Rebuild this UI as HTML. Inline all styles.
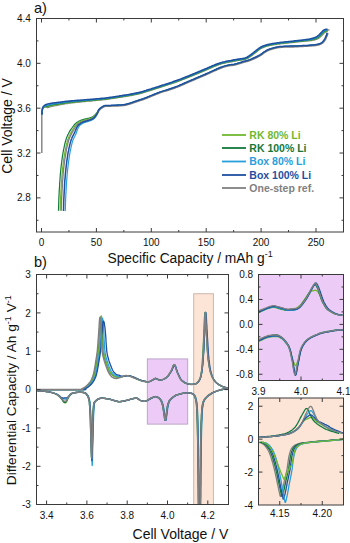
<!DOCTYPE html>
<html><head><meta charset="utf-8"><style>
html,body{margin:0;padding:0;background:#fff;}
svg{display:block;}
svg text{font-family:"Liberation Sans",sans-serif;}
</style></head><body>
<svg width="350" height="543" viewBox="0 0 350 543" font-family="Liberation Sans, sans-serif">
<rect width="350" height="543" fill="#fff"/>
<rect x="36.5" y="18.5" width="307.0" height="213.5" fill="none" stroke="#3a3a3a" stroke-width="1"/>
<line x1="41.50" y1="232.00" x2="41.50" y2="228.00" stroke="#3a3a3a" stroke-width="1"/>
<line x1="41.50" y1="18.50" x2="41.50" y2="22.50" stroke="#3a3a3a" stroke-width="1"/>
<line x1="96.40" y1="232.00" x2="96.40" y2="228.00" stroke="#3a3a3a" stroke-width="1"/>
<line x1="96.40" y1="18.50" x2="96.40" y2="22.50" stroke="#3a3a3a" stroke-width="1"/>
<line x1="151.30" y1="232.00" x2="151.30" y2="228.00" stroke="#3a3a3a" stroke-width="1"/>
<line x1="151.30" y1="18.50" x2="151.30" y2="22.50" stroke="#3a3a3a" stroke-width="1"/>
<line x1="206.20" y1="232.00" x2="206.20" y2="228.00" stroke="#3a3a3a" stroke-width="1"/>
<line x1="206.20" y1="18.50" x2="206.20" y2="22.50" stroke="#3a3a3a" stroke-width="1"/>
<line x1="261.10" y1="232.00" x2="261.10" y2="228.00" stroke="#3a3a3a" stroke-width="1"/>
<line x1="261.10" y1="18.50" x2="261.10" y2="22.50" stroke="#3a3a3a" stroke-width="1"/>
<line x1="316.00" y1="232.00" x2="316.00" y2="228.00" stroke="#3a3a3a" stroke-width="1"/>
<line x1="316.00" y1="18.50" x2="316.00" y2="22.50" stroke="#3a3a3a" stroke-width="1"/>
<line x1="68.95" y1="232.00" x2="68.95" y2="230.00" stroke="#3a3a3a" stroke-width="1"/>
<line x1="68.95" y1="18.50" x2="68.95" y2="20.50" stroke="#3a3a3a" stroke-width="1"/>
<line x1="123.85" y1="232.00" x2="123.85" y2="230.00" stroke="#3a3a3a" stroke-width="1"/>
<line x1="123.85" y1="18.50" x2="123.85" y2="20.50" stroke="#3a3a3a" stroke-width="1"/>
<line x1="178.75" y1="232.00" x2="178.75" y2="230.00" stroke="#3a3a3a" stroke-width="1"/>
<line x1="178.75" y1="18.50" x2="178.75" y2="20.50" stroke="#3a3a3a" stroke-width="1"/>
<line x1="233.65" y1="232.00" x2="233.65" y2="230.00" stroke="#3a3a3a" stroke-width="1"/>
<line x1="233.65" y1="18.50" x2="233.65" y2="20.50" stroke="#3a3a3a" stroke-width="1"/>
<line x1="288.55" y1="232.00" x2="288.55" y2="230.00" stroke="#3a3a3a" stroke-width="1"/>
<line x1="288.55" y1="18.50" x2="288.55" y2="20.50" stroke="#3a3a3a" stroke-width="1"/>
<line x1="36.50" y1="63.34" x2="40.50" y2="63.34" stroke="#3a3a3a" stroke-width="1"/>
<line x1="343.50" y1="63.34" x2="339.50" y2="63.34" stroke="#3a3a3a" stroke-width="1"/>
<line x1="36.50" y1="108.18" x2="40.50" y2="108.18" stroke="#3a3a3a" stroke-width="1"/>
<line x1="343.50" y1="108.18" x2="339.50" y2="108.18" stroke="#3a3a3a" stroke-width="1"/>
<line x1="36.50" y1="153.02" x2="40.50" y2="153.02" stroke="#3a3a3a" stroke-width="1"/>
<line x1="343.50" y1="153.02" x2="339.50" y2="153.02" stroke="#3a3a3a" stroke-width="1"/>
<line x1="36.50" y1="197.86" x2="40.50" y2="197.86" stroke="#3a3a3a" stroke-width="1"/>
<line x1="343.50" y1="197.86" x2="339.50" y2="197.86" stroke="#3a3a3a" stroke-width="1"/>
<line x1="36.50" y1="40.92" x2="38.50" y2="40.92" stroke="#3a3a3a" stroke-width="1"/>
<line x1="343.50" y1="40.92" x2="341.50" y2="40.92" stroke="#3a3a3a" stroke-width="1"/>
<line x1="36.50" y1="85.76" x2="38.50" y2="85.76" stroke="#3a3a3a" stroke-width="1"/>
<line x1="343.50" y1="85.76" x2="341.50" y2="85.76" stroke="#3a3a3a" stroke-width="1"/>
<line x1="36.50" y1="130.60" x2="38.50" y2="130.60" stroke="#3a3a3a" stroke-width="1"/>
<line x1="343.50" y1="130.60" x2="341.50" y2="130.60" stroke="#3a3a3a" stroke-width="1"/>
<line x1="36.50" y1="175.44" x2="38.50" y2="175.44" stroke="#3a3a3a" stroke-width="1"/>
<line x1="343.50" y1="175.44" x2="341.50" y2="175.44" stroke="#3a3a3a" stroke-width="1"/>
<line x1="36.50" y1="220.28" x2="38.50" y2="220.28" stroke="#3a3a3a" stroke-width="1"/>
<line x1="343.50" y1="220.28" x2="341.50" y2="220.28" stroke="#3a3a3a" stroke-width="1"/>
<text x="30.80" y="22.10" font-size="10" text-anchor="end" fill="#111" font-weight="normal" >4.4</text>
<text x="30.80" y="66.94" font-size="10" text-anchor="end" fill="#111" font-weight="normal" >4.0</text>
<text x="30.80" y="111.78" font-size="10" text-anchor="end" fill="#111" font-weight="normal" >3.6</text>
<text x="30.80" y="156.62" font-size="10" text-anchor="end" fill="#111" font-weight="normal" >3.2</text>
<text x="30.80" y="201.46" font-size="10" text-anchor="end" fill="#111" font-weight="normal" >2.8</text>
<text x="41.50" y="245.60" font-size="10" text-anchor="middle" fill="#111" font-weight="normal" >0</text>
<text x="96.40" y="245.60" font-size="10" text-anchor="middle" fill="#111" font-weight="normal" >50</text>
<text x="151.30" y="245.60" font-size="10" text-anchor="middle" fill="#111" font-weight="normal" >100</text>
<text x="206.20" y="245.60" font-size="10" text-anchor="middle" fill="#111" font-weight="normal" >150</text>
<text x="261.10" y="245.60" font-size="10" text-anchor="middle" fill="#111" font-weight="normal" >200</text>
<text x="316.00" y="245.60" font-size="10" text-anchor="middle" fill="#111" font-weight="normal" >250</text>
<text x="34.00" y="12.60" font-size="14.6" text-anchor="start" fill="#111" font-weight="normal" >a)</text>
<text x="190.10" y="262.70" font-size="13.8" text-anchor="middle" fill="#111" font-weight="normal" >Specific Capacity / mAh g<tspan font-size="9" dy="-5.5">-1</tspan></text>
<text transform="translate(12,126) rotate(-90)" font-size="14" text-anchor="middle" fill="#111">Cell Voltage / V</text>
<path d="M41.8,153 L41.8,113" fill="none" stroke="rgb(128,128,128)" stroke-width="1.4"/>
<path d="M326.5,30.2 L329.6,29.8" fill="none" stroke="rgb(128,128,128)" stroke-width="1.3"/>
<path d="M41.9,114.5 41.9,114.3 41.9,114.0 41.9,113.7 42.0,113.3 42.0,112.9 42.0,112.5 42.0,112.1 42.1,111.7 42.1,111.4 42.2,111.0 42.3,110.7 42.3,110.4 42.4,110.0 42.5,109.7 42.6,109.4 42.7,109.1 42.8,108.9 42.9,108.6 43.0,108.4 43.1,108.2 43.2,108.0 43.4,107.8 43.5,107.7 43.6,107.5 43.8,107.4 43.9,107.3 44.1,107.3 44.2,107.2 44.4,107.2 44.6,107.1 44.8,107.1 45.0,107.1 45.2,107.1 45.4,107.1 45.7,107.1 45.9,107.1 46.1,107.1 46.3,107.2 46.6,107.3 46.8,107.3 47.0,107.4 47.1,107.5 47.3,107.6 47.5,107.7 47.6,107.7 47.8,107.7 48.0,107.6 48.2,107.5 48.5,107.4 48.8,107.3 49.1,107.2 49.4,107.1 49.7,107.0 50.0,106.9 50.3,106.8 50.7,106.7 51.0,106.6 51.4,106.5 51.9,106.3 52.4,106.2 53.1,106.1 53.7,105.9 54.5,105.8 55.3,105.6 56.1,105.5 56.9,105.3 57.8,105.1 58.6,105.0 59.5,104.8 60.3,104.7 61.1,104.6 61.9,104.4 62.6,104.3 63.3,104.1 64.1,104.0 64.8,103.9 65.6,103.7 66.4,103.6 67.3,103.5 68.2,103.3 69.2,103.2 70.3,103.1 71.4,102.9 72.5,102.8 73.7,102.7 74.9,102.5 76.2,102.4 77.5,102.3 78.8,102.1 80.1,102.0 81.5,101.9 83.0,101.7 84.6,101.6 86.2,101.4 87.8,101.2 89.3,101.1 90.9,101.0 92.4,100.8 93.8,100.7 95.1,100.6 96.4,100.4 97.5,100.3 98.7,100.2 99.7,100.1 100.8,100.0 101.7,99.9 102.7,99.8 103.5,99.7 104.4,99.7 105.2,99.6 105.8,99.5 106.4,99.4 106.9,99.4 107.3,99.3 107.7,99.2 108.1,99.2 108.5,99.1 109.0,99.0 109.5,98.9 110.2,98.8 111.0,98.7 111.9,98.6 112.8,98.4 113.8,98.3 114.9,98.1 116.0,97.9 117.1,97.8 118.1,97.6 119.2,97.4 120.2,97.3 121.2,97.1 122.2,97.0 123.2,96.8 124.2,96.7 125.2,96.5 126.2,96.3 127.2,96.2 128.2,96.0 129.2,95.8 130.2,95.6 131.3,95.5 132.3,95.3 133.3,95.1 134.3,94.9 135.3,94.7 136.3,94.5 137.3,94.2 138.3,94.0 139.3,93.8 140.3,93.5 141.4,93.2 142.4,93.0 143.4,92.7 144.4,92.4 145.4,92.1 146.4,91.7 147.4,91.4 148.4,91.1 149.4,90.8 150.4,90.5 151.4,90.2 152.3,89.9 153.2,89.6 154.2,89.3 155.1,89.0 156.1,88.7 157.0,88.4 158.1,88.0 159.2,87.7 160.4,87.3 161.7,86.9 163.1,86.4 164.5,86.0 166.0,85.5 167.6,85.0 169.2,84.5 170.8,84.0 172.3,83.4 173.9,82.9 175.4,82.3 177.0,81.8 178.5,81.2 180.0,80.7 181.5,80.1 183.0,79.5 184.5,78.9 186.0,78.3 187.5,77.7 189.0,77.1 190.5,76.5 192.0,75.9 193.5,75.3 195.0,74.7 196.5,74.1 198.0,73.4 199.5,72.8 201.0,72.2 202.5,71.6 204.0,70.9 205.5,70.3 207.0,69.7 208.5,69.0 210.0,68.4 211.5,67.7 213.0,67.0 214.5,66.4 216.0,65.8 217.5,65.2 218.9,64.6 220.4,64.2 221.9,63.7 223.4,63.3 224.9,63.0 226.5,62.6 228.1,62.3 229.6,62.0 231.1,61.8 232.6,61.5 233.9,61.2 235.2,61.0 236.5,60.8 237.6,60.6 238.7,60.4 239.8,60.3 240.8,60.1 241.8,60.0 242.7,59.8 243.7,59.7 244.5,59.5 245.4,59.3 246.1,59.0 246.8,58.7 247.5,58.5 248.0,58.2 248.5,57.8 249.0,57.5 249.4,57.2 249.9,56.9 250.3,56.6 250.7,56.3 251.3,55.9 251.8,55.6 252.3,55.2 252.8,54.8 253.3,54.4 253.8,54.0 254.3,53.6 254.8,53.2 255.3,52.8 255.8,52.4 256.3,52.1 256.8,51.6 257.3,51.2 257.8,50.8 258.3,50.4 258.8,50.0 259.3,49.7 259.8,49.3 260.2,49.0 260.7,48.7 261.1,48.5 261.6,48.2 262.1,48.0 262.5,47.8 263.0,47.6 263.5,47.4 264.0,47.2 264.5,47.0 264.9,46.8 265.4,46.6 265.9,46.5 266.3,46.3 266.7,46.2 267.1,46.1 267.5,46.0 268.0,45.9 268.4,45.8 269.0,45.7 269.6,45.5 270.3,45.4 271.0,45.2 271.8,45.1 272.7,44.9 273.6,44.8 274.6,44.6 275.6,44.5 276.7,44.3 277.8,44.1 279.0,44.0 280.2,43.8 281.5,43.6 282.9,43.5 284.4,43.3 286.0,43.2 287.6,43.0 289.2,42.8 290.8,42.7 292.3,42.5 293.8,42.4 295.1,42.2 296.4,42.1 297.7,41.9 298.9,41.8 300.1,41.7 301.2,41.6 302.3,41.4 303.4,41.3 304.4,41.2 305.3,41.1 306.2,41.0 307.0,41.0 307.8,40.9 308.4,40.8 309.1,40.8 309.7,40.7 310.2,40.7 310.8,40.6 311.4,40.5 311.9,40.5 312.5,40.3 313.1,40.2 313.7,40.1 314.2,40.0 314.8,39.9 315.4,39.7 316.0,39.5 316.5,39.3 317.1,39.0 317.7,38.8 318.3,38.5 318.8,38.1 319.4,37.7 319.9,37.3 320.4,36.8 320.9,36.4 321.3,36.0 321.7,35.6 322.1,35.2 322.4,34.8 322.7,34.5 323.1,34.2 323.4,33.9 323.6,33.6 323.9,33.3 324.1,33.1 324.3,32.9 324.4,32.8 324.5,32.6 324.6,32.6 324.7,32.5 324.8,32.4 324.9,32.4 325.0,32.3 325.1,32.2 325.3,32.2 325.4,32.1 325.6,32.1 325.8,32.0 326.0,32.0 326.1,31.9 326.2,31.9 326.3,31.9 326.5,31.9 326.6,31.9 326.8,31.8 327.0,31.8 327.1,31.8 327.3,31.8 327.5,31.8 327.7,31.8" fill="none" stroke="rgb(128,128,128)" stroke-width="1.3" stroke-linejoin="round"/>
<path d="M41.9,114.5 41.9,114.3 41.9,114.0 41.9,113.7 42.0,113.3 42.0,112.9 42.0,112.5 42.0,112.1 42.1,111.7 42.1,111.3 42.2,111.0 42.2,110.7 42.3,110.4 42.4,110.0 42.4,109.7 42.5,109.4 42.6,109.1 42.7,108.8 42.8,108.6 42.9,108.3 43.0,108.1 43.1,107.9 43.2,107.7 43.3,107.6 43.5,107.4 43.6,107.3 43.7,107.2 43.9,107.1 44.0,107.0 44.2,107.0 44.4,106.9 44.5,106.8 44.7,106.8 44.9,106.7 45.1,106.7 45.4,106.7 45.6,106.7 45.8,106.7 46.0,106.7 46.2,106.7 46.4,106.7 46.6,106.7 46.8,106.8 47.0,106.8 47.2,106.9 47.4,106.9 47.6,106.8 47.8,106.7 48.0,106.7 48.3,106.6 48.6,106.5 48.9,106.4 49.2,106.3 49.5,106.2 49.8,106.1 50.2,106.0 50.5,105.9 50.9,105.8 51.3,105.7 51.8,105.6 52.3,105.5 52.9,105.3 53.6,105.2 54.4,105.1 55.2,104.9 56.0,104.8 56.8,104.6 57.7,104.5 58.6,104.3 59.4,104.2 60.2,104.1 61.0,103.9 61.8,103.8 62.5,103.7 63.2,103.6 64.0,103.4 64.7,103.3 65.5,103.2 66.3,103.1 67.2,102.9 68.2,102.8 69.2,102.7 70.2,102.6 71.3,102.4 72.5,102.3 73.7,102.2 74.9,102.1 76.2,101.9 77.5,101.8 78.8,101.7 80.1,101.5 81.5,101.4 83.0,101.3 84.5,101.1 86.1,101.0 87.7,100.8 89.3,100.7 90.9,100.6 92.4,100.4 93.8,100.3 95.1,100.2 96.3,100.1 97.5,99.9 98.6,99.8 99.7,99.7 100.7,99.6 101.7,99.6 102.6,99.5 103.5,99.4 104.3,99.3 105.1,99.2 105.8,99.1 106.4,99.1 106.9,99.0 107.3,98.9 107.7,98.9 108.1,98.8 108.5,98.7 108.9,98.7 109.5,98.6 110.2,98.5 111.0,98.4 111.8,98.2 112.8,98.1 113.8,97.9 114.8,97.8 115.9,97.6 117.0,97.4 118.1,97.3 119.1,97.1 120.2,96.9 121.2,96.8 122.2,96.6 123.2,96.5 124.2,96.3 125.2,96.2 126.2,96.0 127.2,95.8 128.2,95.7 129.2,95.5 130.2,95.3 131.2,95.1 132.2,94.9 133.2,94.7 134.2,94.5 135.2,94.3 136.2,94.1 137.2,93.9 138.2,93.7 139.2,93.4 140.3,93.2 141.3,92.9 142.3,92.6 143.3,92.3 144.3,92.0 145.3,91.7 146.3,91.4 147.3,91.1 148.3,90.8 149.3,90.5 150.3,90.2 151.3,89.9 152.2,89.6 153.1,89.3 154.1,89.0 155.0,88.7 155.9,88.4 156.9,88.0 158.0,87.7 159.1,87.3 160.3,87.0 161.6,86.5 163.0,86.1 164.4,85.6 165.9,85.2 167.5,84.7 169.1,84.2 170.7,83.6 172.2,83.1 173.8,82.6 175.3,82.0 176.8,81.5 178.3,80.9 179.9,80.4 181.4,79.8 182.9,79.2 184.4,78.6 185.9,78.0 187.4,77.4 188.9,76.8 190.4,76.2 191.9,75.6 193.4,75.0 194.9,74.4 196.4,73.8 197.9,73.1 199.4,72.5 200.9,71.9 202.4,71.3 203.9,70.6 205.4,70.0 206.9,69.4 208.4,68.7 209.9,68.1 211.4,67.4 212.9,66.7 214.4,66.1 215.9,65.5 217.4,64.9 218.8,64.3 220.3,63.8 221.8,63.4 223.3,63.0 224.9,62.6 226.4,62.3 228.0,62.0 229.5,61.7 231.0,61.4 232.5,61.2 233.9,60.9 235.2,60.7 236.4,60.4 237.6,60.3 238.7,60.1 239.7,59.9 240.8,59.8 241.7,59.7 242.7,59.5 243.6,59.4 244.5,59.2 245.3,58.9 246.0,58.7 246.7,58.4 247.3,58.2 247.9,57.9 248.3,57.6 248.8,57.3 249.2,57.0 249.7,56.6 250.1,56.3 250.6,56.0 251.1,55.7 251.6,55.3 252.1,54.9 252.6,54.5 253.1,54.1 253.6,53.7 254.1,53.3 254.6,53.0 255.1,52.6 255.6,52.2 256.1,51.8 256.6,51.4 257.1,51.0 257.6,50.6 258.1,50.2 258.6,49.8 259.1,49.4 259.6,49.1 260.0,48.7 260.5,48.4 261.0,48.2 261.5,47.9 261.9,47.7 262.4,47.5 262.9,47.3 263.4,47.1 263.9,46.9 264.3,46.7 264.8,46.5 265.3,46.3 265.8,46.2 266.2,46.0 266.6,45.9 267.0,45.8 267.4,45.7 267.9,45.6 268.3,45.4 268.9,45.3 269.5,45.2 270.2,45.1 271.0,44.9 271.8,44.8 272.6,44.6 273.6,44.5 274.5,44.3 275.6,44.1 276.6,44.0 277.7,43.8 278.9,43.6 280.1,43.5 281.4,43.3 282.9,43.2 284.4,43.0 285.9,42.8 287.5,42.7 289.1,42.5 290.7,42.3 292.3,42.2 293.7,42.0 295.1,41.9 296.4,41.7 297.6,41.6 298.9,41.5 300.0,41.3 301.2,41.2 302.3,41.1 303.3,41.0 304.3,40.9 305.3,40.8 306.2,40.7 307.0,40.6 307.7,40.5 308.4,40.5 309.0,40.4 309.6,40.3 310.2,40.3 310.7,40.2 311.3,40.1 311.8,40.0 312.4,39.9 313.0,39.8 313.5,39.6 314.1,39.5 314.6,39.3 315.2,39.2 315.8,39.0 316.3,38.8 316.9,38.5 317.4,38.3 317.9,38.0 318.5,37.6 319.0,37.2 319.5,36.8 320.0,36.4 320.5,36.0 320.9,35.5 321.3,35.1 321.7,34.8 322.0,34.4 322.3,34.1 322.6,33.8 322.9,33.5 323.2,33.2 323.4,32.9 323.6,32.7 323.8,32.5 323.9,32.3 324.1,32.2 324.2,32.1 324.3,32.0 324.4,31.9 324.6,31.8 324.7,31.8 324.9,31.7 325.1,31.6 325.2,31.5 325.4,31.5 325.6,31.4 325.8,31.4 326.0,31.3 326.1,31.3 326.2,31.3 326.4,31.2 326.6,31.2 326.8,31.2 326.9,31.2 327.1,31.2 327.3,31.2 327.5,31.2 327.6,31.2" fill="none" stroke="rgb(112,184,48)" stroke-width="1.2" stroke-linejoin="round"/>
<path d="M41.9,114.5 41.9,114.3 41.9,114.0 41.9,113.7 42.0,113.3 42.0,112.9 42.0,112.5 42.0,112.1 42.1,111.7 42.1,111.3 42.1,111.0 42.2,110.7 42.3,110.4 42.3,110.0 42.4,109.7 42.4,109.4 42.5,109.1 42.6,108.8 42.7,108.6 42.8,108.3 42.9,108.1 43.0,107.9 43.1,107.7 43.2,107.5 43.3,107.4 43.4,107.2 43.6,107.1 43.7,107.0 43.8,106.9 44.0,106.8 44.1,106.7 44.3,106.6 44.5,106.5 44.7,106.5 44.9,106.4 45.1,106.3 45.3,106.3 45.5,106.2 45.8,106.2 46.0,106.2 46.2,106.2 46.4,106.2 46.6,106.2 46.8,106.2 47.0,106.2 47.2,106.2 47.4,106.1 47.6,106.0 47.9,106.0 48.1,105.9 48.4,105.8 48.8,105.7 49.1,105.6 49.4,105.5 49.7,105.4 50.0,105.3 50.4,105.2 50.8,105.1 51.2,105.0 51.7,104.9 52.2,104.8 52.9,104.7 53.6,104.6 54.3,104.5 55.1,104.3 55.9,104.2 56.8,104.1 57.6,103.9 58.5,103.8 59.4,103.7 60.2,103.6 61.0,103.4 61.7,103.3 62.4,103.2 63.2,103.1 63.9,103.0 64.7,102.8 65.5,102.7 66.3,102.6 67.2,102.5 68.1,102.4 69.1,102.2 70.2,102.1 71.3,102.0 72.5,101.9 73.6,101.8 74.9,101.7 76.1,101.5 77.4,101.4 78.7,101.3 80.1,101.2 81.5,101.0 83.0,100.9 84.5,100.8 86.1,100.6 87.7,100.5 89.3,100.4 90.8,100.2 92.3,100.1 93.8,100.0 95.1,99.8 96.3,99.7 97.5,99.6 98.6,99.5 99.7,99.4 100.7,99.3 101.7,99.2 102.6,99.2 103.5,99.1 104.3,99.0 105.1,98.9 105.8,98.8 106.3,98.7 106.8,98.7 107.2,98.6 107.6,98.6 108.0,98.5 108.4,98.4 108.9,98.4 109.4,98.3 110.1,98.2 110.9,98.1 111.8,97.9 112.7,97.8 113.8,97.6 114.8,97.5 115.9,97.3 117.0,97.1 118.0,97.0 119.1,96.8 120.1,96.6 121.1,96.5 122.1,96.3 123.1,96.2 124.1,96.0 125.1,95.9 126.1,95.7 127.1,95.6 128.1,95.4 129.1,95.2 130.1,95.0 131.1,94.8 132.1,94.7 133.1,94.5 134.1,94.3 135.1,94.1 136.2,93.8 137.2,93.6 138.2,93.4 139.2,93.2 140.2,92.9 141.2,92.6 142.2,92.4 143.2,92.1 144.2,91.8 145.2,91.5 146.2,91.2 147.2,90.8 148.2,90.5 149.2,90.2 150.2,89.9 151.2,89.6 152.1,89.3 153.1,89.0 154.0,88.7 154.9,88.4 155.9,88.1 156.9,87.8 157.9,87.4 159.0,87.1 160.2,86.7 161.5,86.3 162.9,85.8 164.4,85.4 165.9,84.9 167.4,84.4 169.0,83.9 170.6,83.4 172.1,82.8 173.7,82.3 175.2,81.8 176.7,81.2 178.3,80.7 179.8,80.1 181.3,79.5 182.8,78.9 184.3,78.4 185.8,77.8 187.3,77.2 188.8,76.6 190.3,76.0 191.8,75.4 193.3,74.7 194.8,74.1 196.3,73.5 197.8,72.9 199.3,72.3 200.8,71.6 202.3,71.0 203.8,70.4 205.3,69.8 206.8,69.1 208.3,68.5 209.8,67.8 211.3,67.1 212.8,66.5 214.3,65.8 215.8,65.2 217.3,64.6 218.7,64.1 220.2,63.6 221.7,63.1 223.3,62.7 224.8,62.4 226.4,62.0 227.9,61.7 229.5,61.4 231.0,61.2 232.4,60.9 233.8,60.6 235.1,60.4 236.3,60.2 237.5,60.0 238.6,59.8 239.7,59.7 240.7,59.5 241.7,59.4 242.6,59.2 243.5,59.1 244.4,58.9 245.2,58.7 245.9,58.4 246.6,58.2 247.2,57.9 247.7,57.6 248.2,57.3 248.6,57.0 249.1,56.7 249.5,56.4 249.9,56.1 250.4,55.8 250.9,55.4 251.4,55.1 251.9,54.7 252.4,54.3 252.9,53.9 253.4,53.5 253.9,53.1 254.4,52.7 254.9,52.3 255.4,52.0 255.9,51.6 256.4,51.2 257.0,50.8 257.4,50.4 257.9,50.0 258.4,49.6 258.9,49.2 259.4,48.8 259.9,48.5 260.4,48.2 260.8,47.9 261.3,47.7 261.8,47.4 262.3,47.2 262.8,47.0 263.3,46.8 263.8,46.6 264.2,46.4 264.7,46.2 265.2,46.1 265.7,45.9 266.1,45.8 266.6,45.6 267.0,45.5 267.4,45.4 267.8,45.3 268.3,45.2 268.8,45.1 269.4,44.9 270.1,44.8 270.9,44.7 271.7,44.5 272.6,44.3 273.5,44.2 274.5,44.0 275.5,43.9 276.6,43.7 277.7,43.5 278.9,43.4 280.1,43.2 281.4,43.0 282.8,42.9 284.3,42.7 285.9,42.6 287.5,42.4 289.1,42.2 290.7,42.1 292.2,41.9 293.7,41.8 295.1,41.6 296.4,41.5 297.6,41.3 298.8,41.2 300.0,41.1 301.1,40.9 302.2,40.8 303.3,40.7 304.3,40.6 305.2,40.5 306.1,40.4 306.9,40.3 307.7,40.2 308.3,40.1 308.9,40.1 309.5,40.0 310.1,39.9 310.6,39.8 311.2,39.7 311.7,39.6 312.3,39.5 312.8,39.4 313.4,39.2 314.0,39.1 314.5,38.9 315.0,38.8 315.6,38.6 316.1,38.4 316.6,38.1 317.2,37.9 317.7,37.6 318.2,37.2 318.7,36.8 319.2,36.4 319.7,36.0 320.1,35.6 320.5,35.2 320.9,34.8 321.3,34.4 321.6,34.1 321.9,33.7 322.3,33.4 322.5,33.1 322.8,32.9 323.0,32.6 323.2,32.4 323.4,32.2 323.6,32.0 323.7,31.8 323.9,31.7 324.0,31.6 324.2,31.5 324.3,31.4 324.5,31.3 324.7,31.2 324.9,31.1 325.1,31.1 325.3,31.0 325.5,30.9 325.7,30.9 325.8,30.8 326.0,30.8 326.2,30.7 326.3,30.7 326.5,30.7 326.7,30.7 326.9,30.7 327.1,30.7 327.3,30.7 327.5,30.7 327.6,30.7" fill="none" stroke="rgb(20,120,60)" stroke-width="1.2" stroke-linejoin="round"/>
<path d="M41.9,114.5 41.9,114.3 41.9,114.0 41.9,113.7 42.0,113.3 42.0,112.9 42.0,112.5 42.0,112.1 42.0,111.7 42.1,111.3 42.1,111.0 42.2,110.7 42.2,110.4 42.3,110.0 42.3,109.7 42.4,109.4 42.5,109.1 42.5,108.8 42.6,108.5 42.7,108.3 42.8,108.1 42.9,107.8 43.0,107.6 43.1,107.5 43.2,107.3 43.3,107.1 43.4,107.0 43.5,106.9 43.6,106.7 43.8,106.6 43.9,106.5 44.1,106.4 44.3,106.3 44.5,106.2 44.7,106.1 44.9,106.0 45.1,105.9 45.3,105.8 45.5,105.8 45.7,105.7 45.9,105.6 46.1,105.6 46.3,105.6 46.5,105.5 46.7,105.5 47.0,105.5 47.2,105.4 47.4,105.3 47.7,105.3 48.0,105.2 48.3,105.1 48.6,105.0 48.9,104.9 49.2,104.8 49.5,104.8 49.9,104.7 50.2,104.6 50.6,104.5 51.1,104.4 51.6,104.3 52.1,104.2 52.8,104.1 53.5,104.0 54.2,103.9 55.0,103.7 55.9,103.6 56.7,103.5 57.6,103.4 58.4,103.3 59.3,103.1 60.1,103.0 60.9,102.9 61.6,102.8 62.4,102.7 63.1,102.6 63.9,102.5 64.6,102.4 65.4,102.2 66.2,102.1 67.1,102.0 68.1,101.9 69.1,101.8 70.2,101.7 71.3,101.6 72.4,101.5 73.6,101.4 74.8,101.3 76.1,101.1 77.4,101.0 78.7,100.9 80.0,100.8 81.4,100.7 82.9,100.5 84.5,100.4 86.1,100.3 87.7,100.1 89.3,100.0 90.8,99.9 92.3,99.8 93.7,99.6 95.0,99.5 96.3,99.4 97.4,99.3 98.6,99.2 99.6,99.1 100.7,99.0 101.6,98.9 102.6,98.8 103.4,98.8 104.3,98.7 105.1,98.6 105.7,98.5 106.3,98.4 106.8,98.4 107.2,98.3 107.6,98.3 108.0,98.2 108.4,98.1 108.8,98.1 109.4,98.0 110.1,97.9 110.9,97.8 111.7,97.6 112.7,97.5 113.7,97.3 114.8,97.2 115.8,97.0 116.9,96.8 118.0,96.7 119.0,96.5 120.1,96.4 121.1,96.2 122.1,96.1 123.1,95.9 124.1,95.7 125.1,95.6 126.1,95.4 127.1,95.3 128.1,95.1 129.1,94.9 130.1,94.7 131.1,94.6 132.1,94.4 133.1,94.2 134.1,94.0 135.1,93.8 136.1,93.6 137.1,93.4 138.1,93.1 139.1,92.9 140.1,92.6 141.1,92.4 142.1,92.1 143.1,91.8 144.1,91.5 145.1,91.2 146.1,90.9 147.1,90.6 148.1,90.3 149.1,89.9 150.1,89.6 151.1,89.3 152.1,89.0 153.0,88.7 153.9,88.4 154.8,88.1 155.8,87.8 156.8,87.5 157.8,87.2 158.9,86.8 160.1,86.4 161.4,86.0 162.8,85.6 164.3,85.1 165.8,84.6 167.3,84.1 168.9,83.6 170.5,83.1 172.1,82.6 173.6,82.1 175.1,81.5 176.7,81.0 178.2,80.4 179.7,79.9 181.2,79.3 182.7,78.7 184.2,78.1 185.7,77.5 187.2,76.9 188.7,76.3 190.2,75.7 191.7,75.1 193.2,74.5 194.7,73.9 196.2,73.3 197.7,72.6 199.2,72.0 200.7,71.4 202.2,70.8 203.7,70.1 205.2,69.5 206.7,68.9 208.2,68.2 209.7,67.5 211.2,66.9 212.7,66.2 214.2,65.6 215.7,64.9 217.2,64.4 218.6,63.8 220.1,63.3 221.6,62.9 223.2,62.5 224.8,62.1 226.3,61.8 227.9,61.5 229.4,61.2 230.9,60.9 232.4,60.6 233.8,60.4 235.1,60.1 236.3,59.9 237.5,59.7 238.6,59.6 239.7,59.4 240.7,59.3 241.7,59.1 242.6,59.0 243.5,58.8 244.3,58.6 245.1,58.4 245.9,58.2 246.5,57.9 247.1,57.7 247.6,57.4 248.0,57.1 248.5,56.8 248.9,56.5 249.3,56.2 249.8,55.9 250.2,55.6 250.8,55.2 251.3,54.9 251.8,54.5 252.3,54.1 252.8,53.7 253.3,53.3 253.8,52.9 254.3,52.5 254.8,52.1 255.3,51.7 255.8,51.4 256.3,51.0 256.8,50.6 257.3,50.1 257.8,49.7 258.3,49.4 258.8,49.0 259.3,48.6 259.7,48.3 260.2,48.0 260.7,47.7 261.2,47.4 261.7,47.2 262.2,47.0 262.7,46.7 263.2,46.5 263.7,46.4 264.2,46.2 264.6,46.0 265.1,45.8 265.6,45.7 266.1,45.5 266.5,45.4 266.9,45.3 267.3,45.1 267.7,45.0 268.2,44.9 268.8,44.8 269.4,44.7 270.1,44.5 270.9,44.4 271.7,44.2 272.6,44.1 273.5,43.9 274.4,43.8 275.5,43.6 276.5,43.4 277.7,43.3 278.8,43.1 280.1,42.9 281.4,42.8 282.8,42.6 284.3,42.4 285.9,42.3 287.5,42.1 289.1,42.0 290.7,41.8 292.2,41.6 293.7,41.5 295.0,41.3 296.3,41.2 297.6,41.1 298.8,40.9 300.0,40.8 301.1,40.7 302.2,40.5 303.2,40.4 304.2,40.3 305.2,40.2 306.1,40.1 306.9,40.0 307.6,39.9 308.3,39.8 308.9,39.7 309.5,39.6 310.0,39.6 310.6,39.5 311.1,39.4 311.6,39.2 312.2,39.1 312.7,39.0 313.3,38.8 313.8,38.7 314.4,38.5 314.9,38.3 315.4,38.1 315.9,37.9 316.4,37.7 316.9,37.4 317.4,37.2 317.9,36.8 318.4,36.5 318.9,36.1 319.3,35.7 319.7,35.2 320.2,34.8 320.6,34.4 320.9,34.0 321.3,33.7 321.6,33.4 321.9,33.1 322.2,32.8 322.4,32.5 322.6,32.3 322.8,32.0 323.0,31.8 323.2,31.6 323.4,31.5 323.5,31.3 323.7,31.2 323.9,31.0 324.1,30.9 324.3,30.8 324.5,30.7 324.7,30.6 324.9,30.6 325.1,30.5 325.3,30.4 325.5,30.4 325.7,30.3 325.9,30.3 326.1,30.2 326.3,30.2 326.5,30.2 326.7,30.2 326.9,30.2 327.1,30.2 327.3,30.2 327.4,30.1 327.6,30.1" fill="none" stroke="rgb(40,160,220)" stroke-width="1.2" stroke-linejoin="round"/>
<path d="M41.9,114.5 41.9,114.3 41.9,114.0 41.9,113.7 42.0,113.3 42.0,112.9 42.0,112.5 42.0,112.1 42.0,111.7 42.1,111.3 42.1,111.0 42.1,110.7 42.2,110.3 42.2,110.0 42.3,109.7 42.3,109.4 42.3,109.1 42.4,108.8 42.5,108.5 42.5,108.2 42.6,108.0 42.7,107.8 42.8,107.6 42.8,107.4 42.9,107.2 43.0,107.0 43.1,106.8 43.2,106.7 43.3,106.5 43.5,106.4 43.6,106.2 43.8,106.0 43.9,105.9 44.1,105.7 44.3,105.6 44.5,105.4 44.7,105.3 44.9,105.2 45.1,105.0 45.3,104.9 45.5,104.8 45.7,104.7 45.9,104.6 46.2,104.5 46.4,104.4 46.6,104.4 46.9,104.3 47.1,104.2 47.4,104.2 47.7,104.1 48.0,104.0 48.3,103.9 48.6,103.8 49.0,103.8 49.3,103.7 49.7,103.6 50.0,103.5 50.5,103.5 50.9,103.4 51.4,103.3 52.0,103.2 52.6,103.1 53.3,103.0 54.1,102.9 54.9,102.8 55.8,102.7 56.6,102.6 57.5,102.5 58.3,102.4 59.2,102.3 60.0,102.2 60.8,102.1 61.5,102.0 62.3,101.9 63.0,101.8 63.8,101.7 64.5,101.6 65.3,101.5 66.1,101.4 67.0,101.3 68.0,101.2 69.0,101.1 70.1,101.0 71.2,100.9 72.4,100.8 73.6,100.7 74.8,100.6 76.1,100.5 77.3,100.4 78.7,100.3 80.0,100.2 81.4,100.1 82.9,100.0 84.4,99.8 86.0,99.7 87.6,99.6 89.2,99.5 90.8,99.3 92.3,99.2 93.7,99.1 95.0,99.0 96.2,98.9 97.4,98.8 98.5,98.7 99.6,98.6 100.6,98.5 101.6,98.4 102.5,98.3 103.4,98.3 104.2,98.2 105.0,98.1 105.7,98.0 106.2,98.0 106.7,97.9 107.1,97.8 107.5,97.8 107.9,97.7 108.3,97.7 108.8,97.6 109.3,97.5 110.0,97.4 110.8,97.3 111.7,97.2 112.6,97.0 113.6,96.9 114.7,96.7 115.8,96.5 116.8,96.4 117.9,96.2 119.0,96.1 120.0,95.9 121.0,95.7 122.0,95.6 123.0,95.4 124.0,95.3 125.0,95.1 126.0,95.0 127.0,94.8 128.0,94.7 129.0,94.5 130.0,94.3 131.0,94.1 132.0,93.9 133.0,93.7 134.0,93.5 135.0,93.3 136.0,93.1 137.0,92.9 138.0,92.7 139.0,92.4 140.0,92.2 141.0,91.9 142.0,91.7 143.0,91.4 144.0,91.1 145.0,90.8 146.0,90.5 147.0,90.1 148.0,89.8 149.0,89.5 150.0,89.2 151.0,88.9 151.9,88.6 152.8,88.3 153.8,88.0 154.7,87.7 155.6,87.4 156.6,87.1 157.7,86.8 158.8,86.4 160.0,86.0 161.3,85.6 162.7,85.1 164.1,84.7 165.6,84.2 167.2,83.7 168.8,83.2 170.3,82.7 171.9,82.2 173.5,81.6 175.0,81.1 176.5,80.6 178.0,80.0 179.5,79.4 181.0,78.9 182.5,78.3 184.0,77.7 185.5,77.1 187.0,76.5 188.5,75.9 190.0,75.3 191.5,74.7 193.0,74.1 194.5,73.5 196.0,72.8 197.5,72.2 199.0,71.6 200.5,71.0 202.0,70.3 203.5,69.7 205.0,69.1 206.5,68.5 208.0,67.8 209.5,67.1 211.0,66.5 212.5,65.8 214.0,65.2 215.5,64.5 217.0,63.9 218.5,63.4 220.0,62.9 221.5,62.5 223.1,62.0 224.7,61.7 226.2,61.3 227.8,61.0 229.4,60.7 230.9,60.5 232.3,60.2 233.7,59.9 235.0,59.7 236.2,59.5 237.4,59.3 238.5,59.1 239.6,59.0 240.6,58.8 241.6,58.7 242.5,58.5 243.4,58.4 244.2,58.2 245.0,58.0 245.7,57.8 246.3,57.5 246.9,57.3 247.4,57.0 247.8,56.7 248.2,56.4 248.7,56.1 249.1,55.8 249.5,55.5 250.0,55.2 250.5,54.9 251.0,54.5 251.5,54.1 252.0,53.8 252.5,53.4 253.0,53.0 253.5,52.6 254.0,52.2 254.5,51.8 255.0,51.4 255.5,51.0 256.0,50.6 256.5,50.2 257.0,49.8 257.5,49.4 258.0,49.0 258.5,48.6 259.0,48.3 259.5,47.9 260.0,47.6 260.5,47.3 261.0,47.0 261.5,46.8 262.0,46.6 262.5,46.3 263.0,46.1 263.5,45.9 264.0,45.8 264.5,45.6 265.0,45.4 265.5,45.2 265.9,45.1 266.3,45.0 266.8,44.8 267.2,44.7 267.6,44.6 268.1,44.5 268.7,44.4 269.3,44.2 270.0,44.1 270.8,44.0 271.6,43.8 272.5,43.6 273.4,43.5 274.4,43.3 275.4,43.2 276.5,43.0 277.6,42.8 278.8,42.7 280.0,42.5 281.3,42.3 282.7,42.2 284.3,42.0 285.8,41.8 287.4,41.7 289.0,41.5 290.6,41.4 292.2,41.2 293.6,41.0 295.0,40.9 296.3,40.8 297.5,40.6 298.8,40.5 299.9,40.3 301.1,40.2 302.2,40.1 303.2,40.0 304.2,39.8 305.1,39.7 306.0,39.6 306.8,39.5 307.5,39.4 308.2,39.3 308.8,39.2 309.4,39.1 309.9,39.0 310.4,38.9 310.9,38.8 311.5,38.6 312.0,38.5 312.5,38.3 313.1,38.2 313.6,38.0 314.1,37.8 314.6,37.7 315.1,37.5 315.6,37.3 316.1,37.0 316.5,36.8 317.0,36.5 317.4,36.2 317.9,35.8 318.3,35.5 318.8,35.1 319.2,34.7 319.6,34.3 320.0,33.9 320.3,33.5 320.7,33.1 321.0,32.8 321.3,32.5 321.6,32.2 321.8,32.0 322.0,31.7 322.2,31.5 322.4,31.3 322.6,31.1 322.8,30.9 323.0,30.7 323.2,30.5 323.4,30.3 323.7,30.2 323.9,30.1 324.1,30.0 324.4,29.9 324.6,29.8 324.8,29.7 325.1,29.6 325.3,29.6 325.5,29.5 325.7,29.4 326.0,29.4 326.2,29.4 326.4,29.4 326.6,29.3 326.9,29.3 327.1,29.3 327.2,29.3 327.4,29.3 327.5,29.3" fill="none" stroke="rgb(30,80,160)" stroke-width="1.6" stroke-linejoin="round"/>
<path d="M327.2,32.9 327.2,33.0 327.2,33.2 327.1,33.4 327.1,33.6 327.1,33.8 327.0,34.0 327.0,34.2 326.9,34.4 326.9,34.6 326.8,34.8 326.8,35.0 326.7,35.1 326.7,35.3 326.6,35.4 326.5,35.6 326.5,35.7 326.4,35.9 326.3,36.1 326.2,36.3 326.1,36.6 325.9,36.8 325.8,37.1 325.7,37.4 325.6,37.8 325.4,38.1 325.3,38.4 325.1,38.7 325.0,39.1 324.8,39.4 324.6,39.7 324.4,40.0 324.2,40.3 323.9,40.6 323.7,41.0 323.4,41.3 323.1,41.6 322.8,41.9 322.6,42.2 322.3,42.5 321.9,42.7 321.6,42.9 321.3,43.2 321.0,43.4 320.7,43.5 320.3,43.7 320.0,43.8 319.6,44.0 319.1,44.1 318.6,44.3 318.1,44.4 317.5,44.5 316.8,44.7 316.2,44.8 315.5,44.9 314.7,45.0 313.9,45.1 313.0,45.1 312.1,45.2 311.1,45.3 310.0,45.4 308.7,45.5 307.4,45.6 306.0,45.7 304.5,45.7 302.9,45.8 301.3,45.9 299.7,46.0 298.1,46.1 296.5,46.1 295.0,46.2 293.5,46.3 291.9,46.3 290.3,46.3 288.7,46.4 287.2,46.4 285.6,46.4 284.1,46.5 282.6,46.6 281.2,46.7 279.9,46.8 278.7,47.0 277.5,47.2 276.4,47.4 275.3,47.6 274.2,47.9 273.2,48.2 272.3,48.4 271.4,48.7 270.6,49.0 269.8,49.2 269.1,49.5 268.5,49.7 267.9,50.0 267.4,50.2 266.9,50.5 266.5,50.7 266.0,51.0 265.6,51.2 265.2,51.5 264.7,51.8 264.2,52.1 263.7,52.4 263.3,52.8 262.9,53.1 262.4,53.4 262.0,53.8 261.5,54.1 261.0,54.5 260.4,54.9 259.7,55.3 258.9,55.7 258.0,56.2 257.0,56.7 256.0,57.2 254.9,57.7 253.8,58.2 252.7,58.7 251.6,59.2 250.7,59.6 249.8,59.9 249.0,60.2 248.2,60.5 247.5,60.7 246.9,60.9 246.2,61.1 245.6,61.2 244.9,61.4 244.3,61.5 243.6,61.7 242.8,61.9 242.1,62.2 241.3,62.4 240.5,62.7 239.6,62.9 238.8,63.2 238.0,63.4 237.2,63.7 236.4,63.9 235.6,64.1 234.9,64.3 234.1,64.5 233.5,64.6 232.8,64.7 232.1,64.8 231.4,64.8 230.8,64.9 230.1,65.0 229.4,65.1 228.6,65.3 227.9,65.4 227.1,65.6 226.4,65.8 225.7,65.9 225.0,66.1 224.3,66.3 223.6,66.6 222.8,66.8 221.9,67.1 220.9,67.5 219.8,67.9 218.6,68.4 217.2,69.0 215.8,69.7 214.3,70.3 212.7,71.1 211.1,71.8 209.5,72.5 207.9,73.3 206.3,74.0 204.8,74.7 203.3,75.3 201.8,75.9 200.3,76.6 198.8,77.2 197.3,77.9 195.8,78.5 194.3,79.1 192.8,79.8 191.3,80.4 189.8,81.0 188.3,81.7 186.8,82.4 185.3,83.0 183.8,83.7 182.3,84.3 180.8,85.0 179.3,85.6 177.8,86.3 176.3,86.9 174.8,87.4 173.3,88.0 171.8,88.5 170.3,89.0 168.8,89.4 167.3,89.9 165.8,90.4 164.3,90.8 162.8,91.3 161.3,91.8 159.8,92.3 158.2,92.9 156.6,93.5 155.0,94.2 153.3,94.9 151.6,95.5 150.1,96.2 148.5,96.8 147.1,97.4 145.9,97.9 144.8,98.3 143.9,98.7 143.2,99.0 142.6,99.2 142.1,99.3 141.7,99.4 141.3,99.6 141.0,99.7 140.7,99.8 140.3,99.9 139.8,100.0 139.3,100.2 138.8,100.4 138.3,100.5 137.8,100.7 137.3,100.9 136.8,101.1 136.3,101.2 135.8,101.4 135.3,101.6 134.8,101.7 134.3,101.9 133.8,102.1 133.3,102.3 132.8,102.4 132.3,102.6 131.8,102.8 131.3,103.0 130.8,103.1 130.3,103.3 129.8,103.4 129.3,103.6 128.8,103.7 128.3,103.9 127.8,104.0 127.3,104.1 126.9,104.3 126.4,104.4 125.9,104.5 125.4,104.6 124.9,104.7 124.4,104.8 124.0,104.9 123.6,104.9 123.2,105.0 122.8,105.0 122.3,105.0 121.8,105.1 121.3,105.1 120.7,105.2 120.0,105.2 119.1,105.2 118.2,105.3 117.2,105.3 116.1,105.4 114.9,105.4 113.8,105.5 112.7,105.5 111.7,105.5 110.8,105.6 110.0,105.6 109.3,105.6 108.7,105.6 108.2,105.6 107.7,105.6 107.3,105.6 106.9,105.6 106.5,105.6 106.2,105.6 105.8,105.6 105.4,105.7 105.0,105.8 104.6,105.9 104.3,106.0 104.0,106.1 103.7,106.3 103.4,106.4 103.1,106.6 102.8,106.7 102.5,106.9 102.2,107.1 101.9,107.3 101.6,107.5 101.2,107.7 100.9,107.9 100.6,108.2 100.2,108.5 99.9,108.7 99.6,109.0 99.3,109.3 99.0,109.6 98.8,109.9 98.5,110.3 98.2,110.6 98.0,111.0 97.8,111.3 97.6,111.7 97.4,112.0 97.2,112.3 97.0,112.6 96.7,112.9 96.5,113.2 96.3,113.5 96.0,113.7 95.8,114.0 95.6,114.3 95.3,114.5 95.1,114.8 94.9,115.0 94.6,115.2 94.4,115.5 94.1,115.7 93.9,115.9 93.6,116.1 93.3,116.3 93.1,116.5 92.8,116.7 92.6,116.8 92.3,117.0 92.0,117.1 91.7,117.3 91.4,117.4 91.0,117.5 90.6,117.7 90.2,117.8 89.8,117.9 89.3,118.0 88.8,118.2 88.3,118.3 87.8,118.4 87.3,118.6 86.8,118.7 86.2,118.8 85.7,118.9 85.1,119.1 84.5,119.2 83.9,119.3 83.2,119.5 82.6,119.7 82.0,119.9 81.4,120.1 80.8,120.3 80.2,120.5 79.7,120.8 79.1,121.1 78.6,121.3 78.1,121.6 77.6,122.0 77.1,122.3 76.6,122.6 76.1,123.0 75.7,123.3 75.3,123.7 74.9,124.1 74.5,124.5 74.2,124.9 73.9,125.3 73.6,125.7 73.3,126.1 72.9,126.5 72.6,127.0 72.2,127.5 71.9,128.0 71.5,128.6 71.1,129.1 70.7,129.7 70.3,130.3 69.9,130.9 69.5,131.6 69.2,132.2 68.9,132.8 68.6,133.4 68.3,134.0 68.0,134.5 67.8,135.1 67.5,135.7 67.2,136.3 66.9,136.9 66.7,137.6 66.4,138.4 66.1,139.2 65.9,140.1 65.6,141.0 65.3,142.0 65.1,143.0 64.8,144.0 64.6,145.1 64.3,146.2 64.1,147.3 63.9,148.4 63.6,149.5 63.4,150.6 63.2,151.8 63.0,153.0 62.8,154.2 62.6,155.4 62.4,156.6 62.2,157.9 62.1,159.1 61.9,160.4 61.7,161.7 61.6,162.9 61.4,164.2 61.2,165.5 61.1,166.7 61.0,168.0 60.8,169.3 60.7,170.7 60.6,172.0 60.4,173.4 60.3,174.8 60.2,176.2 60.1,177.8 60.0,179.3 59.9,180.9 59.7,182.5 59.6,184.1 59.6,185.6 59.5,187.1 59.4,188.5 59.3,189.8 59.2,191.0 59.2,192.2 59.1,193.2 59.1,194.2 59.0,195.1 59.0,196.1 58.9,197.0 58.9,197.9 58.8,198.9 58.8,199.9 58.8,201.0 58.7,202.2 58.7,203.4 58.7,204.7 58.6,206.0 58.6,207.2 58.6,208.3 58.5,209.3 58.5,210.1 58.5,210.7" fill="none" stroke="rgb(20,120,60)" stroke-width="1.2" stroke-linejoin="round"/>
<path d="M327.3,32.9 327.3,33.0 327.3,33.2 327.2,33.4 327.2,33.6 327.2,33.8 327.1,34.0 327.1,34.3 327.0,34.5 327.0,34.7 326.9,34.9 326.9,35.0 326.8,35.2 326.8,35.3 326.7,35.5 326.6,35.6 326.5,35.8 326.5,35.9 326.4,36.1 326.3,36.4 326.1,36.6 326.0,36.9 325.9,37.2 325.8,37.5 325.6,37.8 325.5,38.1 325.4,38.4 325.2,38.8 325.1,39.1 324.9,39.4 324.7,39.7 324.5,40.0 324.2,40.4 324.0,40.7 323.7,41.0 323.5,41.4 323.2,41.7 322.9,42.0 322.6,42.3 322.3,42.6 322.0,42.8 321.7,43.0 321.4,43.2 321.0,43.4 320.7,43.6 320.4,43.8 320.0,43.9 319.6,44.1 319.2,44.2 318.7,44.4 318.1,44.5 317.5,44.6 316.8,44.8 316.2,44.9 315.5,45.0 314.7,45.1 313.9,45.2 313.0,45.2 312.1,45.3 311.1,45.4 310.0,45.5 308.7,45.6 307.4,45.7 306.0,45.8 304.5,45.8 302.9,45.9 301.3,46.0 299.7,46.1 298.1,46.2 296.5,46.2 295.0,46.3 293.5,46.4 291.9,46.4 290.3,46.4 288.8,46.5 287.2,46.5 285.6,46.5 284.1,46.6 282.6,46.7 281.3,46.8 279.9,46.9 278.7,47.1 277.5,47.3 276.4,47.5 275.3,47.7 274.2,48.0 273.3,48.3 272.3,48.5 271.5,48.8 270.6,49.1 269.8,49.3 269.1,49.6 268.5,49.8 267.9,50.1 267.4,50.3 266.9,50.5 266.5,50.8 266.1,51.0 265.7,51.3 265.2,51.6 264.7,51.9 264.2,52.2 263.8,52.5 263.4,52.8 262.9,53.2 262.5,53.5 262.1,53.9 261.6,54.2 261.0,54.6 260.4,55.0 259.8,55.4 259.0,55.8 258.0,56.3 257.1,56.8 256.0,57.3 254.9,57.8 253.8,58.3 252.7,58.8 251.7,59.3 250.7,59.7 249.8,60.0 249.0,60.3 248.3,60.6 247.6,60.8 246.9,61.0 246.3,61.2 245.6,61.3 245.0,61.5 244.3,61.6 243.6,61.8 242.9,62.0 242.1,62.3 241.3,62.5 240.5,62.8 239.7,63.0 238.8,63.3 238.0,63.5 237.2,63.8 236.4,64.0 235.6,64.2 234.9,64.4 234.2,64.6 233.5,64.7 232.8,64.8 232.1,64.9 231.4,64.9 230.8,65.0 230.1,65.1 229.4,65.2 228.6,65.3 227.9,65.5 227.2,65.7 226.5,65.9 225.8,66.0 225.1,66.2 224.4,66.4 223.6,66.7 222.8,66.9 221.9,67.2 220.9,67.6 219.8,68.0 218.6,68.5 217.2,69.1 215.8,69.8 214.3,70.4 212.7,71.2 211.1,71.9 209.5,72.6 207.9,73.4 206.3,74.1 204.8,74.7 203.3,75.4 201.8,76.0 200.3,76.7 198.8,77.3 197.3,78.0 195.8,78.6 194.3,79.2 192.8,79.9 191.3,80.5 189.8,81.1 188.3,81.8 186.8,82.4 185.3,83.1 183.8,83.8 182.3,84.4 180.8,85.1 179.3,85.7 177.8,86.4 176.3,87.0 174.8,87.5 173.3,88.1 171.8,88.6 170.3,89.1 168.9,89.5 167.4,90.0 165.9,90.5 164.4,90.9 162.8,91.4 161.3,91.9 159.8,92.4 158.3,93.0 156.7,93.6 155.0,94.3 153.3,95.0 151.7,95.6 150.1,96.3 148.6,96.9 147.2,97.5 145.9,98.0 144.8,98.4 143.9,98.8 143.2,99.0 142.6,99.3 142.1,99.4 141.7,99.5 141.4,99.6 141.0,99.7 140.7,99.9 140.3,100.0 139.8,100.1 139.3,100.3 138.8,100.5 138.3,100.6 137.8,100.8 137.3,101.0 136.8,101.1 136.3,101.3 135.8,101.5 135.3,101.7 134.8,101.8 134.3,102.0 133.8,102.2 133.3,102.4 132.8,102.5 132.3,102.7 131.8,102.9 131.3,103.0 130.8,103.2 130.4,103.4 129.9,103.5 129.4,103.7 128.9,103.8 128.4,104.0 127.9,104.1 127.4,104.2 126.9,104.4 126.4,104.5 125.9,104.6 125.4,104.7 124.9,104.8 124.4,104.9 124.0,105.0 123.6,105.0 123.2,105.1 122.8,105.1 122.3,105.1 121.8,105.2 121.3,105.2 120.7,105.3 120.0,105.3 119.2,105.3 118.2,105.4 117.2,105.4 116.1,105.5 114.9,105.5 113.8,105.6 112.7,105.6 111.7,105.6 110.8,105.7 110.0,105.7 109.3,105.7 108.7,105.7 108.2,105.7 107.7,105.7 107.3,105.7 106.9,105.7 106.6,105.7 106.2,105.7 105.8,105.7 105.4,105.8 105.0,105.9 104.7,106.0 104.3,106.1 104.0,106.2 103.7,106.4 103.4,106.5 103.1,106.7 102.8,106.8 102.5,107.0 102.2,107.2 101.9,107.4 101.6,107.6 101.3,107.8 101.0,108.0 100.6,108.3 100.3,108.5 100.0,108.8 99.7,109.1 99.4,109.4 99.1,109.7 98.9,110.0 98.6,110.3 98.4,110.7 98.2,111.1 98.0,111.4 97.8,111.8 97.6,112.1 97.4,112.5 97.2,112.8 97.0,113.1 96.8,113.4 96.6,113.7 96.4,114.0 96.2,114.3 95.9,114.6 95.7,114.8 95.5,115.1 95.3,115.4 95.0,115.6 94.8,115.9 94.5,116.1 94.3,116.3 94.0,116.6 93.8,116.8 93.5,117.0 93.2,117.2 93.0,117.4 92.7,117.6 92.3,117.7 92.0,117.9 91.7,118.1 91.3,118.2 90.9,118.4 90.4,118.5 90.0,118.6 89.5,118.8 89.0,118.9 88.5,119.1 88.0,119.2 87.5,119.3 87.0,119.5 86.4,119.6 85.9,119.8 85.3,119.9 84.7,120.0 84.1,120.2 83.5,120.4 82.9,120.5 82.3,120.7 81.7,120.9 81.2,121.2 80.7,121.4 80.1,121.7 79.6,122.0 79.1,122.2 78.7,122.5 78.2,122.8 77.7,123.2 77.3,123.5 76.9,123.8 76.5,124.2 76.2,124.5 75.8,124.9 75.5,125.3 75.2,125.6 74.9,126.0 74.7,126.4 74.4,126.9 74.1,127.3 73.8,127.8 73.5,128.3 73.1,128.8 72.8,129.3 72.4,129.9 72.1,130.5 71.7,131.1 71.4,131.8 71.0,132.4 70.7,133.0 70.4,133.6 70.1,134.2 69.8,134.7 69.6,135.3 69.3,135.8 69.0,136.4 68.8,136.9 68.5,137.6 68.3,138.2 68.0,138.9 67.7,139.7 67.5,140.6 67.2,141.5 67.0,142.4 66.7,143.4 66.5,144.4 66.2,145.5 66.0,146.5 65.8,147.6 65.5,148.7 65.3,149.8 65.1,150.9 64.9,152.1 64.7,153.3 64.5,154.5 64.3,155.7 64.1,156.9 63.9,158.1 63.7,159.4 63.6,160.6 63.4,161.9 63.2,163.1 63.1,164.4 62.9,165.7 62.8,166.9 62.6,168.2 62.5,169.5 62.4,170.8 62.3,172.2 62.1,173.5 62.0,174.9 61.9,176.4 61.8,177.9 61.7,179.4 61.5,181.0 61.4,182.6 61.3,184.2 61.3,185.8 61.2,187.2 61.1,188.6 61.0,189.9 60.9,191.1 60.9,192.3 60.8,193.3 60.8,194.3 60.7,195.2 60.7,196.1 60.6,197.1 60.6,198.0 60.5,199.0 60.5,200.0 60.5,201.1 60.4,202.3 60.4,203.5 60.4,204.8 60.3,206.0 60.3,207.2 60.3,208.3 60.2,209.3 60.2,210.1 60.2,210.8" fill="none" stroke="rgb(112,184,48)" stroke-width="1.2" stroke-linejoin="round"/>
<path d="M327.1,32.9 327.1,33.0 327.1,33.2 327.0,33.3 327.0,33.5 327.0,33.8 326.9,34.0 326.9,34.2 326.8,34.4 326.8,34.6 326.7,34.8 326.7,34.9 326.6,35.1 326.6,35.2 326.5,35.4 326.4,35.5 326.4,35.7 326.3,35.9 326.2,36.0 326.1,36.3 326.0,36.5 325.8,36.8 325.7,37.1 325.6,37.4 325.5,37.7 325.3,38.0 325.2,38.4 325.0,38.7 324.9,39.0 324.7,39.3 324.5,39.6 324.3,39.9 324.1,40.3 323.8,40.6 323.6,40.9 323.3,41.2 323.1,41.6 322.8,41.9 322.5,42.1 322.2,42.4 321.9,42.6 321.6,42.9 321.3,43.1 320.9,43.3 320.6,43.4 320.3,43.6 319.9,43.8 319.5,43.9 319.1,44.0 318.6,44.2 318.0,44.3 317.4,44.4 316.8,44.6 316.1,44.7 315.4,44.8 314.7,44.9 313.9,45.0 313.0,45.0 312.1,45.1 311.1,45.2 309.9,45.3 308.7,45.4 307.4,45.5 306.0,45.6 304.5,45.6 302.9,45.7 301.3,45.8 299.7,45.9 298.1,46.0 296.5,46.0 295.0,46.1 293.5,46.2 291.9,46.2 290.3,46.2 288.7,46.3 287.2,46.3 285.6,46.3 284.1,46.4 282.6,46.5 281.2,46.6 279.9,46.7 278.7,46.9 277.5,47.1 276.3,47.3 275.2,47.5 274.2,47.8 273.2,48.1 272.3,48.3 271.4,48.6 270.6,48.9 269.8,49.1 269.1,49.4 268.4,49.6 267.8,49.9 267.3,50.1 266.9,50.4 266.4,50.6 266.0,50.9 265.6,51.1 265.1,51.4 264.6,51.7 264.1,52.0 263.7,52.4 263.2,52.7 262.8,53.0 262.4,53.4 261.9,53.7 261.5,54.1 260.9,54.4 260.3,54.8 259.7,55.2 258.9,55.6 258.0,56.1 257.0,56.6 255.9,57.1 254.8,57.6 253.7,58.1 252.7,58.6 251.6,59.1 250.6,59.5 249.7,59.8 248.9,60.1 248.2,60.4 247.5,60.6 246.9,60.8 246.2,61.0 245.6,61.1 244.9,61.3 244.2,61.4 243.5,61.6 242.8,61.8 242.0,62.1 241.2,62.3 240.4,62.6 239.6,62.8 238.8,63.1 238.0,63.3 237.2,63.6 236.4,63.8 235.6,64.0 234.8,64.2 234.1,64.4 233.4,64.5 232.8,64.6 232.1,64.7 231.4,64.7 230.7,64.8 230.0,64.9 229.3,65.0 228.6,65.2 227.8,65.3 227.1,65.5 226.4,65.7 225.7,65.8 225.0,66.0 224.3,66.2 223.5,66.5 222.7,66.7 221.8,67.1 220.8,67.4 219.7,67.9 218.5,68.4 217.2,68.9 215.7,69.6 214.2,70.3 212.6,71.0 211.0,71.7 209.4,72.4 207.8,73.2 206.2,73.9 204.7,74.6 203.2,75.2 201.7,75.9 200.2,76.5 198.7,77.1 197.2,77.8 195.7,78.4 194.2,79.0 192.7,79.7 191.2,80.3 189.7,81.0 188.2,81.6 186.7,82.3 185.2,82.9 183.7,83.6 182.2,84.3 180.7,84.9 179.2,85.5 177.7,86.2 176.2,86.8 174.8,87.3 173.3,87.9 171.8,88.4 170.3,88.9 168.8,89.3 167.3,89.8 165.8,90.3 164.3,90.7 162.8,91.2 161.3,91.7 159.8,92.2 158.2,92.8 156.6,93.4 154.9,94.1 153.3,94.8 151.6,95.5 150.0,96.1 148.5,96.7 147.1,97.3 145.8,97.8 144.7,98.2 143.8,98.6 143.1,98.9 142.5,99.1 142.1,99.2 141.7,99.4 141.3,99.5 141.0,99.6 140.6,99.7 140.2,99.8 139.8,99.9 139.3,100.1 138.8,100.3 138.3,100.4 137.8,100.6 137.3,100.8 136.8,101.0 136.3,101.1 135.8,101.3 135.3,101.5 134.8,101.6 134.3,101.8 133.8,102.0 133.3,102.2 132.8,102.3 132.3,102.5 131.8,102.7 131.3,102.9 130.8,103.0 130.3,103.2 129.8,103.3 129.3,103.5 128.8,103.6 128.3,103.8 127.8,103.9 127.3,104.0 126.8,104.2 126.3,104.3 125.8,104.4 125.4,104.5 124.9,104.6 124.4,104.7 124.0,104.8 123.6,104.8 123.2,104.9 122.7,104.9 122.3,104.9 121.8,105.0 121.3,105.0 120.7,105.1 120.0,105.1 119.1,105.1 118.2,105.2 117.2,105.2 116.1,105.3 114.9,105.3 113.8,105.4 112.7,105.4 111.7,105.4 110.8,105.5 110.0,105.5 109.3,105.5 108.7,105.5 108.2,105.5 107.7,105.5 107.3,105.5 106.9,105.5 106.5,105.5 106.2,105.5 105.8,105.5 105.4,105.6 105.0,105.7 104.6,105.8 104.3,105.9 103.9,106.0 103.6,106.2 103.3,106.3 103.0,106.5 102.7,106.6 102.4,106.8 102.1,107.0 101.8,107.2 101.5,107.4 101.2,107.6 100.8,107.9 100.5,108.1 100.2,108.4 99.9,108.6 99.6,108.9 99.3,109.2 99.0,109.5 98.8,109.9 98.6,110.3 98.4,110.7 98.3,111.1 98.2,111.5 98.1,111.9 97.9,112.3 97.8,112.7 97.7,113.1 97.5,113.4 97.4,113.8 97.2,114.1 97.1,114.5 96.9,114.8 96.7,115.2 96.5,115.5 96.3,115.8 96.1,116.2 95.9,116.5 95.7,116.8 95.5,117.1 95.2,117.4 95.0,117.7 94.8,118.0 94.5,118.2 94.2,118.5 93.9,118.8 93.6,119.1 93.2,119.3 92.8,119.6 92.4,119.8 92.0,120.0 91.5,120.2 91.0,120.4 90.6,120.6 90.1,120.8 89.6,120.9 89.1,121.1 88.6,121.3 88.1,121.5 87.6,121.7 87.0,121.8 86.4,122.0 85.8,122.2 85.3,122.4 84.7,122.5 84.1,122.7 83.6,122.9 83.2,123.1 82.7,123.3 82.3,123.6 81.9,123.9 81.4,124.1 81.0,124.4 80.6,124.7 80.3,125.0 79.9,125.3 79.6,125.6 79.3,126.0 79.1,126.3 78.8,126.6 78.7,126.9 78.5,127.2 78.4,127.5 78.2,127.8 78.1,128.2 77.9,128.6 77.7,129.0 77.5,129.5 77.3,130.0 77.1,130.5 76.9,131.1 76.7,131.7 76.5,132.3 76.3,132.9 76.1,133.6 75.8,134.2 75.5,134.8 75.2,135.3 74.9,135.9 74.7,136.5 74.4,137.0 74.1,137.5 73.9,138.0 73.7,138.5 73.4,139.0 73.2,139.5 73.0,140.0 72.8,140.6 72.6,141.3 72.4,142.0 72.1,142.8 71.9,143.7 71.7,144.6 71.4,145.6 71.2,146.6 71.0,147.6 70.8,148.7 70.5,149.7 70.3,150.8 70.1,151.9 69.9,153.0 69.7,154.1 69.5,155.3 69.3,156.5 69.2,157.7 69.0,158.9 68.8,160.1 68.6,161.3 68.5,162.5 68.3,163.8 68.2,165.0 68.0,166.3 67.9,167.5 67.7,168.8 67.6,170.0 67.5,171.3 67.3,172.6 67.2,174.0 67.1,175.4 67.0,176.8 66.9,178.3 66.7,179.8 66.6,181.4 66.5,183.0 66.4,184.5 66.3,186.1 66.3,187.5 66.2,188.9 66.1,190.2 66.0,191.4 66.0,192.5 65.9,193.6 65.8,194.5 65.8,195.5 65.8,196.4 65.7,197.3 65.7,198.2 65.6,199.2 65.6,200.2 65.6,201.2 65.5,202.4 65.5,203.6 65.4,204.9 65.4,206.1 65.4,207.3 65.4,208.4 65.3,209.4 65.3,210.3 65.3,210.9" fill="none" stroke="rgb(40,160,220)" stroke-width="1.2" stroke-linejoin="round"/>
<path d="M327.9,33.0 327.9,33.1 327.9,33.3 327.8,33.5 327.8,33.7 327.7,33.9 327.7,34.1 327.7,34.4 327.6,34.6 327.6,34.8 327.5,35.0 327.4,35.2 327.4,35.4 327.3,35.5 327.2,35.7 327.2,35.9 327.1,36.0 327.0,36.2 326.9,36.4 326.8,36.6 326.7,36.8 326.6,37.1 326.5,37.4 326.3,37.7 326.2,38.0 326.1,38.4 325.9,38.7 325.8,39.0 325.6,39.4 325.4,39.7 325.2,40.1 325.0,40.4 324.7,40.7 324.5,41.1 324.2,41.4 323.9,41.8 323.7,42.1 323.3,42.4 323.0,42.7 322.7,43.0 322.4,43.3 322.0,43.5 321.7,43.7 321.3,44.0 321.0,44.1 320.6,44.3 320.2,44.5 319.8,44.7 319.3,44.8 318.8,45.0 318.2,45.1 317.6,45.2 316.9,45.4 316.3,45.5 315.6,45.6 314.8,45.7 314.0,45.8 313.1,45.8 312.1,45.9 311.1,46.0 310.0,46.1 308.8,46.2 307.4,46.3 306.0,46.4 304.5,46.4 302.9,46.5 301.3,46.6 299.7,46.7 298.1,46.8 296.5,46.8 295.0,46.9 293.5,47.0 291.9,47.0 290.3,47.0 288.8,47.1 287.2,47.1 285.6,47.1 284.1,47.2 282.7,47.3 281.3,47.4 280.0,47.5 278.8,47.7 277.6,47.9 276.5,48.1 275.4,48.3 274.4,48.6 273.4,48.8 272.5,49.1 271.6,49.4 270.8,49.6 270.0,49.9 269.3,50.1 268.7,50.4 268.2,50.6 267.7,50.8 267.2,51.1 266.8,51.3 266.4,51.6 266.0,51.8 265.5,52.1 265.1,52.4 264.6,52.7 264.1,53.0 263.7,53.3 263.3,53.6 262.9,54.0 262.4,54.3 261.9,54.7 261.4,55.1 260.8,55.5 260.0,55.9 259.2,56.3 258.3,56.8 257.3,57.3 256.3,57.8 255.2,58.3 254.1,58.8 253.0,59.3 251.9,59.8 250.9,60.2 250.0,60.6 249.2,60.9 248.5,61.2 247.7,61.4 247.1,61.6 246.4,61.7 245.8,61.9 245.1,62.1 244.4,62.2 243.8,62.4 243.0,62.6 242.3,62.8 241.5,63.1 240.7,63.3 239.9,63.6 239.0,63.9 238.2,64.1 237.4,64.4 236.6,64.6 235.8,64.8 235.0,65.0 234.3,65.2 233.6,65.3 232.9,65.4 232.2,65.5 231.5,65.5 230.8,65.6 230.2,65.7 229.5,65.8 228.8,65.9 228.0,66.1 227.3,66.3 226.6,66.4 225.9,66.6 225.2,66.8 224.5,67.0 223.8,67.2 223.0,67.5 222.1,67.8 221.1,68.2 220.0,68.6 218.8,69.1 217.5,69.7 216.1,70.3 214.5,71.0 213.0,71.7 211.4,72.4 209.8,73.2 208.2,73.9 206.6,74.6 205.0,75.3 203.5,75.9 202.0,76.6 200.5,77.2 199.0,77.9 197.5,78.5 196.0,79.1 194.5,79.8 193.0,80.4 191.5,81.1 190.0,81.7 188.5,82.3 187.0,83.0 185.5,83.7 184.0,84.3 182.5,85.0 181.0,85.6 179.5,86.3 178.0,86.9 176.5,87.5 175.0,88.1 173.5,88.6 172.0,89.2 170.5,89.6 169.0,90.1 167.5,90.6 166.0,91.0 164.5,91.5 163.0,92.0 161.5,92.5 160.0,93.0 158.5,93.6 156.9,94.2 155.2,94.8 153.6,95.5 151.9,96.2 150.3,96.8 148.8,97.5 147.4,98.1 146.1,98.6 145.0,99.0 144.1,99.3 143.4,99.6 142.8,99.8 142.3,100.0 141.9,100.1 141.5,100.2 141.2,100.3 140.9,100.4 140.5,100.5 140.0,100.7 139.5,100.9 139.0,101.0 138.5,101.2 138.0,101.4 137.5,101.5 137.0,101.7 136.5,101.9 136.0,102.1 135.5,102.2 135.0,102.4 134.5,102.6 134.0,102.7 133.5,102.9 133.0,103.1 132.5,103.3 132.0,103.4 131.5,103.6 131.0,103.8 130.5,103.9 130.0,104.1 129.5,104.2 129.0,104.4 128.5,104.5 128.0,104.7 127.5,104.8 127.0,105.0 126.5,105.1 126.0,105.2 125.5,105.3 125.0,105.4 124.5,105.5 124.1,105.6 123.7,105.6 123.3,105.7 122.8,105.7 122.4,105.7 121.9,105.8 121.3,105.8 120.7,105.9 120.0,105.9 119.2,105.9 118.2,106.0 117.2,106.0 116.1,106.1 115.0,106.1 113.8,106.2 112.8,106.2 111.7,106.2 110.8,106.3 110.0,106.3 109.3,106.3 108.7,106.3 108.2,106.3 107.7,106.3 107.3,106.3 106.9,106.3 106.6,106.3 106.2,106.3 105.9,106.3 105.5,106.4 105.2,106.5 104.8,106.6 104.5,106.7 104.2,106.8 103.9,106.9 103.7,107.0 103.4,107.2 103.1,107.3 102.8,107.5 102.6,107.7 102.2,107.9 101.9,108.1 101.6,108.3 101.3,108.5 101.0,108.7 100.7,109.0 100.4,109.2 100.1,109.5 99.8,109.8 99.6,110.1 99.3,110.4 99.1,110.7 98.9,111.0 98.7,111.4 98.6,111.7 98.4,112.1 98.2,112.4 98.0,112.8 97.8,113.1 97.6,113.5 97.4,113.8 97.2,114.1 96.9,114.4 96.7,114.7 96.5,115.0 96.3,115.3 96.0,115.6 95.8,115.9 95.5,116.1 95.3,116.4 95.0,116.6 94.8,116.9 94.5,117.1 94.3,117.4 94.0,117.6 93.7,117.8 93.4,118.0 93.1,118.2 92.7,118.4 92.4,118.6 92.0,118.8 91.6,119.0 91.1,119.1 90.7,119.3 90.2,119.4 89.7,119.6 89.3,119.7 88.8,119.8 88.3,120.0 87.7,120.1 87.2,120.3 86.6,120.4 86.1,120.6 85.5,120.7 84.9,120.9 84.3,121.0 83.7,121.2 83.1,121.3 82.6,121.5 82.1,121.7 81.6,122.0 81.1,122.2 80.6,122.5 80.1,122.7 79.6,123.0 79.2,123.3 78.7,123.6 78.3,123.9 77.9,124.2 77.5,124.5 77.2,124.9 76.8,125.2 76.5,125.5 76.3,125.9 76.0,126.2 75.8,126.6 75.5,127.0 75.2,127.4 75.0,127.8 74.7,128.3 74.3,128.8 74.0,129.3 73.7,129.9 73.3,130.5 73.0,131.1 72.7,131.7 72.3,132.3 72.0,132.9 71.7,133.5 71.4,134.1 71.1,134.7 70.8,135.2 70.5,135.7 70.3,136.3 70.0,136.8 69.8,137.4 69.5,138.0 69.3,138.6 69.0,139.3 68.8,140.1 68.5,140.9 68.3,141.8 68.0,142.7 67.8,143.7 67.6,144.7 67.3,145.7 67.1,146.8 66.8,147.8 66.6,148.9 66.4,150.0 66.2,151.2 66.0,152.3 65.8,153.5 65.6,154.6 65.4,155.8 65.2,157.1 65.0,158.3 64.8,159.5 64.7,160.8 64.5,162.0 64.3,163.3 64.2,164.5 64.0,165.8 63.9,167.1 63.7,168.3 63.6,169.6 63.5,170.9 63.3,172.3 63.2,173.6 63.1,175.0 63.0,176.5 62.9,178.0 62.8,179.5 62.6,181.1 62.5,182.7 62.4,184.3 62.4,185.8 62.3,187.3 62.2,188.7 62.1,190.0 62.0,191.2 62.0,192.3 61.9,193.4 61.9,194.3 61.8,195.3 61.8,196.2 61.7,197.1 61.7,198.0 61.6,199.0 61.6,200.0 61.6,201.1 61.5,202.3 61.5,203.5 61.5,204.8 61.4,206.0 61.4,207.2 61.4,208.3 61.3,209.3 61.3,210.2 61.3,210.8" fill="none" stroke="rgb(128,128,128)" stroke-width="1.3" stroke-linejoin="round"/>
<path d="M327.0,32.9 327.0,33.0 327.0,33.1 326.9,33.3 326.9,33.5 326.9,33.7 326.8,34.0 326.8,34.2 326.7,34.4 326.7,34.6 326.6,34.8 326.6,34.9 326.5,35.1 326.5,35.2 326.4,35.3 326.3,35.5 326.3,35.6 326.2,35.8 326.1,36.0 326.0,36.2 325.9,36.5 325.7,36.7 325.6,37.0 325.5,37.4 325.4,37.7 325.2,38.0 325.1,38.3 324.9,38.6 324.8,39.0 324.6,39.3 324.4,39.6 324.2,39.9 324.0,40.2 323.8,40.5 323.5,40.9 323.2,41.2 323.0,41.5 322.7,41.8 322.4,42.1 322.1,42.3 321.8,42.6 321.5,42.8 321.2,43.0 320.9,43.2 320.6,43.4 320.3,43.5 319.9,43.7 319.5,43.8 319.1,43.9 318.6,44.1 318.0,44.2 317.4,44.3 316.8,44.5 316.1,44.6 315.4,44.7 314.7,44.8 313.9,44.9 313.0,44.9 312.1,45.0 311.0,45.1 309.9,45.2 308.7,45.3 307.4,45.4 306.0,45.5 304.4,45.5 302.9,45.6 301.3,45.7 299.7,45.8 298.1,45.9 296.5,45.9 295.0,46.0 293.5,46.1 291.9,46.1 290.3,46.1 288.7,46.2 287.2,46.2 285.6,46.2 284.1,46.3 282.6,46.4 281.2,46.5 279.9,46.6 278.7,46.8 277.5,47.0 276.3,47.2 275.2,47.4 274.2,47.7 273.2,48.0 272.2,48.2 271.4,48.5 270.5,48.8 269.7,49.0 269.0,49.3 268.4,49.5 267.8,49.8 267.3,50.0 266.8,50.3 266.4,50.5 265.9,50.8 265.5,51.1 265.1,51.3 264.6,51.6 264.1,51.9 263.6,52.3 263.2,52.6 262.7,52.9 262.3,53.3 261.9,53.6 261.4,54.0 260.9,54.3 260.3,54.7 259.6,55.1 258.8,55.5 257.9,56.0 256.9,56.5 255.9,57.0 254.8,57.5 253.7,58.0 252.6,58.5 251.6,59.0 250.6,59.4 249.7,59.8 248.9,60.1 248.2,60.3 247.5,60.5 246.8,60.7 246.2,60.9 245.5,61.0 244.9,61.2 244.2,61.3 243.5,61.5 242.8,61.7 242.0,62.0 241.2,62.2 240.4,62.5 239.6,62.7 238.8,63.0 237.9,63.2 237.1,63.5 236.3,63.7 235.6,63.9 234.8,64.1 234.1,64.3 233.4,64.4 232.8,64.5 232.1,64.6 231.4,64.6 230.7,64.7 230.0,64.8 229.3,64.9 228.6,65.1 227.8,65.2 227.1,65.4 226.4,65.6 225.7,65.7 225.0,65.9 224.3,66.1 223.5,66.4 222.7,66.6 221.8,67.0 220.8,67.3 219.7,67.8 218.5,68.3 217.1,68.8 215.7,69.5 214.2,70.2 212.6,70.9 211.0,71.6 209.4,72.4 207.8,73.1 206.2,73.8 204.7,74.5 203.2,75.1 201.7,75.8 200.2,76.4 198.7,77.0 197.2,77.7 195.7,78.3 194.2,79.0 192.7,79.6 191.2,80.2 189.7,80.9 188.2,81.5 186.7,82.2 185.2,82.8 183.7,83.5 182.2,84.2 180.7,84.8 179.2,85.5 177.7,86.1 176.2,86.7 174.7,87.3 173.2,87.8 171.7,88.3 170.3,88.8 168.8,89.3 167.3,89.7 165.8,90.2 164.3,90.6 162.8,91.1 161.2,91.6 159.7,92.1 158.2,92.7 156.5,93.4 154.9,94.0 153.2,94.7 151.6,95.4 150.0,96.0 148.5,96.6 147.1,97.2 145.8,97.7 144.7,98.2 143.8,98.5 143.1,98.8 142.5,99.0 142.0,99.1 141.6,99.3 141.3,99.4 141.0,99.5 140.6,99.6 140.2,99.7 139.7,99.8 139.2,100.0 138.7,100.2 138.2,100.4 137.7,100.5 137.2,100.7 136.7,100.9 136.2,101.0 135.7,101.2 135.2,101.4 134.7,101.5 134.2,101.7 133.7,101.9 133.2,102.1 132.7,102.2 132.2,102.4 131.7,102.6 131.2,102.8 130.8,102.9 130.3,103.1 129.8,103.2 129.3,103.4 128.8,103.5 128.3,103.7 127.8,103.8 127.3,104.0 126.8,104.1 126.3,104.2 125.8,104.3 125.3,104.4 124.9,104.5 124.4,104.6 124.0,104.7 123.6,104.7 123.2,104.8 122.7,104.8 122.3,104.8 121.8,104.9 121.3,104.9 120.7,105.0 120.0,105.0 119.1,105.0 118.2,105.1 117.2,105.1 116.1,105.2 114.9,105.2 113.8,105.3 112.7,105.3 111.7,105.3 110.8,105.4 110.0,105.4 109.3,105.4 108.7,105.4 108.2,105.4 107.8,105.4 107.3,105.4 106.9,105.4 106.5,105.4 106.2,105.4 105.8,105.4 105.4,105.5 105.0,105.6 104.6,105.7 104.2,105.8 103.9,105.9 103.6,106.1 103.3,106.2 103.0,106.4 102.7,106.6 102.4,106.7 102.1,106.9 101.8,107.1 101.4,107.3 101.1,107.6 100.8,107.8 100.4,108.0 100.1,108.3 99.8,108.6 99.5,108.9 99.2,109.2 98.9,109.5 98.7,109.9 98.4,110.2 98.3,110.6 98.1,111.0 98.0,111.4 97.8,111.8 97.7,112.2 97.6,112.5 97.4,112.9 97.2,113.2 97.1,113.6 96.9,113.9 96.7,114.2 96.5,114.6 96.3,114.9 96.1,115.2 95.9,115.5 95.7,115.8 95.5,116.1 95.3,116.4 95.0,116.7 94.8,116.9 94.6,117.2 94.3,117.5 94.1,117.7 93.8,118.0 93.5,118.2 93.2,118.4 92.9,118.7 92.5,118.9 92.1,119.1 91.7,119.3 91.2,119.5 90.8,119.7 90.3,119.8 89.9,120.0 89.4,120.1 88.9,120.3 88.4,120.5 87.9,120.6 87.3,120.8 86.8,121.0 86.2,121.1 85.6,121.3 85.0,121.5 84.5,121.6 83.9,121.8 83.3,122.0 82.8,122.2 82.3,122.4 81.9,122.7 81.4,122.9 80.9,123.2 80.5,123.5 80.1,123.8 79.7,124.1 79.3,124.4 78.9,124.7 78.6,125.0 78.3,125.4 78.0,125.7 77.7,126.0 77.5,126.3 77.3,126.7 77.1,127.0 76.9,127.4 76.7,127.8 76.5,128.2 76.3,128.7 76.1,129.2 75.8,129.7 75.6,130.3 75.3,130.9 75.0,131.5 74.8,132.1 74.5,132.7 74.3,133.3 73.9,133.9 73.6,134.5 73.3,135.1 73.1,135.7 72.8,136.2 72.5,136.7 72.3,137.2 72.0,137.7 71.8,138.3 71.6,138.8 71.3,139.4 71.1,140.0 70.9,140.7 70.7,141.5 70.4,142.3 70.2,143.2 69.9,144.2 69.7,145.2 69.5,146.2 69.2,147.2 69.0,148.3 68.8,149.4 68.6,150.5 68.3,151.6 68.1,152.7 67.9,153.8 67.7,155.0 67.6,156.2 67.4,157.4 67.2,158.6 67.0,159.8 66.8,161.1 66.7,162.3 66.5,163.6 66.4,164.8 66.2,166.0 66.1,167.3 65.9,168.6 65.8,169.9 65.7,171.2 65.5,172.5 65.4,173.8 65.3,175.2 65.2,176.6 65.1,178.1 64.9,179.7 64.8,181.3 64.7,182.8 64.6,184.4 64.5,185.9 64.5,187.4 64.4,188.8 64.3,190.1 64.2,191.3 64.2,192.4 64.1,193.5 64.1,194.4 64.0,195.4 64.0,196.3 63.9,197.2 63.9,198.1 63.8,199.1 63.8,200.1 63.8,201.2 63.7,202.4 63.7,203.6 63.7,204.8 63.6,206.1 63.6,207.3 63.6,208.4 63.5,209.4 63.5,210.2 63.5,210.9" fill="none" stroke="rgb(30,80,160)" stroke-width="1.5" stroke-linejoin="round"/>
<line x1="222.00" y1="135.00" x2="246.00" y2="135.00" stroke="rgb(112,184,48)" stroke-width="1.8"/>
<text x="249.30" y="138.80" font-size="10.5" text-anchor="start" fill="rgb(112,184,48)" font-weight="bold" >RK 80% Li</text>
<line x1="222.00" y1="148.00" x2="246.00" y2="148.00" stroke="rgb(20,120,60)" stroke-width="1.8"/>
<text x="249.30" y="151.80" font-size="10.5" text-anchor="start" fill="rgb(20,120,60)" font-weight="bold" >RK 100% Li</text>
<line x1="222.00" y1="161.50" x2="246.00" y2="161.50" stroke="rgb(40,160,220)" stroke-width="1.8"/>
<text x="249.30" y="165.30" font-size="10.5" text-anchor="start" fill="rgb(40,160,220)" font-weight="bold" >Box 80% Li</text>
<line x1="222.00" y1="175.00" x2="246.00" y2="175.00" stroke="rgb(30,80,160)" stroke-width="1.8"/>
<text x="249.30" y="178.80" font-size="10.5" text-anchor="start" fill="rgb(30,80,160)" font-weight="bold" >Box 100% Li</text>
<line x1="222.00" y1="188.00" x2="246.00" y2="188.00" stroke="rgb(128,128,128)" stroke-width="1.8"/>
<text x="249.30" y="191.80" font-size="10.5" text-anchor="start" fill="rgb(128,128,128)" font-weight="bold" >One-step ref.</text>
<rect x="147.35" y="358.92" width="40.30" height="65.19" fill="rgb(236,204,246)" stroke="rgb(188,165,198)" stroke-width="1"/>
<rect x="193.69" y="293.73" width="19.75" height="210.77" fill="rgb(252,229,215)" stroke="rgb(205,182,170)" stroke-width="1"/>
<clipPath id="cb"><rect x="36.5" y="274.5" width="192.0" height="230.0"/></clipPath>
<g clip-path="url(#cb)" fill="none" stroke-linejoin="round">
<path d="M36.3,389.6 41.5,389.6 49.1,389.6 57.9,389.6 66.7,389.6 74.4,389.6 79.8,389.6 82.6,389.5 83.8,389.5 83.8,389.4 83.3,389.3 82.8,389.2 82.8,389.0 83.3,388.8 83.8,388.5 84.3,388.2 84.8,387.9 85.3,387.6 85.8,387.3 86.3,387.0 86.7,386.6 87.1,386.3 87.5,385.9 87.9,385.6 88.3,385.2 88.7,384.8 89.0,384.5 89.3,384.2 89.7,383.8 90.0,383.4 90.3,383.0 90.6,382.6 91.0,382.1 91.3,381.7 91.6,381.2 92.0,380.6 92.3,380.0 92.6,379.3 93.0,378.6 93.3,377.8 93.7,377.0 94.0,376.0 94.3,375.0 94.6,373.9 94.9,372.6 95.2,371.3 95.5,369.9 95.7,368.4 96.0,367.0 96.3,365.6 96.5,364.0 96.7,362.5 97.0,360.9 97.2,359.5 97.4,358.1 97.6,356.9 97.8,355.9 97.9,354.9 98.1,353.9 98.2,352.7 98.4,351.2 98.6,349.4 98.7,347.4 98.9,345.2 99.1,343.0 99.2,340.7 99.4,338.4 99.6,336.1 99.7,333.7 99.9,331.2 100.0,328.8 100.2,326.6 100.3,324.6 100.4,322.9 100.5,321.4 100.6,320.0 100.7,318.8 100.8,317.9 100.9,317.2 101.0,316.8 101.1,316.7 101.2,316.8 101.3,317.1 101.4,317.7 101.5,318.7 101.6,320.0 101.7,321.7 101.8,323.6 102.0,325.8 102.1,328.1 102.2,330.5 102.3,333.1 102.4,336.0 102.6,339.0 102.7,342.1 102.8,344.9 103.0,347.2 103.2,349.2 103.3,350.9 103.5,352.3 103.7,353.6 103.9,354.8 104.2,356.1 104.5,357.3 104.8,358.5 105.1,359.6 105.4,360.7 105.8,361.8 106.2,363.0 106.6,364.3 107.1,365.6 107.6,366.9 108.1,368.2 108.6,369.4 109.1,370.5 109.6,371.5 110.1,372.3 110.6,373.1 111.2,373.8 111.7,374.4 112.3,375.0 112.9,375.5 113.6,375.9 114.3,376.3 115.0,376.6 115.7,376.8 116.3,377.0 116.9,377.2 117.5,377.2 118.1,377.3 118.7,377.3 119.2,377.3 119.8,377.2 120.4,377.1 121.0,377.0 121.6,376.8 122.1,376.6 122.7,376.5 123.4,376.3 124.0,376.1 124.6,376.0 125.3,375.8 126.0,375.7 126.7,375.6 127.4,375.6 128.1,375.7 128.8,375.8 129.5,376.0 130.2,376.2 131.0,376.5 131.9,376.8 132.9,377.2 134.0,377.7 135.2,378.2 136.4,378.7 137.5,379.2 138.6,379.6 139.5,379.9 140.4,380.3 141.2,380.5 142.0,380.8 142.8,381.0 143.6,381.2 144.4,381.4 145.3,381.5 146.1,381.7 147.0,381.7 147.8,381.8 148.6,381.7 149.3,381.5 150.0,381.3 150.7,381.0 151.3,380.6 151.9,380.3 152.5,380.0 153.0,379.7 153.5,379.4 154.0,379.1 154.5,378.8 154.9,378.6 155.4,378.5 155.8,378.5 156.3,378.7 156.7,378.9 157.1,379.1 157.6,379.3 158.0,379.5 158.4,379.6 158.8,379.8 159.2,379.9 159.7,380.0 160.1,380.0 160.6,380.0 161.1,379.9 161.7,379.8 162.2,379.7 162.8,379.5 163.4,379.3 164.0,379.0 164.6,378.7 165.1,378.3 165.7,378.0 166.3,377.5 166.9,377.1 167.4,376.6 167.9,376.1 168.3,375.5 168.8,374.8 169.2,374.2 169.6,373.6 170.0,373.0 170.3,372.5 170.6,372.0 170.9,371.5 171.2,371.0 171.4,370.5 171.7,370.0 171.9,369.4 172.1,368.8 172.4,368.2 172.6,367.6 172.8,367.0 173.0,366.5 173.2,366.0 173.4,365.6 173.6,365.2 173.9,364.9 174.1,364.7 174.3,364.6 174.5,364.7 174.7,364.8 174.9,365.1 175.1,365.5 175.3,366.0 175.5,366.5 175.7,367.1 175.9,367.9 176.2,368.8 176.4,369.7 176.7,370.6 177.0,371.4 177.3,372.2 177.6,373.0 178.0,373.8 178.3,374.6 178.7,375.3 179.0,376.0 179.2,376.6 179.5,377.1 179.7,377.6 179.9,378.1 180.2,378.5 180.5,379.0 180.8,379.5 181.2,379.9 181.6,380.3 182.1,380.7 182.5,381.1 183.0,381.5 183.5,381.9 184.0,382.2 184.6,382.6 185.1,382.9 185.7,383.1 186.3,383.4 186.9,383.6 187.5,383.8 188.1,384.0 188.8,384.1 189.4,384.2 190.0,384.3 190.5,384.4 191.1,384.4 191.6,384.4 192.1,384.4 192.6,384.4 193.1,384.3 193.6,384.2 194.1,384.2 194.6,384.1 195.1,383.9 195.5,383.8 196.0,383.6 196.4,383.4 196.8,383.1 197.2,382.8 197.6,382.5 197.9,382.1 198.3,381.7 198.6,381.2 198.9,380.8 199.3,380.2 199.6,379.6 199.9,378.9 200.2,378.0 200.4,377.0 200.7,375.9 201.0,374.7 201.2,373.3 201.4,371.8 201.7,370.0 201.9,368.0 202.1,365.7 202.3,363.2 202.4,360.6 202.6,357.9 202.8,355.0 203.0,351.9 203.2,348.6 203.3,345.1 203.5,341.6 203.6,338.2 203.8,335.0 203.9,331.9 204.1,328.7 204.2,325.6 204.3,322.7 204.4,320.1 204.5,318.0 204.6,316.3 204.7,314.9 204.8,313.8 204.8,313.1 204.9,312.6 205.0,312.5 205.1,312.6 205.1,313.1 205.2,313.8 205.3,314.9 205.4,316.3 205.5,318.0 205.7,320.1 205.8,322.7 206.0,325.6 206.1,328.7 206.3,331.9 206.5,335.0 206.7,338.2 206.9,341.7 207.1,345.3 207.3,348.8 207.5,352.1 207.8,355.0 208.0,357.6 208.3,359.9 208.6,362.0 208.9,364.0 209.2,365.8 209.5,367.5 209.8,369.1 210.1,370.5 210.4,371.7 210.8,372.9 211.1,374.0 211.5,375.0 211.9,376.0 212.3,376.9 212.7,377.8 213.1,378.5 213.5,379.3 214.0,380.0 214.5,380.7 214.9,381.3 215.4,381.9 216.0,382.4 216.5,383.0 217.2,383.5 217.9,384.0 218.6,384.5 219.4,385.0 220.2,385.4 221.1,385.9 222.0,386.3 223.0,386.7 224.3,387.1 225.5,387.5 226.7,387.9 227.8,388.2 228.5,388.4" stroke="rgb(20,120,60)" stroke-width="1.3"/>
<path d="M36.5,389.6 41.7,389.6 49.3,389.6 58.1,389.6 66.9,389.6 74.6,389.6 80.0,389.6 82.8,389.5 84.0,389.5 84.0,389.4 83.5,389.3 83.0,389.2 83.0,389.0 83.5,388.8 84.0,388.5 84.5,388.2 85.0,387.9 85.5,387.6 86.0,387.3 86.5,387.0 86.9,386.6 87.3,386.3 87.7,385.9 88.1,385.6 88.5,385.2 88.9,384.8 89.2,384.5 89.5,384.2 89.9,383.8 90.2,383.4 90.5,383.0 90.8,382.6 91.2,382.1 91.5,381.7 91.8,381.2 92.2,380.6 92.5,380.0 92.8,379.3 93.2,378.6 93.5,377.8 93.9,377.0 94.2,376.0 94.5,375.0 94.8,373.9 95.1,372.6 95.4,371.2 95.7,369.9 95.9,368.4 96.2,367.0 96.5,365.5 96.7,364.0 96.9,362.4 97.2,360.9 97.4,359.4 97.6,358.0 97.8,356.8 98.0,355.7 98.1,354.8 98.3,353.7 98.4,352.5 98.6,351.0 98.8,349.2 98.9,347.1 99.1,344.9 99.3,342.6 99.4,340.3 99.6,338.0 99.8,335.6 99.9,333.2 100.1,330.7 100.2,328.2 100.4,326.0 100.5,324.0 100.6,322.3 100.7,320.7 100.8,319.3 100.9,318.1 101.0,317.2 101.1,316.5 101.2,316.1 101.3,315.9 101.4,316.0 101.5,316.4 101.6,317.0 101.7,318.0 101.8,319.3 101.9,321.0 102.0,323.0 102.2,325.2 102.3,327.6 102.4,330.0 102.5,332.6 102.6,335.6 102.8,338.7 102.9,341.7 103.0,344.6 103.2,347.0 103.4,349.0 103.5,350.7 103.7,352.1 103.9,353.4 104.1,354.7 104.4,356.0 104.7,357.3 105.0,358.5 105.3,359.6 105.6,360.7 106.0,361.8 106.4,363.0 106.8,364.3 107.3,365.6 107.8,366.9 108.3,368.2 108.8,369.4 109.3,370.5 109.8,371.5 110.3,372.3 110.8,373.1 111.4,373.8 111.9,374.4 112.5,375.0 113.1,375.5 113.8,375.9 114.5,376.3 115.2,376.6 115.9,376.8 116.5,377.0 117.1,377.2 117.7,377.2 118.3,377.3 118.9,377.3 119.4,377.3 120.0,377.2 120.6,377.1 121.1,377.0 121.7,376.8 122.3,376.6 122.9,376.5 123.5,376.3 124.1,376.1 124.8,376.0 125.4,375.8 126.1,375.7 126.8,375.6 127.5,375.6 128.2,375.7 128.9,375.8 129.6,376.0 130.3,376.2 131.1,376.5 132.0,376.8 133.0,377.2 134.1,377.7 135.3,378.2 136.4,378.7 137.6,379.2 138.6,379.6 139.5,379.9 140.4,380.3 141.2,380.5 142.0,380.8 142.8,381.0 143.6,381.2 144.4,381.4 145.3,381.5 146.2,381.7 147.0,381.7 147.8,381.8 148.6,381.7 149.3,381.5 150.0,381.3 150.7,381.0 151.3,380.6 151.9,380.3 152.5,380.0 153.0,379.7 153.6,379.4 154.0,379.1 154.5,378.8 154.9,378.6 155.4,378.5 155.9,378.5 156.3,378.7 156.7,378.9 157.1,379.1 157.6,379.3 158.0,379.5 158.4,379.6 158.8,379.8 159.3,379.9 159.7,380.0 160.1,380.0 160.6,380.0 161.1,379.9 161.7,379.8 162.2,379.7 162.8,379.5 163.4,379.3 164.0,379.0 164.6,378.7 165.2,378.3 165.7,378.0 166.3,377.5 166.9,377.1 167.4,376.6 167.9,376.1 168.4,375.5 168.8,374.8 169.2,374.2 169.6,373.6 170.0,373.0 170.3,372.5 170.6,372.0 170.9,371.5 171.2,371.0 171.5,370.5 171.7,370.0 171.9,369.4 172.2,368.8 172.4,368.2 172.6,367.6 172.8,367.0 173.0,366.5 173.2,366.0 173.4,365.6 173.7,365.2 173.9,364.9 174.1,364.7 174.3,364.6 174.5,364.7 174.7,364.8 174.9,365.1 175.1,365.5 175.3,366.0 175.5,366.5 175.7,367.1 176.0,367.9 176.2,368.8 176.5,369.7 176.7,370.6 177.0,371.4 177.3,372.2 177.6,373.0 178.0,373.8 178.4,374.6 178.7,375.3 179.0,376.0 179.3,376.6 179.5,377.1 179.7,377.6 179.9,378.1 180.2,378.5 180.5,379.0 180.8,379.5 181.2,379.9 181.6,380.3 182.1,380.7 182.5,381.1 183.0,381.5 183.5,381.9 184.0,382.2 184.6,382.6 185.1,382.9 185.7,383.1 186.3,383.4 186.9,383.6 187.5,383.8 188.2,384.0 188.8,384.1 189.4,384.2 190.0,384.3 190.6,384.4 191.1,384.4 191.6,384.4 192.1,384.4 192.6,384.4 193.1,384.3 193.6,384.2 194.1,384.2 194.6,384.1 195.1,383.9 195.6,383.8 196.0,383.6 196.4,383.4 196.8,383.1 197.2,382.8 197.6,382.5 197.9,382.1 198.3,381.7 198.7,381.2 199.0,380.8 199.3,380.2 199.7,379.6 200.0,378.9 200.3,378.0 200.6,377.0 200.9,375.9 201.2,374.7 201.5,373.3 201.7,371.8 202.0,370.0 202.2,368.0 202.5,365.7 202.7,363.2 202.9,360.6 203.1,357.9 203.3,355.0 203.5,351.9 203.7,348.6 203.8,345.1 204.0,341.6 204.2,338.2 204.3,335.0 204.4,331.9 204.6,328.7 204.7,325.6 204.8,322.7 204.9,320.1 205.0,318.0 205.1,316.3 205.2,314.9 205.2,313.8 205.3,313.1 205.3,312.6 205.4,312.5 205.5,312.6 205.5,313.1 205.6,313.8 205.7,314.9 205.8,316.3 205.9,318.0 206.0,320.1 206.1,322.7 206.3,325.6 206.4,328.7 206.5,331.9 206.7,335.0 206.9,338.2 207.1,341.7 207.2,345.3 207.5,348.8 207.7,352.1 207.9,355.0 208.1,357.6 208.4,359.9 208.7,362.0 208.9,364.0 209.2,365.8 209.5,367.5 209.8,369.1 210.1,370.5 210.4,371.7 210.8,372.9 211.1,374.0 211.5,375.0 211.9,376.0 212.3,376.9 212.7,377.8 213.1,378.5 213.5,379.3 214.0,380.0 214.5,380.7 215.0,381.3 215.5,381.9 216.0,382.4 216.6,383.0 217.2,383.5 217.9,384.0 218.6,384.5 219.4,385.0 220.2,385.4 221.1,385.9 222.0,386.3 223.1,386.7 224.3,387.1 225.6,387.5 226.8,387.9 227.8,388.2 228.5,388.4" stroke="rgb(112,184,48)" stroke-width="1.3"/>
<path d="M37.5,389.6 42.7,389.6 50.3,389.6 59.1,389.6 67.9,389.6 75.6,389.6 81.0,389.6 83.8,389.5 85.0,389.5 85.0,389.4 84.5,389.3 84.0,389.2 84.0,389.0 84.5,388.8 85.0,388.5 85.5,388.2 86.0,387.9 86.5,387.6 87.0,387.3 87.5,387.0 87.9,386.6 88.3,386.3 88.7,385.9 89.1,385.6 89.5,385.2 89.9,384.8 90.2,384.5 90.5,384.2 90.9,383.8 91.2,383.4 91.5,383.0 91.8,382.6 92.2,382.1 92.5,381.7 92.8,381.2 93.2,380.6 93.5,380.0 93.8,379.3 94.2,378.6 94.5,377.8 94.9,377.0 95.2,376.0 95.5,375.0 95.8,373.9 96.1,372.6 96.4,371.3 96.7,369.9 96.9,368.5 97.2,367.1 97.5,365.6 97.7,364.1 97.9,362.6 98.2,361.1 98.4,359.6 98.6,358.3 98.8,357.1 99.0,356.1 99.1,355.2 99.3,354.2 99.4,353.0 99.6,351.6 99.8,349.9 99.9,347.9 100.1,345.8 100.3,343.6 100.4,341.4 100.6,339.2 100.8,337.0 100.9,334.7 101.1,332.3 101.2,329.9 101.4,327.8 101.5,325.9 101.6,324.3 101.7,322.7 101.9,321.4 102.0,320.2 102.1,319.3 102.2,318.7 102.3,318.3 102.4,318.1 102.5,318.2 102.6,318.5 102.7,319.1 102.9,320.0 103.0,321.3 103.2,322.9 103.3,324.8 103.4,326.9 103.6,329.1 103.7,331.4 103.9,334.0 104.0,336.8 104.1,339.8 104.3,342.7 104.4,345.4 104.6,347.7 104.8,349.6 104.9,351.2 105.1,352.6 105.3,353.9 105.5,355.1 105.8,356.3 106.1,357.5 106.4,358.6 106.7,359.7 107.0,360.8 107.4,361.9 107.8,363.0 108.2,364.2 108.7,365.5 109.2,366.9 109.7,368.1 110.2,369.3 110.7,370.4 111.2,371.3 111.7,372.1 112.2,372.8 112.8,373.4 113.3,374.0 113.9,374.4 114.5,374.9 115.2,375.2 115.8,375.4 116.5,375.7 117.2,375.9 117.8,376.1 118.4,376.3 118.9,376.4 119.4,376.6 119.9,376.6 120.5,376.7 121.0,376.7 121.5,376.7 122.0,376.7 122.6,376.6 123.1,376.4 123.7,376.3 124.2,376.2 124.8,376.1 125.4,375.9 126.1,375.8 126.7,375.7 127.4,375.6 128.0,375.6 128.7,375.7 129.4,375.8 130.0,376.0 130.8,376.2 131.5,376.5 132.4,376.8 133.3,377.2 134.4,377.7 135.5,378.2 136.6,378.7 137.7,379.2 138.7,379.6 139.6,379.9 140.5,380.3 141.3,380.5 142.1,380.8 142.9,381.0 143.7,381.2 144.5,381.4 145.4,381.5 146.3,381.7 147.1,381.7 147.9,381.8 148.7,381.7 149.4,381.5 150.1,381.3 150.8,381.0 151.4,380.6 152.0,380.3 152.6,380.0 153.1,379.7 153.7,379.4 154.1,379.1 154.6,378.8 155.0,378.6 155.5,378.5 156.0,378.5 156.4,378.7 156.8,378.9 157.2,379.1 157.7,379.3 158.1,379.5 158.5,379.6 158.9,379.8 159.4,379.9 159.8,380.0 160.2,380.0 160.7,380.0 161.2,379.9 161.8,379.8 162.4,379.7 162.9,379.5 163.5,379.3 164.1,379.0 164.7,378.7 165.3,378.3 165.9,378.0 166.4,377.5 167.0,377.1 167.5,376.6 168.0,376.1 168.5,375.5 168.9,374.8 169.3,374.2 169.7,373.6 170.1,373.0 170.4,372.5 170.7,372.0 171.0,371.5 171.3,371.0 171.6,370.5 171.8,370.0 172.0,369.4 172.3,368.8 172.5,368.2 172.7,367.6 172.9,367.0 173.1,366.5 173.3,366.0 173.5,365.6 173.8,365.2 174.0,364.9 174.2,364.7 174.4,364.6 174.6,364.7 174.8,364.8 175.0,365.1 175.2,365.5 175.4,366.0 175.6,366.5 175.8,367.1 176.1,367.9 176.3,368.8 176.6,369.7 176.8,370.6 177.1,371.4 177.4,372.2 177.7,373.0 178.1,373.8 178.5,374.6 178.8,375.3 179.1,376.0 179.4,376.6 179.6,377.1 179.8,377.6 180.0,378.1 180.3,378.5 180.6,379.0 180.9,379.5 181.3,379.9 181.7,380.3 182.2,380.7 182.6,381.1 183.1,381.5 183.6,381.9 184.1,382.2 184.7,382.6 185.2,382.9 185.8,383.1 186.4,383.4 187.0,383.6 187.6,383.8 188.3,384.0 188.9,384.1 189.5,384.2 190.1,384.3 190.7,384.4 191.2,384.4 191.7,384.4 192.2,384.4 192.7,384.4 193.2,384.3 193.7,384.2 194.2,384.2 194.7,384.1 195.2,383.9 195.7,383.8 196.1,383.6 196.5,383.4 196.9,383.1 197.3,382.8 197.7,382.5 198.0,382.1 198.4,381.7 198.8,381.2 199.1,380.8 199.4,380.2 199.8,379.6 200.1,378.9 200.4,378.0 200.7,377.0 201.0,375.9 201.3,374.7 201.6,373.3 201.8,371.8 202.1,370.0 202.3,368.0 202.6,365.7 202.8,363.2 203.0,360.6 203.2,357.9 203.4,355.0 203.6,351.9 203.8,348.6 203.9,345.1 204.1,341.6 204.3,338.2 204.4,335.0 204.5,331.9 204.7,328.7 204.8,325.6 204.9,322.7 205.0,320.1 205.1,318.0 205.2,316.3 205.3,314.9 205.3,313.8 205.4,313.1 205.4,312.6 205.5,312.5 205.6,312.6 205.6,313.1 205.7,313.8 205.8,314.9 205.9,316.3 206.0,318.0 206.1,320.1 206.2,322.7 206.4,325.6 206.5,328.7 206.6,331.9 206.8,335.0 207.0,338.2 207.2,341.7 207.3,345.3 207.6,348.8 207.8,352.1 208.0,355.0 208.2,357.6 208.5,359.9 208.8,362.0 209.0,364.0 209.3,365.8 209.6,367.5 209.9,369.1 210.2,370.5 210.5,371.7 210.9,372.9 211.2,374.0 211.6,375.0 212.0,376.0 212.4,376.9 212.8,377.8 213.2,378.5 213.6,379.3 214.1,380.0 214.6,380.7 215.1,381.3 215.6,381.9 216.1,382.4 216.7,383.0 217.3,383.5 218.0,384.0 218.7,384.5 219.5,385.0 220.3,385.4 221.2,385.9 222.1,386.3 223.2,386.7 224.4,387.1 225.7,387.5 226.9,387.9 227.9,388.2 228.6,388.4" stroke="rgb(40,160,220)" stroke-width="1.3"/>
<path d="M38.3,389.6 43.5,389.6 51.1,389.6 59.9,389.6 68.7,389.6 76.4,389.6 81.8,389.6 84.6,389.5 85.8,389.5 85.8,389.4 85.3,389.3 84.8,389.2 84.8,389.0 85.3,388.8 85.8,388.5 86.3,388.2 86.8,387.9 87.3,387.6 87.8,387.3 88.3,387.0 88.7,386.6 89.1,386.3 89.5,385.9 89.9,385.6 90.3,385.2 90.7,384.8 91.0,384.5 91.3,384.2 91.7,383.8 92.0,383.4 92.3,383.0 92.6,382.6 93.0,382.1 93.3,381.7 93.6,381.2 94.0,380.6 94.3,380.0 94.6,379.3 95.0,378.6 95.3,377.8 95.7,377.0 96.0,376.0 96.3,375.0 96.6,373.9 96.9,372.6 97.2,371.3 97.5,369.9 97.7,368.5 98.0,367.1 98.3,365.7 98.5,364.2 98.7,362.7 99.0,361.3 99.2,359.9 99.4,358.6 99.6,357.5 99.8,356.6 99.9,355.7 100.1,354.8 100.2,353.7 100.4,352.4 100.6,350.8 100.7,349.0 100.9,347.0 101.1,345.0 101.2,342.9 101.4,340.9 101.6,338.8 101.7,336.6 101.9,334.4 102.1,332.2 102.2,330.2 102.4,328.5 102.5,326.9 102.6,325.5 102.7,324.2 102.9,323.1 103.0,322.2 103.1,321.6 103.3,321.2 103.4,321.1 103.6,321.1 103.8,321.4 104.0,321.9 104.2,322.7 104.4,323.9 104.6,325.4 104.9,327.2 105.1,329.1 105.3,331.2 105.5,333.4 105.7,335.7 105.9,338.4 106.0,341.2 106.2,344.0 106.4,346.6 106.6,348.7 106.7,350.5 106.9,352.0 107.1,353.3 107.3,354.4 107.5,355.5 107.8,356.6 108.1,357.8 108.4,358.8 108.7,359.8 109.0,360.9 109.4,361.9 109.8,363.0 110.2,364.2 110.7,365.5 111.2,366.8 111.7,368.1 112.2,369.2 112.7,370.2 113.2,371.1 113.7,371.9 114.2,372.5 114.7,373.1 115.3,373.6 115.8,374.0 116.4,374.3 117.1,374.6 117.7,374.8 118.4,375.0 119.0,375.2 119.5,375.4 120.0,375.6 120.5,375.8 120.9,376.0 121.3,376.1 121.7,376.2 122.2,376.4 122.6,376.4 123.0,376.4 123.5,376.4 124.0,376.3 124.5,376.2 125.0,376.1 125.6,376.0 126.1,375.9 126.7,375.8 127.3,375.7 128.0,375.6 128.6,375.6 129.3,375.7 129.9,375.8 130.6,376.0 131.3,376.2 132.0,376.5 132.8,376.8 133.8,377.2 134.8,377.7 135.9,378.2 137.0,378.7 138.1,379.2 139.0,379.6 139.9,379.9 140.8,380.3 141.6,380.5 142.4,380.8 143.2,381.0 144.0,381.2 144.8,381.4 145.7,381.5 146.5,381.7 147.4,381.7 148.2,381.8 148.9,381.7 149.6,381.5 150.3,381.3 151.0,381.0 151.6,380.6 152.2,380.3 152.8,380.0 153.3,379.7 153.8,379.4 154.3,379.1 154.7,378.8 155.2,378.6 155.6,378.5 156.1,378.5 156.5,378.7 156.9,378.9 157.4,379.1 157.8,379.3 158.2,379.5 158.6,379.6 159.0,379.8 159.4,379.9 159.9,380.0 160.3,380.0 160.8,380.0 161.3,379.9 161.9,379.8 162.4,379.7 163.0,379.5 163.6,379.3 164.2,379.0 164.7,378.7 165.3,378.3 165.9,378.0 166.5,377.5 167.0,377.1 167.6,376.6 168.0,376.1 168.5,375.5 169.0,374.9 169.4,374.2 169.8,373.7 170.2,373.1 170.5,372.6 170.8,372.2 171.1,371.7 171.4,371.3 171.6,370.9 171.9,370.4 172.1,369.9 172.3,369.4 172.5,368.8 172.7,368.3 172.9,367.8 173.2,367.3 173.4,366.9 173.6,366.5 173.8,366.2 174.0,365.9 174.2,365.7 174.5,365.6 174.7,365.6 174.8,365.8 175.0,366.0 175.2,366.4 175.4,366.8 175.7,367.2 175.9,367.8 176.1,368.5 176.4,369.3 176.6,370.1 176.9,370.9 177.2,371.7 177.5,372.4 177.8,373.2 178.2,373.9 178.5,374.7 178.8,375.4 179.2,376.0 179.4,376.6 179.7,377.2 179.9,377.6 180.1,378.1 180.3,378.6 180.7,379.0 181.0,379.5 181.4,379.9 181.8,380.3 182.2,380.7 182.7,381.1 183.2,381.5 183.6,381.9 184.2,382.2 184.7,382.6 185.3,382.9 185.9,383.1 186.5,383.4 187.1,383.6 187.7,383.8 188.3,384.0 188.9,384.1 189.6,384.2 190.2,384.3 190.7,384.4 191.2,384.4 191.8,384.4 192.3,384.4 192.8,384.4 193.3,384.3 193.8,384.2 194.3,384.2 194.8,384.1 195.2,383.9 195.7,383.8 196.2,383.6 196.6,383.4 197.0,383.1 197.4,382.8 197.7,382.5 198.1,382.1 198.5,381.7 198.8,381.2 199.2,380.8 199.5,380.2 199.8,379.6 200.1,378.9 200.5,378.0 200.8,377.0 201.1,375.9 201.3,374.7 201.6,373.3 201.9,371.8 202.2,370.0 202.4,368.0 202.6,365.7 202.9,363.2 203.1,360.6 203.3,357.9 203.5,355.0 203.7,351.9 203.9,348.6 204.1,345.1 204.2,341.6 204.4,338.2 204.6,335.0 204.7,331.9 204.9,328.7 205.0,325.6 205.1,322.7 205.2,320.1 205.3,318.0 205.4,316.3 205.5,314.9 205.6,313.8 205.6,313.1 205.7,312.6 205.8,312.5 205.9,312.6 206.0,313.1 206.0,313.8 206.1,314.9 206.2,316.3 206.4,318.0 206.5,320.1 206.6,322.7 206.8,325.6 206.9,328.7 207.1,331.9 207.3,335.0 207.5,338.2 207.7,341.7 207.9,345.3 208.1,348.8 208.3,352.1 208.5,355.0 208.8,357.6 209.0,359.9 209.3,362.0 209.5,364.0 209.8,365.8 210.0,367.5 210.3,369.1 210.6,370.5 210.9,371.7 211.1,372.9 211.5,374.0 211.8,375.0 212.1,376.0 212.5,376.9 212.9,377.8 213.3,378.5 213.7,379.3 214.2,380.0 214.6,380.7 215.1,381.3 215.6,381.9 216.1,382.4 216.7,383.0 217.4,383.5 218.0,384.0 218.8,384.5 219.5,385.0 220.4,385.4 221.2,385.9 222.2,386.3 223.2,386.7 224.4,387.1 225.7,387.5 226.9,387.9 227.9,388.2 228.7,388.4" stroke="rgb(30,80,160)" stroke-width="1.3"/>
<path d="M35.2,389.6 40.4,389.6 48.0,389.6 56.8,389.6 65.6,389.6 73.3,389.6 78.7,389.6 81.5,389.5 82.7,389.5 82.7,389.4 82.2,389.3 81.7,389.2 81.7,389.0 82.2,388.8 82.7,388.5 83.2,388.2 83.7,387.9 84.2,387.6 84.7,387.3 85.2,387.0 85.6,386.6 86.0,386.3 86.4,385.9 86.8,385.6 87.2,385.2 87.6,384.8 87.9,384.5 88.2,384.2 88.6,383.8 88.9,383.4 89.2,383.0 89.5,382.6 89.9,382.1 90.2,381.7 90.5,381.2 90.9,380.6 91.2,380.0 91.5,379.3 91.9,378.6 92.2,377.8 92.6,377.0 92.9,376.0 93.2,375.0 93.5,373.9 93.8,372.6 94.1,371.3 94.4,369.9 94.6,368.5 94.9,367.0 95.2,365.6 95.4,364.1 95.6,362.5 95.9,361.0 96.1,359.5 96.3,358.2 96.5,357.0 96.7,356.0 96.8,355.0 97.0,354.0 97.1,352.8 97.3,351.4 97.5,349.7 97.6,347.7 97.8,345.5 98.0,343.3 98.1,341.0 98.3,338.8 98.5,336.6 98.6,334.2 98.8,331.7 98.9,329.4 99.1,327.2 99.2,325.3 99.3,323.6 99.4,322.1 99.5,320.7 99.6,319.5 99.7,318.6 99.8,318.0 99.9,317.6 100.0,317.4 100.1,317.5 100.2,317.8 100.3,318.4 100.4,319.4 100.5,320.7 100.6,322.3 100.7,324.2 100.9,326.4 101.0,328.6 101.1,331.0 101.2,333.5 101.3,336.4 101.5,339.4 101.6,342.4 101.7,345.2 101.9,347.5 102.1,349.5 102.2,351.1 102.4,352.5 102.6,353.8 102.8,355.0 103.1,356.2 103.4,357.5 103.7,358.7 104.0,359.8 104.3,360.9 104.7,362.0 105.1,363.2 105.5,364.5 106.0,365.8 106.5,367.2 107.0,368.6 107.5,369.9 108.0,371.1 108.5,372.1 109.0,373.1 109.5,374.0 110.1,374.8 110.6,375.5 111.2,376.2 111.8,376.8 112.5,377.3 113.2,377.7 113.9,378.0 114.6,378.2 115.2,378.3 115.9,378.4 116.5,378.4 117.1,378.3 117.7,378.2 118.3,378.1 118.9,377.9 119.5,377.7 120.1,377.5 120.7,377.2 121.3,376.9 121.9,376.7 122.5,376.5 123.2,376.3 123.9,376.1 124.6,375.9 125.3,375.7 126.0,375.6 126.7,375.6 127.4,375.7 128.2,375.8 128.9,376.0 129.7,376.2 130.5,376.5 131.4,376.8 132.5,377.2 133.6,377.7 134.8,378.2 136.1,378.7 137.2,379.2 138.3,379.6 139.2,379.9 140.1,380.3 140.9,380.5 141.7,380.8 142.5,381.0 143.3,381.2 144.2,381.4 145.1,381.5 145.9,381.7 146.8,381.7 147.6,381.8 148.4,381.7 149.1,381.5 149.8,381.3 150.5,381.0 151.1,380.6 151.7,380.3 152.3,380.0 152.9,379.7 153.4,379.4 153.9,379.1 154.3,378.8 154.8,378.6 155.2,378.5 155.7,378.5 156.1,378.7 156.6,378.9 157.0,379.1 157.4,379.3 157.9,379.5 158.3,379.6 158.7,379.8 159.1,379.9 159.5,380.0 160.0,380.0 160.5,380.0 161.0,379.9 161.5,379.8 162.1,379.7 162.7,379.5 163.3,379.3 163.9,379.0 164.5,378.7 165.0,378.3 165.6,378.0 166.2,377.5 166.8,377.1 167.3,376.6 167.8,376.1 168.2,375.5 168.7,374.8 169.1,374.2 169.5,373.6 169.9,373.0 170.2,372.5 170.5,372.0 170.8,371.5 171.1,371.0 171.3,370.5 171.6,370.0 171.8,369.4 172.1,368.8 172.3,368.2 172.5,367.6 172.7,367.0 172.9,366.5 173.1,366.0 173.3,365.6 173.5,365.2 173.8,364.9 174.0,364.7 174.2,364.6 174.4,364.7 174.6,364.8 174.8,365.1 175.0,365.5 175.2,366.0 175.4,366.5 175.6,367.1 175.8,367.9 176.1,368.8 176.3,369.7 176.6,370.6 176.9,371.4 177.2,372.2 177.5,373.0 177.9,373.8 178.2,374.6 178.6,375.3 178.9,376.0 179.2,376.6 179.4,377.1 179.6,377.6 179.8,378.1 180.1,378.5 180.4,379.0 180.7,379.5 181.1,379.9 181.5,380.3 182.0,380.7 182.4,381.1 182.9,381.5 183.4,381.9 183.9,382.2 184.5,382.6 185.0,382.9 185.6,383.1 186.2,383.4 186.8,383.6 187.4,383.8 188.1,384.0 188.7,384.1 189.3,384.2 189.9,384.3 190.4,384.4 191.0,384.4 191.5,384.4 192.0,384.4 192.5,384.4 193.0,384.3 193.5,384.2 194.0,384.2 194.5,384.1 195.0,383.9 195.4,383.8 195.9,383.6 196.3,383.4 196.7,383.1 197.1,382.8 197.5,382.5 197.8,382.1 198.2,381.7 198.5,381.2 198.9,380.8 199.2,380.2 199.6,379.6 199.9,378.9 200.2,378.0 200.5,377.0 200.8,375.9 201.1,374.7 201.4,373.3 201.6,371.8 201.9,370.0 202.1,368.0 202.4,365.7 202.6,363.2 202.8,360.6 203.0,357.9 203.2,355.0 203.4,351.9 203.6,348.6 203.7,345.1 203.9,341.6 204.0,338.2 204.2,335.0 204.3,331.9 204.5,328.7 204.6,325.6 204.7,322.7 204.8,320.1 204.9,318.0 205.0,316.3 205.0,314.9 205.1,313.8 205.2,313.1 205.2,312.6 205.3,312.5 205.4,312.6 205.4,313.1 205.5,313.8 205.6,314.9 205.7,316.3 205.8,318.0 205.9,320.1 206.0,322.7 206.1,325.6 206.3,328.7 206.4,331.9 206.6,335.0 206.8,338.2 206.9,341.7 207.1,345.3 207.3,348.8 207.6,352.1 207.8,355.0 208.0,357.6 208.3,359.9 208.5,362.0 208.8,364.0 209.1,365.8 209.4,367.5 209.7,369.1 210.0,370.5 210.3,371.7 210.7,372.9 211.0,374.0 211.4,375.0 211.8,376.0 212.2,376.9 212.6,377.8 213.0,378.5 213.4,379.3 213.9,380.0 214.4,380.7 214.8,381.3 215.3,381.9 215.9,382.4 216.5,383.0 217.1,383.5 217.8,384.0 218.5,384.5 219.3,385.0 220.1,385.4 221.0,385.9 221.9,386.3 223.0,386.7 224.2,387.1 225.4,387.5 226.6,387.9 227.7,388.2 228.4,388.4" stroke="rgb(128,128,128)" stroke-width="1.5"/>
<path d="M36.8,390.6 37.7,390.7 39.1,390.8 40.6,390.9 42.3,391.0 43.9,391.1 45.3,391.3 46.6,391.5 47.9,391.7 49.1,391.9 50.2,392.1 51.3,392.4 52.3,392.6 53.2,392.8 53.9,393.0 54.5,393.3 55.2,393.5 55.7,393.7 56.3,394.0 56.9,394.3 57.4,394.6 57.9,394.9 58.4,395.3 58.8,395.6 59.3,396.0 59.8,396.4 60.2,396.9 60.6,397.3 61.0,397.8 61.4,398.3 61.8,398.8 62.2,399.3 62.5,399.8 62.9,400.3 63.2,400.8 63.5,401.2 63.8,401.6 64.1,402.0 64.3,402.3 64.6,402.5 64.8,402.7 65.1,402.8 65.3,402.8 65.5,402.8 65.8,402.7 66.0,402.5 66.2,402.3 66.5,402.0 66.7,401.7 66.9,401.2 67.2,400.7 67.4,400.1 67.7,399.5 67.9,399.0 68.2,398.4 68.5,397.9 68.7,397.3 69.0,396.8 69.3,396.3 69.6,395.8 69.9,395.4 70.2,395.0 70.5,394.6 70.8,394.2 71.2,393.9 71.7,393.6 72.3,393.3 73.1,393.1 74.1,392.9 75.2,392.7 76.3,392.5 77.3,392.4 78.3,392.3 79.2,392.2 80.0,392.2 80.8,392.3 81.5,392.3 82.2,392.3 82.8,392.4 83.3,392.5 83.8,392.5 84.2,392.6 84.6,392.7 84.9,392.8 85.3,393.0 85.7,393.2 86.0,393.5 86.4,393.8 86.7,394.2 87.0,394.6 87.3,395.0 87.6,395.4 87.9,395.9 88.1,396.3 88.4,396.8 88.6,397.4 88.8,398.0 89.0,398.6 89.2,399.2 89.3,399.9 89.5,400.7 89.7,401.7 89.8,402.9 89.9,404.4 90.1,406.1 90.2,407.9 90.4,409.9 90.5,412.2 90.6,414.7 90.7,417.5 90.8,420.7 90.9,424.2 91.0,427.7 91.1,431.1 91.2,434.2 91.3,437.3 91.4,440.4 91.5,443.4 91.6,446.2 91.6,448.7 91.7,450.8 91.8,452.5 91.8,454.0 91.9,455.1 91.9,455.9 92.0,456.5 92.0,456.6 92.0,456.5 92.1,455.9 92.1,455.1 92.2,454.0 92.2,452.5 92.3,450.8 92.4,448.7 92.4,446.2 92.5,443.4 92.6,440.4 92.7,437.3 92.8,434.2 92.9,431.0 93.0,427.6 93.1,424.1 93.2,420.7 93.3,417.5 93.4,414.7 93.5,412.3 93.6,410.1 93.7,408.2 93.9,406.6 94.0,405.1 94.2,403.9 94.4,403.0 94.6,402.4 94.8,402.1 95.0,401.8 95.3,401.6 95.6,401.3 95.9,400.9 96.3,400.5 96.7,400.2 97.1,399.9 97.5,399.6 97.9,399.3 98.3,399.1 98.7,398.9 99.1,398.7 99.5,398.6 99.9,398.5 100.3,398.4 100.7,398.3 101.1,398.3 101.5,398.2 101.9,398.2 102.3,398.2 102.8,398.2 103.3,398.2 103.9,398.3 104.4,398.3 105.0,398.4 105.7,398.5 106.3,398.6 107.0,398.7 107.7,398.8 108.4,398.9 109.1,399.1 109.9,399.2 110.6,399.4 111.4,399.6 112.2,399.8 113.0,400.1 113.8,400.3 114.6,400.6 115.3,400.8 116.0,401.0 116.7,401.2 117.3,401.4 117.9,401.5 118.5,401.6 119.2,401.7 119.9,401.7 120.6,401.6 121.3,401.5 122.0,401.4 122.7,401.3 123.3,401.2 123.9,401.1 124.3,401.0 124.8,400.9 125.3,400.8 125.8,400.6 126.3,400.5 126.9,400.3 127.6,400.2 128.2,400.0 128.9,399.8 129.6,399.6 130.3,399.4 131.0,399.2 131.7,399.0 132.4,398.8 133.0,398.7 133.7,398.5 134.3,398.4 134.9,398.3 135.4,398.2 135.9,398.2 136.3,398.1 136.8,398.2 137.3,398.3 137.8,398.5 138.3,398.9 138.8,399.2 139.3,399.6 139.8,400.0 140.3,400.3 140.8,400.5 141.4,400.7 142.0,400.9 142.5,401.0 143.1,401.1 143.6,401.2 144.1,401.3 144.5,401.3 144.8,401.3 145.2,401.3 145.7,401.2 146.3,401.0 147.0,400.7 147.9,400.2 148.8,399.7 149.7,399.1 150.7,398.6 151.5,398.2 152.3,397.8 153.0,397.5 153.7,397.1 154.4,396.9 155.1,396.7 155.7,396.6 156.3,396.7 157.0,396.9 157.6,397.1 158.1,397.5 158.7,397.8 159.2,398.2 159.7,398.6 160.1,399.0 160.5,399.4 160.8,399.9 161.2,400.4 161.5,401.0 161.8,401.7 162.1,402.4 162.4,403.2 162.6,404.1 162.9,405.0 163.1,406.0 163.3,407.1 163.5,408.2 163.7,409.4 163.9,410.6 164.1,411.8 164.3,413.0 164.5,414.2 164.6,415.4 164.8,416.7 164.9,417.8 165.1,418.8 165.2,419.5 165.3,420.0 165.5,420.2 165.6,420.3 165.7,420.2 165.9,420.0 166.0,419.5 166.1,418.8 166.3,417.8 166.4,416.7 166.6,415.4 166.7,414.2 166.9,413.0 167.1,411.8 167.2,410.6 167.4,409.4 167.5,408.2 167.7,407.0 167.9,406.0 168.1,405.1 168.3,404.2 168.5,403.5 168.8,402.8 169.0,402.1 169.3,401.5 169.6,400.9 169.9,400.4 170.2,400.0 170.6,399.6 170.9,399.2 171.3,398.8 171.7,398.4 172.1,398.1 172.5,397.7 172.9,397.4 173.4,397.1 173.8,396.8 174.2,396.5 174.6,396.2 175.0,395.9 175.4,395.7 175.8,395.4 176.3,395.2 176.9,395.0 177.5,394.8 178.2,394.6 178.9,394.4 179.6,394.2 180.3,394.0 181.0,393.8 181.8,393.6 182.6,393.4 183.4,393.3 184.1,393.1 184.9,393.0 185.7,392.9 186.5,392.9 187.2,392.9 188.0,392.9 188.7,393.0 189.3,393.0 189.8,393.0 190.3,393.1 190.6,393.1 191.0,393.2 191.3,393.3 191.7,393.4 192.1,393.5 192.4,393.6 192.8,393.8 193.1,394.0 193.5,394.2 193.8,394.5 194.1,394.9 194.4,395.3 194.7,395.7 195.0,396.2 195.3,396.8 195.5,397.5 195.7,398.2 196.0,398.9 196.2,399.7 196.3,400.6 196.5,401.7 196.7,403.0 196.9,404.5 197.0,406.0 197.1,407.8 197.3,409.8 197.4,412.2 197.5,415.0 197.6,418.4 197.7,422.2 197.8,426.4 197.9,430.8 198.0,435.4 198.1,440.0 198.2,444.6 198.3,449.4 198.3,454.3 198.4,459.4 198.4,464.6 198.5,470.0 198.6,476.1 198.6,482.9 198.7,489.9 198.7,496.4 198.8,502.0 198.8,506.0" stroke="rgb(112,184,48)" stroke-width="1.3"/>
<path d="M200.5,506.0 200.5,502.0 200.6,496.4 200.6,489.9 200.7,482.9 200.7,476.1 200.8,470.0 200.9,464.6 200.9,459.4 201.0,454.3 201.0,449.4 201.1,444.6 201.2,440.0 201.3,435.4 201.4,430.8 201.5,426.3 201.6,422.1 201.8,418.3 201.9,415.0 202.1,412.3 202.2,410.1 202.4,408.2 202.6,406.7 202.8,405.3 203.0,404.0 203.3,402.8 203.5,401.9 203.9,401.2 204.2,400.6 204.5,400.0 204.8,399.5 205.1,399.0 205.4,398.6 205.6,398.3 205.9,398.0 206.2,397.6 206.6,397.3 207.0,396.9 207.4,396.6 207.8,396.2 208.2,395.8 208.7,395.4 209.3,395.0 209.9,394.6 210.7,394.1 211.4,393.6 212.2,393.1 213.0,392.7 213.8,392.3 214.6,391.9 215.3,391.6 216.1,391.3 216.8,391.0 217.6,390.7 218.3,390.5 219.0,390.3 219.6,390.1 220.2,389.9 220.8,389.8 221.5,389.7 222.3,389.5 223.3,389.3 224.5,389.1 225.8,388.9 227.0,388.8 228.1,388.6 228.8,388.5" stroke="rgb(112,184,48)" stroke-width="1.3"/>
<path d="M36.3,390.6 37.2,390.7 38.6,390.8 40.1,390.9 41.8,391.0 43.4,391.1 44.8,391.3 46.1,391.5 47.4,391.7 48.6,391.9 49.7,392.1 50.8,392.4 51.8,392.6 52.7,392.8 53.4,393.0 54.0,393.3 54.7,393.5 55.2,393.7 55.8,394.0 56.4,394.3 56.9,394.6 57.4,394.9 57.9,395.3 58.3,395.6 58.8,396.0 59.3,396.4 59.7,396.9 60.1,397.3 60.5,397.8 60.9,398.3 61.3,398.7 61.7,399.2 62.0,399.7 62.4,400.2 62.7,400.6 63.0,401.1 63.3,401.5 63.6,401.8 63.8,402.1 64.1,402.3 64.3,402.4 64.6,402.5 64.8,402.6 65.0,402.6 65.3,402.5 65.5,402.3 65.7,402.1 66.0,401.8 66.2,401.5 66.4,401.1 66.7,400.6 66.9,400.0 67.2,399.4 67.4,398.9 67.7,398.3 68.0,397.8 68.2,397.3 68.5,396.8 68.8,396.3 69.1,395.8 69.4,395.4 69.7,395.0 70.0,394.6 70.3,394.2 70.7,393.9 71.2,393.6 71.8,393.3 72.6,393.1 73.6,392.9 74.7,392.7 75.8,392.5 76.8,392.4 77.8,392.3 78.7,392.2 79.5,392.2 80.3,392.3 81.0,392.3 81.7,392.3 82.3,392.4 82.8,392.5 83.3,392.5 83.7,392.6 84.1,392.7 84.4,392.8 84.8,393.0 85.2,393.2 85.5,393.5 85.9,393.9 86.2,394.2 86.5,394.6 86.8,395.0 87.1,395.4 87.4,395.9 87.6,396.3 87.9,396.8 88.1,397.4 88.3,398.0 88.5,398.6 88.7,399.3 88.8,399.9 89.0,400.7 89.2,401.7 89.3,403.0 89.4,404.5 89.6,406.2 89.7,408.1 89.9,410.1 90.0,412.5 90.1,415.0 90.2,417.9 90.3,421.2 90.4,424.7 90.5,428.3 90.6,431.7 90.7,435.0 90.8,438.1 90.9,441.3 91.0,444.4 91.1,447.3 91.1,449.8 91.2,452.0 91.3,453.8 91.3,455.3 91.4,456.4 91.4,457.3 91.5,457.8 91.5,458.0 91.5,457.8 91.6,457.3 91.6,456.4 91.7,455.3 91.7,453.8 91.8,452.0 91.9,449.8 91.9,447.3 92.0,444.4 92.1,441.3 92.2,438.1 92.3,435.0 92.4,431.7 92.5,428.2 92.6,424.6 92.7,421.1 92.8,417.8 92.9,415.0 93.0,412.5 93.1,410.4 93.2,408.4 93.4,406.7 93.5,405.2 93.7,404.0 93.9,403.1 94.1,402.5 94.3,402.1 94.5,401.8 94.8,401.6 95.1,401.3 95.4,400.9 95.8,400.5 96.2,400.2 96.6,399.9 97.0,399.6 97.4,399.3 97.8,399.1 98.2,398.9 98.6,398.7 99.0,398.6 99.4,398.5 99.8,398.4 100.2,398.3 100.6,398.3 101.0,398.2 101.4,398.2 101.8,398.2 102.3,398.2 102.8,398.2 103.4,398.3 103.9,398.3 104.5,398.4 105.2,398.5 105.8,398.6 106.5,398.7 107.2,398.8 107.9,398.9 108.6,399.1 109.4,399.2 110.1,399.4 110.9,399.6 111.7,399.8 112.5,400.1 113.3,400.3 114.1,400.6 114.8,400.8 115.5,401.0 116.2,401.2 116.8,401.4 117.4,401.5 118.0,401.6 118.7,401.7 119.4,401.7 120.1,401.6 120.8,401.5 121.5,401.4 122.2,401.3 122.8,401.2 123.4,401.1 123.8,401.0 124.3,400.9 124.8,400.8 125.3,400.6 125.8,400.5 126.4,400.3 127.1,400.2 127.7,400.0 128.4,399.8 129.1,399.6 129.8,399.4 130.5,399.2 131.2,399.0 131.9,398.8 132.5,398.7 133.2,398.5 133.8,398.4 134.4,398.3 134.9,398.2 135.4,398.2 135.8,398.1 136.3,398.2 136.8,398.3 137.3,398.5 137.8,398.9 138.3,399.2 138.8,399.6 139.3,400.0 139.8,400.3 140.3,400.5 140.9,400.7 141.5,400.9 142.0,401.0 142.6,401.1 143.1,401.2 143.6,401.3 144.0,401.3 144.3,401.3 144.7,401.3 145.2,401.2 145.8,401.0 146.5,400.7 147.4,400.2 148.3,399.7 149.2,399.1 150.2,398.6 151.0,398.2 151.8,397.8 152.5,397.5 153.2,397.1 153.9,396.9 154.6,396.7 155.2,396.6 155.8,396.7 156.5,396.9 157.1,397.1 157.6,397.5 158.2,397.8 158.7,398.2 159.2,398.6 159.6,399.0 160.0,399.4 160.3,399.9 160.7,400.4 161.0,401.0 161.3,401.7 161.6,402.4 161.9,403.2 162.1,404.1 162.4,405.0 162.6,406.0 162.8,407.1 163.0,408.2 163.2,409.4 163.4,410.6 163.6,411.8 163.8,413.0 164.0,414.2 164.1,415.4 164.3,416.7 164.4,417.8 164.6,418.8 164.7,419.5 164.8,420.0 165.0,420.2 165.1,420.3 165.2,420.2 165.4,420.0 165.5,419.5 165.6,418.8 165.8,417.8 165.9,416.7 166.1,415.4 166.2,414.2 166.4,413.0 166.6,411.8 166.7,410.6 166.9,409.4 167.0,408.2 167.2,407.0 167.4,406.0 167.6,405.1 167.8,404.2 168.0,403.5 168.3,402.8 168.5,402.1 168.8,401.5 169.1,400.9 169.4,400.4 169.7,400.0 170.1,399.6 170.4,399.2 170.8,398.8 171.2,398.4 171.6,398.1 172.0,397.7 172.4,397.4 172.9,397.1 173.3,396.8 173.7,396.5 174.1,396.2 174.5,395.9 174.9,395.7 175.3,395.4 175.8,395.2 176.4,395.0 177.0,394.8 177.7,394.6 178.4,394.4 179.1,394.2 179.8,394.0 180.5,393.8 181.3,393.6 182.1,393.4 182.9,393.3 183.6,393.1 184.4,393.0 185.2,392.9 186.0,392.9 186.7,392.9 187.5,392.9 188.2,393.0 188.8,393.0 189.3,393.0 189.8,393.1 190.1,393.1 190.5,393.2 190.8,393.3 191.2,393.4 191.6,393.5 191.9,393.6 192.3,393.8 192.6,394.0 193.0,394.2 193.3,394.5 193.6,394.9 193.9,395.3 194.2,395.7 194.5,396.2 194.8,396.8 195.0,397.5 195.2,398.2 195.5,398.9 195.7,399.7 195.8,400.6 196.0,401.7 196.2,403.0 196.4,404.5 196.5,406.0 196.6,407.8 196.8,409.8 196.9,412.2 197.0,415.0 197.1,418.4 197.2,422.2 197.3,426.4 197.4,430.8 197.5,435.4 197.6,440.0 197.7,444.6 197.8,449.4 197.8,454.3 197.9,459.4 197.9,464.6 198.0,470.0 198.1,476.1 198.1,482.9 198.2,489.9 198.2,496.4 198.3,502.0 198.3,506.0" stroke="rgb(20,120,60)" stroke-width="1.3"/>
<path d="M200.0,506.0 200.0,502.0 200.1,496.4 200.1,489.9 200.2,482.9 200.2,476.1 200.3,470.0 200.4,464.6 200.4,459.4 200.5,454.3 200.5,449.4 200.6,444.6 200.7,440.0 200.8,435.4 200.9,430.8 201.0,426.3 201.1,422.1 201.3,418.3 201.4,415.0 201.6,412.3 201.7,410.1 201.9,408.2 202.1,406.7 202.3,405.3 202.5,404.0 202.8,402.8 203.0,401.9 203.4,401.2 203.7,400.6 204.0,400.0 204.3,399.5 204.6,399.0 204.9,398.6 205.1,398.3 205.4,398.0 205.7,397.6 206.1,397.3 206.5,396.9 206.9,396.6 207.3,396.2 207.7,395.8 208.2,395.4 208.8,395.0 209.4,394.6 210.2,394.1 210.9,393.6 211.7,393.1 212.5,392.7 213.3,392.3 214.1,391.9 214.8,391.6 215.6,391.3 216.3,391.0 217.1,390.7 217.8,390.5 218.5,390.3 219.1,390.1 219.7,389.9 220.3,389.8 221.0,389.7 221.8,389.5 222.8,389.3 224.0,389.1 225.3,388.9 226.5,388.8 227.6,388.6 228.3,388.5" stroke="rgb(20,120,60)" stroke-width="1.3"/>
<path d="M37.0,390.6 37.9,390.7 39.3,390.8 40.8,390.9 42.5,391.0 44.1,391.1 45.5,391.3 46.8,391.5 48.1,391.7 49.3,391.9 50.4,392.1 51.5,392.4 52.5,392.6 53.4,392.8 54.1,393.0 54.8,393.3 55.4,393.5 55.9,393.7 56.5,394.0 57.1,394.3 57.6,394.6 58.1,394.9 58.6,395.3 59.0,395.6 59.5,396.0 60.0,396.3 60.4,396.7 60.8,397.1 61.2,397.5 61.6,397.8 62.0,398.0 62.4,398.3 62.7,398.5 63.1,398.6 63.4,398.7 63.7,398.8 64.0,398.9 64.3,398.9 64.5,399.0 64.8,399.0 65.0,399.0 65.3,399.0 65.5,399.0 65.7,399.0 66.0,399.0 66.2,399.0 66.4,399.0 66.7,398.9 66.9,398.8 67.1,398.7 67.4,398.5 67.6,398.2 67.9,397.9 68.1,397.6 68.4,397.3 68.7,397.0 68.9,396.7 69.2,396.3 69.5,395.9 69.8,395.6 70.1,395.2 70.4,394.8 70.7,394.5 71.0,394.2 71.4,393.8 71.9,393.6 72.5,393.3 73.3,393.1 74.3,392.9 75.4,392.7 76.5,392.5 77.5,392.4 78.5,392.3 79.4,392.2 80.2,392.2 81.0,392.2 81.7,392.3 82.4,392.3 83.0,392.4 83.5,392.5 84.0,392.5 84.4,392.6 84.8,392.7 85.1,392.8 85.5,393.0 85.9,393.2 86.2,393.5 86.6,393.9 86.9,394.2 87.2,394.6 87.5,395.0 87.8,395.4 88.1,395.9 88.3,396.3 88.6,396.8 88.8,397.4 89.0,398.0 89.2,398.7 89.4,399.3 89.5,400.0 89.7,400.8 89.9,401.9 90.0,403.2 90.1,404.8 90.3,406.5 90.4,408.6 90.6,410.8 90.7,413.4 90.8,416.2 90.9,419.4 91.0,423.1 91.1,427.0 91.2,431.0 91.3,435.0 91.4,438.8 91.5,442.4 91.6,446.1 91.7,449.7 91.8,453.1 91.8,456.1 91.9,458.6 92.0,460.7 92.0,462.4 92.1,463.7 92.1,464.7 92.2,465.3 92.2,465.5 92.2,465.3 92.3,464.7 92.3,463.7 92.4,462.4 92.4,460.7 92.5,458.6 92.6,456.1 92.6,453.1 92.7,449.7 92.8,446.1 92.9,442.4 93.0,438.8 93.1,435.0 93.2,431.0 93.3,426.9 93.4,423.0 93.5,419.3 93.6,416.2 93.7,413.5 93.8,411.1 93.9,408.9 94.1,407.1 94.2,405.5 94.4,404.2 94.6,403.2 94.8,402.5 95.0,402.1 95.2,401.9 95.5,401.6 95.8,401.3 96.1,400.9 96.5,400.5 96.9,400.2 97.3,399.9 97.7,399.6 98.1,399.3 98.5,399.1 98.9,398.9 99.3,398.7 99.7,398.6 100.1,398.5 100.5,398.4 100.9,398.3 101.3,398.3 101.7,398.2 102.1,398.2 102.5,398.2 103.0,398.2 103.5,398.2 104.1,398.3 104.6,398.3 105.2,398.4 105.9,398.5 106.5,398.6 107.2,398.7 107.9,398.8 108.6,398.9 109.3,399.1 110.1,399.2 110.8,399.4 111.6,399.6 112.4,399.8 113.2,400.1 114.0,400.3 114.8,400.6 115.5,400.8 116.2,401.0 116.9,401.2 117.5,401.4 118.1,401.5 118.7,401.6 119.4,401.7 120.1,401.7 120.8,401.6 121.5,401.5 122.2,401.4 122.9,401.3 123.5,401.2 124.1,401.1 124.5,401.0 125.0,400.9 125.5,400.8 126.0,400.6 126.5,400.5 127.1,400.3 127.8,400.2 128.4,400.0 129.1,399.8 129.8,399.6 130.5,399.4 131.2,399.2 131.9,399.0 132.6,398.8 133.2,398.7 133.9,398.5 134.5,398.4 135.1,398.3 135.6,398.2 136.1,398.2 136.5,398.1 137.0,398.2 137.5,398.3 138.0,398.5 138.5,398.9 139.0,399.2 139.5,399.6 140.0,400.0 140.5,400.3 141.0,400.5 141.6,400.7 142.2,400.9 142.7,401.0 143.3,401.1 143.8,401.2 144.3,401.3 144.7,401.3 145.0,401.3 145.4,401.3 145.9,401.2 146.5,401.0 147.2,400.7 148.1,400.2 149.0,399.7 149.9,399.1 150.9,398.6 151.7,398.2 152.5,397.8 153.2,397.5 153.9,397.1 154.6,396.9 155.3,396.7 155.9,396.6 156.5,396.7 157.2,396.9 157.8,397.1 158.3,397.5 158.9,397.8 159.4,398.2 159.9,398.6 160.3,399.0 160.7,399.4 161.0,399.9 161.4,400.4 161.7,401.0 162.0,401.7 162.3,402.4 162.6,403.2 162.8,404.1 163.1,405.0 163.3,406.0 163.5,407.1 163.7,408.2 163.9,409.4 164.1,410.6 164.3,411.8 164.5,413.0 164.7,414.2 164.8,415.4 165.0,416.7 165.1,417.8 165.3,418.8 165.4,419.5 165.5,420.0 165.7,420.2 165.8,420.3 165.9,420.2 166.1,420.0 166.2,419.5 166.3,418.8 166.5,417.8 166.6,416.7 166.8,415.4 166.9,414.2 167.1,413.0 167.3,411.8 167.4,410.6 167.6,409.4 167.7,408.2 167.9,407.0 168.1,406.0 168.3,405.1 168.5,404.2 168.7,403.5 169.0,402.8 169.2,402.1 169.5,401.5 169.8,400.9 170.1,400.4 170.4,400.0 170.8,399.6 171.1,399.2 171.5,398.8 171.9,398.4 172.3,398.1 172.7,397.7 173.1,397.4 173.6,397.1 174.0,396.8 174.4,396.5 174.8,396.2 175.2,395.9 175.6,395.7 176.0,395.4 176.5,395.2 177.1,395.0 177.7,394.8 178.4,394.6 179.1,394.4 179.8,394.2 180.5,394.0 181.2,393.8 182.0,393.6 182.8,393.4 183.6,393.3 184.3,393.1 185.1,393.0 185.9,392.9 186.7,392.9 187.4,392.9 188.2,392.9 188.9,393.0 189.5,393.0 190.0,393.0 190.5,393.1 190.8,393.1 191.2,393.2 191.5,393.3 191.9,393.4 192.3,393.5 192.6,393.6 193.0,393.8 193.3,394.0 193.7,394.2 194.0,394.5 194.3,394.9 194.6,395.3 194.9,395.7 195.2,396.2 195.5,396.8 195.7,397.5 195.9,398.2 196.2,398.9 196.4,399.7 196.5,400.6 196.7,401.7 196.9,403.0 197.1,404.5 197.2,406.0 197.3,407.8 197.5,409.8 197.6,412.2 197.7,415.0 197.8,418.4 197.9,422.2 198.0,426.4 198.1,430.8 198.2,435.4 198.3,440.0 198.4,444.6 198.5,449.4 198.5,454.3 198.6,459.4 198.6,464.6 198.7,470.0 198.8,476.1 198.8,482.9 198.9,489.9 198.9,496.4 199.0,502.0 199.0,506.0" stroke="rgb(40,160,220)" stroke-width="1.3"/>
<path d="M200.7,506.0 200.7,502.0 200.8,496.4 200.8,489.9 200.9,482.9 200.9,476.1 201.0,470.0 201.1,464.6 201.1,459.4 201.2,454.3 201.2,449.4 201.3,444.6 201.4,440.0 201.5,435.4 201.6,430.8 201.7,426.3 201.8,422.1 202.0,418.3 202.1,415.0 202.3,412.3 202.4,410.1 202.6,408.2 202.8,406.7 203.0,405.3 203.2,404.0 203.5,402.8 203.7,401.9 204.1,401.2 204.4,400.6 204.7,400.0 205.0,399.5 205.3,399.0 205.6,398.6 205.8,398.3 206.1,398.0 206.4,397.6 206.8,397.3 207.2,396.9 207.6,396.6 208.0,396.2 208.4,395.8 208.9,395.4 209.5,395.0 210.1,394.6 210.9,394.1 211.6,393.6 212.4,393.1 213.2,392.7 214.0,392.3 214.8,391.9 215.5,391.6 216.3,391.3 217.0,391.0 217.8,390.7 218.5,390.5 219.2,390.3 219.8,390.1 220.4,389.9 221.0,389.8 221.7,389.7 222.5,389.5 223.5,389.3 224.7,389.1 226.0,388.9 227.2,388.8 228.3,388.6 229.0,388.5" stroke="rgb(40,160,220)" stroke-width="1.3"/>
<path d="M36.7,390.6 37.6,390.7 39.0,390.8 40.5,390.9 42.2,391.0 43.8,391.1 45.2,391.3 46.5,391.5 47.8,391.7 49.0,391.9 50.1,392.1 51.2,392.4 52.2,392.6 53.1,392.8 53.8,393.0 54.5,393.3 55.1,393.5 55.6,393.7 56.2,394.0 56.8,394.3 57.3,394.6 57.8,394.9 58.3,395.3 58.7,395.6 59.2,396.0 59.7,396.3 60.1,396.7 60.5,397.0 60.9,397.4 61.3,397.6 61.7,397.8 62.1,398.0 62.4,398.0 62.8,398.1 63.1,398.1 63.4,398.1 63.7,398.0 64.0,398.0 64.2,397.9 64.5,397.9 64.7,397.9 65.0,397.9 65.2,397.9 65.4,397.9 65.7,397.9 65.9,397.9 66.1,397.9 66.4,397.9 66.6,397.9 66.8,397.9 67.1,397.8 67.3,397.6 67.6,397.4 67.8,397.2 68.1,397.0 68.4,396.8 68.6,396.5 68.9,396.2 69.2,395.8 69.5,395.5 69.8,395.1 70.1,394.8 70.4,394.5 70.7,394.1 71.1,393.8 71.6,393.6 72.2,393.3 73.0,393.1 74.0,392.9 75.1,392.7 76.2,392.5 77.2,392.4 78.2,392.3 79.1,392.2 79.9,392.2 80.7,392.2 81.4,392.3 82.1,392.3 82.7,392.4 83.2,392.5 83.7,392.5 84.1,392.6 84.5,392.7 84.8,392.8 85.2,393.0 85.6,393.2 85.9,393.5 86.3,393.9 86.6,394.2 86.9,394.6 87.2,395.0 87.5,395.4 87.8,395.9 88.0,396.3 88.3,396.8 88.5,397.4 88.7,398.0 88.9,398.6 89.1,399.3 89.2,400.0 89.4,400.8 89.6,401.8 89.7,403.1 89.8,404.6 90.0,406.3 90.1,408.2 90.3,410.4 90.4,412.8 90.5,415.4 90.6,418.4 90.7,421.9 90.8,425.5 90.9,429.3 91.0,432.9 91.1,436.4 91.2,439.7 91.3,443.0 91.4,446.3 91.5,449.4 91.5,452.1 91.6,454.4 91.7,456.3 91.7,457.8 91.8,459.1 91.8,460.0 91.9,460.5 91.9,460.7 91.9,460.5 92.0,460.0 92.0,459.1 92.1,457.8 92.1,456.3 92.2,454.4 92.3,452.1 92.3,449.4 92.4,446.3 92.5,443.0 92.6,439.7 92.7,436.4 92.8,432.9 92.9,429.2 93.0,425.5 93.1,421.8 93.2,418.4 93.3,415.4 93.4,412.9 93.5,410.6 93.6,408.6 93.8,406.9 93.9,405.3 94.1,404.1 94.3,403.1 94.5,402.5 94.7,402.1 94.9,401.8 95.2,401.6 95.5,401.3 95.8,400.9 96.2,400.5 96.6,400.2 97.0,399.9 97.4,399.6 97.8,399.3 98.2,399.1 98.6,398.9 99.0,398.7 99.4,398.6 99.8,398.5 100.2,398.4 100.6,398.3 101.0,398.3 101.4,398.2 101.8,398.2 102.2,398.2 102.7,398.2 103.2,398.2 103.8,398.3 104.3,398.3 104.9,398.4 105.6,398.5 106.2,398.6 106.9,398.7 107.6,398.8 108.3,398.9 109.0,399.1 109.8,399.2 110.5,399.4 111.3,399.6 112.1,399.8 112.9,400.1 113.7,400.3 114.5,400.6 115.2,400.8 115.9,401.0 116.6,401.2 117.2,401.4 117.8,401.5 118.4,401.6 119.1,401.7 119.8,401.7 120.5,401.6 121.2,401.5 121.9,401.4 122.6,401.3 123.2,401.2 123.8,401.1 124.2,401.0 124.7,400.9 125.2,400.8 125.7,400.6 126.2,400.5 126.8,400.3 127.5,400.2 128.1,400.0 128.8,399.8 129.5,399.6 130.2,399.4 130.9,399.2 131.6,399.0 132.3,398.8 132.9,398.7 133.6,398.5 134.2,398.4 134.8,398.3 135.3,398.2 135.8,398.2 136.2,398.1 136.7,398.2 137.2,398.3 137.7,398.5 138.2,398.9 138.7,399.2 139.2,399.6 139.7,400.0 140.2,400.3 140.7,400.5 141.3,400.7 141.9,400.9 142.4,401.0 143.0,401.1 143.5,401.2 144.0,401.3 144.4,401.3 144.7,401.3 145.1,401.3 145.6,401.2 146.2,401.0 146.9,400.7 147.8,400.2 148.7,399.7 149.6,399.1 150.6,398.6 151.4,398.2 152.2,397.8 152.9,397.5 153.6,397.1 154.3,396.9 155.0,396.7 155.6,396.6 156.2,396.7 156.9,396.9 157.5,397.1 158.0,397.5 158.6,397.8 159.1,398.2 159.6,398.6 160.0,399.0 160.4,399.4 160.7,399.9 161.1,400.4 161.4,401.0 161.7,401.7 162.0,402.4 162.3,403.2 162.5,404.1 162.8,405.0 163.0,406.0 163.2,407.1 163.4,408.2 163.6,409.4 163.8,410.6 164.0,411.8 164.2,413.0 164.4,414.2 164.5,415.4 164.7,416.7 164.8,417.8 165.0,418.8 165.1,419.5 165.2,420.0 165.4,420.2 165.5,420.3 165.6,420.2 165.8,420.0 165.9,419.5 166.0,418.8 166.2,417.8 166.3,416.7 166.5,415.4 166.6,414.2 166.8,413.0 167.0,411.8 167.1,410.6 167.3,409.4 167.4,408.2 167.6,407.0 167.8,406.0 168.0,405.1 168.2,404.2 168.4,403.5 168.7,402.8 168.9,402.1 169.2,401.5 169.5,400.9 169.8,400.4 170.1,400.0 170.5,399.6 170.8,399.2 171.2,398.8 171.6,398.4 172.0,398.1 172.4,397.7 172.8,397.4 173.3,397.1 173.7,396.8 174.1,396.5 174.5,396.2 174.9,395.9 175.3,395.7 175.7,395.4 176.2,395.2 176.8,395.0 177.4,394.8 178.1,394.6 178.8,394.4 179.5,394.2 180.2,394.0 180.9,393.8 181.7,393.6 182.5,393.4 183.3,393.3 184.0,393.1 184.8,393.0 185.6,392.9 186.4,392.9 187.1,392.9 187.9,392.9 188.6,393.0 189.2,393.0 189.7,393.0 190.2,393.1 190.5,393.1 190.9,393.2 191.2,393.3 191.6,393.4 192.0,393.5 192.3,393.6 192.7,393.8 193.0,394.0 193.4,394.2 193.7,394.5 194.0,394.9 194.3,395.3 194.6,395.7 194.9,396.2 195.2,396.8 195.4,397.5 195.6,398.2 195.9,398.9 196.1,399.7 196.2,400.6 196.4,401.7 196.6,403.0 196.8,404.5 196.9,406.0 197.0,407.8 197.2,409.8 197.3,412.2 197.4,415.0 197.5,418.4 197.6,422.2 197.7,426.4 197.8,430.8 197.9,435.4 198.0,440.0 198.1,444.6 198.2,449.4 198.2,454.3 198.3,459.4 198.3,464.6 198.4,470.0 198.5,476.1 198.5,482.9 198.6,489.9 198.6,496.4 198.7,502.0 198.7,506.0" stroke="rgb(30,80,160)" stroke-width="1.3"/>
<path d="M200.4,506.0 200.4,502.0 200.5,496.4 200.5,489.9 200.6,482.9 200.6,476.1 200.7,470.0 200.8,464.6 200.8,459.4 200.9,454.3 200.9,449.4 201.0,444.6 201.1,440.0 201.2,435.4 201.3,430.8 201.4,426.3 201.5,422.1 201.7,418.3 201.8,415.0 202.0,412.3 202.1,410.1 202.3,408.2 202.5,406.7 202.7,405.3 202.9,404.0 203.2,402.8 203.4,401.9 203.8,401.2 204.1,400.6 204.4,400.0 204.7,399.5 205.0,399.0 205.3,398.6 205.5,398.3 205.8,398.0 206.1,397.6 206.5,397.3 206.9,396.9 207.3,396.6 207.7,396.2 208.1,395.8 208.6,395.4 209.2,395.0 209.8,394.6 210.6,394.1 211.3,393.6 212.1,393.1 212.9,392.7 213.7,392.3 214.5,391.9 215.2,391.6 216.0,391.3 216.7,391.0 217.5,390.7 218.2,390.5 218.9,390.3 219.5,390.1 220.1,389.9 220.7,389.8 221.4,389.7 222.2,389.5 223.2,389.3 224.4,389.1 225.7,388.9 226.9,388.8 228.0,388.6 228.7,388.5" stroke="rgb(30,80,160)" stroke-width="1.3"/>
<path d="M36.5,390.6 37.4,390.7 38.8,390.8 40.3,390.9 42.0,391.0 43.6,391.1 45.0,391.3 46.3,391.5 47.6,391.7 48.8,391.9 49.9,392.1 51.0,392.4 52.0,392.6 52.9,392.8 53.6,393.0 54.2,393.3 54.9,393.5 55.4,393.7 56.0,394.0 56.6,394.3 57.1,394.6 57.6,394.9 58.1,395.3 58.5,395.6 59.0,396.0 59.5,396.4 59.9,396.8 60.3,397.2 60.7,397.7 61.1,398.1 61.5,398.5 61.9,398.9 62.2,399.3 62.6,399.7 62.9,400.0 63.2,400.3 63.5,400.6 63.8,400.8 64.0,401.0 64.3,401.2 64.5,401.3 64.8,401.4 65.0,401.4 65.2,401.4 65.5,401.3 65.7,401.2 65.9,401.1 66.2,400.9 66.4,400.6 66.6,400.3 66.9,399.9 67.1,399.4 67.4,398.9 67.6,398.5 67.9,398.0 68.2,397.5 68.4,397.1 68.7,396.6 69.0,396.2 69.3,395.7 69.6,395.3 69.9,394.9 70.2,394.5 70.5,394.2 70.9,393.9 71.4,393.6 72.0,393.3 72.8,393.1 73.8,392.9 74.9,392.7 76.0,392.5 77.0,392.4 78.0,392.3 78.9,392.2 79.7,392.2 80.5,392.2 81.2,392.3 81.9,392.3 82.5,392.4 83.0,392.5 83.5,392.5 83.9,392.6 84.3,392.7 84.6,392.8 85.0,393.0 85.4,393.2 85.7,393.5 86.1,393.9 86.4,394.2 86.7,394.6 87.0,395.0 87.3,395.4 87.6,395.9 87.8,396.3 88.1,396.8 88.3,397.4 88.5,398.0 88.7,398.6 88.9,399.3 89.0,399.9 89.2,400.7 89.4,401.7 89.5,403.0 89.6,404.5 89.8,406.2 89.9,408.1 90.1,410.1 90.2,412.5 90.3,415.0 90.4,417.9 90.5,421.2 90.6,424.7 90.7,428.3 90.8,431.7 90.9,435.0 91.0,438.1 91.1,441.3 91.2,444.4 91.3,447.3 91.3,449.8 91.4,452.0 91.5,453.8 91.5,455.3 91.6,456.4 91.6,457.3 91.7,457.8 91.7,458.0 91.7,457.8 91.8,457.3 91.8,456.4 91.9,455.3 91.9,453.8 92.0,452.0 92.1,449.8 92.1,447.3 92.2,444.4 92.3,441.3 92.4,438.1 92.5,435.0 92.6,431.7 92.7,428.2 92.8,424.6 92.9,421.1 93.0,417.8 93.1,415.0 93.2,412.5 93.3,410.4 93.4,408.4 93.6,406.7 93.7,405.2 93.9,404.0 94.1,403.1 94.3,402.5 94.5,402.1 94.7,401.8 95.0,401.6 95.3,401.3 95.6,400.9 96.0,400.5 96.4,400.2 96.8,399.9 97.2,399.6 97.6,399.3 98.0,399.1 98.4,398.9 98.8,398.7 99.2,398.6 99.6,398.5 100.0,398.4 100.4,398.3 100.8,398.3 101.2,398.2 101.6,398.2 102.0,398.2 102.5,398.2 103.0,398.2 103.6,398.3 104.1,398.3 104.7,398.4 105.4,398.5 106.0,398.6 106.7,398.7 107.4,398.8 108.1,398.9 108.8,399.1 109.6,399.2 110.3,399.4 111.1,399.6 111.9,399.8 112.7,400.1 113.5,400.3 114.3,400.6 115.0,400.8 115.7,401.0 116.4,401.2 117.0,401.4 117.6,401.5 118.2,401.6 118.9,401.7 119.6,401.7 120.3,401.6 121.0,401.5 121.7,401.4 122.4,401.3 123.0,401.2 123.6,401.1 124.0,401.0 124.5,400.9 125.0,400.8 125.5,400.6 126.0,400.5 126.6,400.3 127.3,400.2 127.9,400.0 128.6,399.8 129.3,399.6 130.0,399.4 130.7,399.2 131.4,399.0 132.1,398.8 132.7,398.7 133.4,398.5 134.0,398.4 134.6,398.3 135.1,398.2 135.6,398.2 136.0,398.1 136.5,398.2 137.0,398.3 137.5,398.5 138.0,398.9 138.5,399.2 139.0,399.6 139.5,400.0 140.0,400.3 140.5,400.5 141.1,400.7 141.7,400.9 142.2,401.0 142.8,401.1 143.3,401.2 143.8,401.3 144.2,401.3 144.5,401.3 144.9,401.3 145.4,401.2 146.0,401.0 146.7,400.7 147.6,400.2 148.5,399.7 149.4,399.1 150.4,398.6 151.2,398.2 152.0,397.8 152.7,397.5 153.4,397.1 154.1,396.9 154.8,396.7 155.4,396.6 156.0,396.7 156.7,396.9 157.3,397.1 157.8,397.5 158.4,397.8 158.9,398.2 159.4,398.6 159.8,399.0 160.2,399.4 160.5,399.9 160.9,400.4 161.2,401.0 161.5,401.7 161.8,402.4 162.1,403.2 162.3,404.1 162.6,405.0 162.8,406.0 163.0,407.1 163.2,408.2 163.4,409.4 163.6,410.6 163.8,411.8 164.0,413.0 164.2,414.2 164.3,415.4 164.5,416.7 164.6,417.8 164.8,418.8 164.9,419.5 165.0,420.0 165.2,420.2 165.3,420.3 165.4,420.2 165.6,420.0 165.7,419.5 165.8,418.8 166.0,417.8 166.1,416.7 166.3,415.4 166.4,414.2 166.6,413.0 166.8,411.8 166.9,410.6 167.1,409.4 167.2,408.2 167.4,407.0 167.6,406.0 167.8,405.1 168.0,404.2 168.2,403.5 168.5,402.8 168.7,402.1 169.0,401.5 169.3,400.9 169.6,400.4 169.9,400.0 170.3,399.6 170.6,399.2 171.0,398.8 171.4,398.4 171.8,398.1 172.2,397.7 172.6,397.4 173.1,397.1 173.5,396.8 173.9,396.5 174.3,396.2 174.7,395.9 175.1,395.7 175.5,395.4 176.0,395.2 176.6,395.0 177.2,394.8 177.9,394.6 178.6,394.4 179.3,394.2 180.0,394.0 180.7,393.8 181.5,393.6 182.3,393.4 183.1,393.3 183.8,393.1 184.6,393.0 185.4,392.9 186.2,392.9 186.9,392.9 187.7,392.9 188.4,393.0 189.0,393.0 189.5,393.0 190.0,393.1 190.3,393.1 190.7,393.2 191.0,393.3 191.4,393.4 191.8,393.5 192.1,393.6 192.5,393.8 192.8,394.0 193.2,394.2 193.5,394.5 193.8,394.9 194.1,395.3 194.4,395.7 194.7,396.2 195.0,396.8 195.2,397.5 195.4,398.2 195.7,398.9 195.9,399.7 196.0,400.6 196.2,401.7 196.4,403.0 196.6,404.5 196.7,406.0 196.8,407.8 197.0,409.8 197.1,412.2 197.2,415.0 197.3,418.4 197.4,422.2 197.5,426.4 197.6,430.8 197.7,435.4 197.8,440.0 197.9,444.6 198.0,449.4 198.0,454.3 198.1,459.4 198.1,464.6 198.2,470.0 198.3,476.1 198.3,482.9 198.4,489.9 198.4,496.4 198.5,502.0 198.5,506.0" stroke="rgb(128,128,128)" stroke-width="1.5"/>
<path d="M200.2,506.0 200.2,502.0 200.3,496.4 200.3,489.9 200.4,482.9 200.4,476.1 200.5,470.0 200.6,464.6 200.6,459.4 200.7,454.3 200.7,449.4 200.8,444.6 200.9,440.0 201.0,435.4 201.1,430.8 201.2,426.3 201.3,422.1 201.5,418.3 201.6,415.0 201.8,412.3 201.9,410.1 202.1,408.2 202.3,406.7 202.5,405.3 202.7,404.0 203.0,402.8 203.2,401.9 203.6,401.2 203.9,400.6 204.2,400.0 204.5,399.5 204.8,399.0 205.1,398.6 205.3,398.3 205.6,398.0 205.9,397.6 206.3,397.3 206.7,396.9 207.1,396.6 207.5,396.2 207.9,395.8 208.4,395.4 209.0,395.0 209.6,394.6 210.4,394.1 211.1,393.6 211.9,393.1 212.7,392.7 213.5,392.3 214.3,391.9 215.0,391.6 215.8,391.3 216.5,391.0 217.3,390.7 218.0,390.5 218.7,390.3 219.3,390.1 219.9,389.9 220.5,389.8 221.2,389.7 222.0,389.5 223.0,389.3 224.2,389.1 225.5,388.9 226.7,388.8 227.8,388.6 228.5,388.5" stroke="rgb(128,128,128)" stroke-width="1.5"/>
<path d="M36.5,389.6 L82,389.6" stroke="rgb(128,128,128)" stroke-width="1.3"/>
</g>
<rect x="36.5" y="274.5" width="192.0" height="230.0" fill="none" stroke="#3a3a3a" stroke-width="1"/>
<line x1="46.60" y1="504.50" x2="46.60" y2="500.50" stroke="#3a3a3a" stroke-width="1"/>
<line x1="46.60" y1="274.50" x2="46.60" y2="278.50" stroke="#3a3a3a" stroke-width="1"/>
<line x1="86.90" y1="504.50" x2="86.90" y2="500.50" stroke="#3a3a3a" stroke-width="1"/>
<line x1="86.90" y1="274.50" x2="86.90" y2="278.50" stroke="#3a3a3a" stroke-width="1"/>
<line x1="127.20" y1="504.50" x2="127.20" y2="500.50" stroke="#3a3a3a" stroke-width="1"/>
<line x1="127.20" y1="274.50" x2="127.20" y2="278.50" stroke="#3a3a3a" stroke-width="1"/>
<line x1="167.50" y1="504.50" x2="167.50" y2="500.50" stroke="#3a3a3a" stroke-width="1"/>
<line x1="167.50" y1="274.50" x2="167.50" y2="278.50" stroke="#3a3a3a" stroke-width="1"/>
<line x1="207.80" y1="504.50" x2="207.80" y2="500.50" stroke="#3a3a3a" stroke-width="1"/>
<line x1="207.80" y1="274.50" x2="207.80" y2="278.50" stroke="#3a3a3a" stroke-width="1"/>
<line x1="66.75" y1="504.50" x2="66.75" y2="502.50" stroke="#3a3a3a" stroke-width="1"/>
<line x1="66.75" y1="274.50" x2="66.75" y2="276.50" stroke="#3a3a3a" stroke-width="1"/>
<line x1="107.05" y1="504.50" x2="107.05" y2="502.50" stroke="#3a3a3a" stroke-width="1"/>
<line x1="107.05" y1="274.50" x2="107.05" y2="276.50" stroke="#3a3a3a" stroke-width="1"/>
<line x1="147.35" y1="504.50" x2="147.35" y2="502.50" stroke="#3a3a3a" stroke-width="1"/>
<line x1="147.35" y1="274.50" x2="147.35" y2="276.50" stroke="#3a3a3a" stroke-width="1"/>
<line x1="187.65" y1="504.50" x2="187.65" y2="502.50" stroke="#3a3a3a" stroke-width="1"/>
<line x1="187.65" y1="274.50" x2="187.65" y2="276.50" stroke="#3a3a3a" stroke-width="1"/>
<line x1="36.50" y1="312.90" x2="40.50" y2="312.90" stroke="#3a3a3a" stroke-width="1"/>
<line x1="228.50" y1="312.90" x2="224.50" y2="312.90" stroke="#3a3a3a" stroke-width="1"/>
<line x1="36.50" y1="351.25" x2="40.50" y2="351.25" stroke="#3a3a3a" stroke-width="1"/>
<line x1="228.50" y1="351.25" x2="224.50" y2="351.25" stroke="#3a3a3a" stroke-width="1"/>
<line x1="36.50" y1="389.60" x2="40.50" y2="389.60" stroke="#3a3a3a" stroke-width="1"/>
<line x1="228.50" y1="389.60" x2="224.50" y2="389.60" stroke="#3a3a3a" stroke-width="1"/>
<line x1="36.50" y1="427.95" x2="40.50" y2="427.95" stroke="#3a3a3a" stroke-width="1"/>
<line x1="228.50" y1="427.95" x2="224.50" y2="427.95" stroke="#3a3a3a" stroke-width="1"/>
<line x1="36.50" y1="466.30" x2="40.50" y2="466.30" stroke="#3a3a3a" stroke-width="1"/>
<line x1="228.50" y1="466.30" x2="224.50" y2="466.30" stroke="#3a3a3a" stroke-width="1"/>
<line x1="36.50" y1="293.73" x2="38.50" y2="293.73" stroke="#3a3a3a" stroke-width="1"/>
<line x1="228.50" y1="293.73" x2="226.50" y2="293.73" stroke="#3a3a3a" stroke-width="1"/>
<line x1="36.50" y1="332.08" x2="38.50" y2="332.08" stroke="#3a3a3a" stroke-width="1"/>
<line x1="228.50" y1="332.08" x2="226.50" y2="332.08" stroke="#3a3a3a" stroke-width="1"/>
<line x1="36.50" y1="370.43" x2="38.50" y2="370.43" stroke="#3a3a3a" stroke-width="1"/>
<line x1="228.50" y1="370.43" x2="226.50" y2="370.43" stroke="#3a3a3a" stroke-width="1"/>
<line x1="36.50" y1="408.78" x2="38.50" y2="408.78" stroke="#3a3a3a" stroke-width="1"/>
<line x1="228.50" y1="408.78" x2="226.50" y2="408.78" stroke="#3a3a3a" stroke-width="1"/>
<line x1="36.50" y1="447.12" x2="38.50" y2="447.12" stroke="#3a3a3a" stroke-width="1"/>
<line x1="228.50" y1="447.12" x2="226.50" y2="447.12" stroke="#3a3a3a" stroke-width="1"/>
<line x1="36.50" y1="485.48" x2="38.50" y2="485.48" stroke="#3a3a3a" stroke-width="1"/>
<line x1="228.50" y1="485.48" x2="226.50" y2="485.48" stroke="#3a3a3a" stroke-width="1"/>
<text x="30.80" y="278.15" font-size="10" text-anchor="end" fill="#111" font-weight="normal" >3</text>
<text x="30.80" y="316.50" font-size="10" text-anchor="end" fill="#111" font-weight="normal" >2</text>
<text x="30.80" y="354.85" font-size="10" text-anchor="end" fill="#111" font-weight="normal" >1</text>
<text x="30.80" y="393.20" font-size="10" text-anchor="end" fill="#111" font-weight="normal" >0</text>
<text x="30.80" y="431.55" font-size="10" text-anchor="end" fill="#111" font-weight="normal" >-1</text>
<text x="30.80" y="469.90" font-size="10" text-anchor="end" fill="#111" font-weight="normal" >-2</text>
<text x="30.80" y="508.25" font-size="10" text-anchor="end" fill="#111" font-weight="normal" >-3</text>
<text x="46.60" y="518.50" font-size="10" text-anchor="middle" fill="#111" font-weight="normal" >3.4</text>
<text x="86.90" y="518.50" font-size="10" text-anchor="middle" fill="#111" font-weight="normal" >3.6</text>
<text x="127.20" y="518.50" font-size="10" text-anchor="middle" fill="#111" font-weight="normal" >3.8</text>
<text x="167.50" y="518.50" font-size="10" text-anchor="middle" fill="#111" font-weight="normal" >4.0</text>
<text x="207.80" y="518.50" font-size="10" text-anchor="middle" fill="#111" font-weight="normal" >4.2</text>
<text x="34.00" y="267.30" font-size="14.6" text-anchor="start" fill="#111" font-weight="normal" >b)</text>
<text x="132.60" y="539.00" font-size="14" text-anchor="start" fill="#111" font-weight="normal" >Cell Voltage / V</text>
<text transform="translate(16.4,485.2) rotate(-90)" font-size="13.7" text-anchor="start" fill="#111">Differential Capacity / Ah g<tspan font-size="9" dy="-5.3">-1</tspan><tspan dy="5.3"> V</tspan><tspan font-size="9" dy="-5.3">-1</tspan></text>
<rect x="258.5" y="274.5" width="85" height="106" fill="rgb(236,204,246)"/>
<clipPath id="c1"><rect x="258.5" y="274.5" width="85" height="106"/></clipPath>
<g clip-path="url(#c1)" fill="none" stroke-linejoin="round">
<path d="M258.2,312.7 259.0,312.4 260.0,311.9 261.2,311.3 262.6,310.8 263.9,310.2 265.2,309.7 266.4,309.2 267.7,308.7 269.0,308.3 270.3,307.9 271.5,307.5 272.8,307.4 274.1,307.4 275.4,307.6 276.6,307.9 277.9,308.3 279.1,308.7 280.3,309.0 281.4,309.3 282.6,309.6 283.7,309.9 284.7,310.1 285.7,310.3 286.6,310.3 287.4,310.2 288.1,310.0 288.8,309.8 289.4,309.6 290.0,309.3 290.7,309.1 291.5,308.9 292.3,308.8 293.1,308.7 294.0,308.6 294.7,308.5 295.4,308.3 296.0,308.2 296.5,308.0 296.9,307.8 297.3,307.5 297.7,307.2 298.2,306.9 298.7,306.5 299.2,306.1 299.7,305.6 300.2,305.1 300.6,304.6 301.1,304.1 301.5,303.6 302.0,303.0 302.4,302.5 302.8,301.9 303.2,301.3 303.7,300.6 304.2,299.9 304.7,299.2 305.2,298.5 305.7,297.8 306.2,297.0 306.7,296.3 307.2,295.5 307.7,294.7 308.3,293.9 308.8,293.2 309.3,292.5 309.7,292.1 310.1,291.7 310.5,291.4 310.8,291.2 311.1,291.0 311.5,290.9 311.8,290.8 312.1,290.8 312.5,290.8 312.8,290.7 313.1,290.7 313.4,290.7 313.7,290.6 313.9,290.5 314.1,290.5 314.3,290.4 314.5,290.3 314.6,290.3 314.8,290.3 315.0,290.2 315.2,290.2 315.3,290.2 315.5,290.2 315.8,290.3 316.0,290.4 316.3,290.5 316.6,290.7 316.9,290.9 317.3,291.2 317.7,291.5 318.0,291.9 318.3,292.4 318.7,292.9 319.0,293.5 319.3,294.2 319.7,295.0 320.0,295.7 320.3,296.5 320.6,297.3 320.9,298.1 321.2,298.9 321.5,299.7 321.8,300.5 322.2,301.3 322.5,302.1 323.0,302.8 323.4,303.6 323.8,304.3 324.2,305.0 324.6,305.7 325.0,306.4 325.5,307.1 325.9,307.7 326.3,308.3 326.8,308.8 327.3,309.3 327.7,309.7 328.2,310.0 328.7,310.3 329.2,310.7 329.7,311.0 330.2,311.3 330.8,311.7 331.3,312.0 331.9,312.4 332.5,312.7 333.1,313.0 333.8,313.3 334.5,313.6 335.3,313.9 336.1,314.1 336.9,314.4 337.7,314.6 338.6,314.8 339.7,315.0 340.7,315.1 341.7,315.3 342.6,315.4 343.2,315.5" stroke="rgb(112,184,48)" stroke-width="1.3"/>
<path d="M258.2,312.2 259.0,311.9 260.0,311.4 261.2,310.8 262.6,310.3 263.9,309.7 265.2,309.2 266.4,308.7 267.7,308.2 269.0,307.8 270.3,307.4 271.5,307.0 272.8,306.9 274.1,306.9 275.4,307.1 276.6,307.4 277.9,307.8 279.1,308.2 280.3,308.5 281.4,308.8 282.6,309.1 283.7,309.5 284.7,309.8 285.7,310.0 286.6,310.2 287.4,310.3 288.1,310.3 288.8,310.3 289.4,310.2 290.0,310.2 290.7,310.1 291.5,310.1 292.3,310.0 293.1,310.0 294.0,309.9 294.7,309.8 295.4,309.7 296.0,309.5 296.5,309.3 296.9,309.1 297.3,308.8 297.7,308.5 298.2,308.2 298.7,307.8 299.2,307.3 299.7,306.8 300.2,306.2 300.6,305.7 301.1,305.1 301.5,304.6 302.0,304.0 302.4,303.4 302.8,302.8 303.2,302.2 303.7,301.5 304.2,300.8 304.7,300.1 305.2,299.4 305.7,298.6 306.2,297.8 306.7,297.0 307.2,296.1 307.7,295.2 308.3,294.3 308.8,293.4 309.3,292.5 309.7,291.7 310.1,291.0 310.5,290.4 310.8,289.8 311.1,289.2 311.5,288.7 311.8,288.2 312.1,287.7 312.5,287.2 312.8,286.7 313.1,286.3 313.4,285.9 313.7,285.6 313.9,285.3 314.1,285.1 314.3,284.9 314.5,284.7 314.6,284.7 314.8,284.6 315.0,284.6 315.2,284.6 315.3,284.7 315.5,284.9 315.8,285.1 316.0,285.4 316.3,285.9 316.6,286.5 316.9,287.2 317.3,288.0 317.7,288.8 318.0,289.6 318.3,290.4 318.7,291.3 319.0,292.3 319.3,293.2 319.7,294.2 320.0,295.1 320.3,296.1 320.6,297.0 320.9,297.9 321.2,298.7 321.5,299.6 321.8,300.4 322.2,301.2 322.5,302.0 323.0,302.8 323.4,303.6 323.8,304.3 324.2,305.0 324.6,305.7 325.0,306.4 325.5,307.1 325.9,307.7 326.3,308.3 326.8,308.8 327.3,309.3 327.7,309.7 328.2,310.0 328.7,310.3 329.2,310.7 329.7,311.0 330.2,311.3 330.8,311.7 331.3,312.0 331.9,312.4 332.5,312.7 333.1,313.0 333.8,313.3 334.5,313.6 335.3,313.9 336.1,314.1 336.9,314.4 337.7,314.6 338.6,314.8 339.7,315.0 340.7,315.2 341.7,315.3 342.6,315.4 343.2,315.5" stroke="rgb(20,120,60)" stroke-width="1.3"/>
<path d="M258.8,312.2 259.6,311.9 260.6,311.4 261.8,310.8 263.2,310.3 264.5,309.7 265.8,309.2 267.0,308.7 268.3,308.2 269.6,307.8 270.9,307.4 272.1,307.0 273.4,306.9 274.7,306.9 276.0,307.1 277.2,307.4 278.5,307.8 279.7,308.2 280.9,308.5 282.0,308.8 283.2,309.1 284.3,309.5 285.3,309.8 286.3,310.0 287.2,310.2 288.0,310.3 288.7,310.3 289.4,310.3 290.0,310.2 290.6,310.2 291.3,310.1 292.1,310.1 292.9,310.0 293.7,310.0 294.6,309.9 295.3,309.8 296.0,309.7 296.6,309.5 297.1,309.3 297.5,309.1 297.9,308.8 298.3,308.5 298.8,308.2 299.3,307.8 299.8,307.3 300.3,306.8 300.8,306.2 301.2,305.7 301.7,305.1 302.1,304.6 302.6,304.0 303.0,303.4 303.4,302.8 303.8,302.2 304.3,301.5 304.8,300.8 305.3,300.1 305.8,299.4 306.3,298.6 306.8,297.8 307.3,297.0 307.8,296.1 308.3,295.2 308.9,294.2 309.4,293.3 309.9,292.3 310.3,291.5 310.7,290.7 311.1,290.0 311.4,289.4 311.7,288.7 312.1,288.1 312.4,287.5 312.7,286.9 313.1,286.3 313.4,285.7 313.7,285.2 314.0,284.7 314.3,284.3 314.5,284.0 314.7,283.7 314.9,283.5 315.1,283.3 315.2,283.2 315.4,283.2 315.6,283.2 315.8,283.2 315.9,283.3 316.1,283.5 316.4,283.8 316.6,284.2 316.9,284.8 317.2,285.5 317.6,286.3 317.9,287.2 318.3,288.1 318.6,289.0 318.9,289.9 319.3,290.9 319.6,292.0 319.9,293.0 320.3,294.0 320.6,295.0 320.9,295.9 321.2,296.9 321.5,297.8 321.8,298.7 322.1,299.6 322.4,300.4 322.8,301.2 323.1,302.0 323.6,302.8 324.0,303.6 324.4,304.3 324.8,305.0 325.2,305.7 325.6,306.4 326.1,307.1 326.5,307.7 326.9,308.3 327.4,308.8 327.9,309.3 328.3,309.7 328.8,310.0 329.3,310.3 329.8,310.7 330.3,311.0 330.8,311.3 331.4,311.7 331.9,312.0 332.5,312.4 333.1,312.7 333.7,313.0 334.4,313.3 335.1,313.6 335.9,313.9 336.7,314.1 337.5,314.4 338.3,314.6 339.2,314.8 340.3,315.0 341.3,315.2 342.3,315.3 343.2,315.4 343.8,315.5" stroke="rgb(40,160,220)" stroke-width="1.3"/>
<path d="M259.1,311.7 259.9,311.4 260.9,310.9 262.1,310.3 263.5,309.8 264.8,309.2 266.1,308.7 267.3,308.2 268.6,307.7 269.9,307.3 271.2,306.9 272.4,306.5 273.7,306.4 275.0,306.4 276.3,306.6 277.5,306.9 278.8,307.3 280.0,307.7 281.2,308.0 282.3,308.3 283.5,308.6 284.6,309.0 285.6,309.3 286.6,309.5 287.5,309.7 288.3,309.8 289.0,309.8 289.7,309.8 290.3,309.7 290.9,309.7 291.6,309.6 292.4,309.6 293.2,309.5 294.0,309.5 294.9,309.4 295.6,309.3 296.3,309.2 296.9,309.0 297.4,308.9 297.8,308.6 298.2,308.4 298.6,308.1 299.1,307.8 299.6,307.4 300.1,307.0 300.6,306.5 301.1,306.0 301.5,305.5 302.0,305.0 302.4,304.5 302.9,303.9 303.3,303.4 303.7,302.8 304.1,302.1 304.6,301.5 305.1,300.8 305.6,300.1 306.1,299.4 306.6,298.6 307.1,297.8 307.6,297.0 308.1,296.1 308.6,295.2 309.2,294.2 309.7,293.3 310.2,292.3 310.6,291.5 311.0,290.7 311.4,290.0 311.7,289.4 312.1,288.7 312.4,288.1 312.7,287.5 313.1,286.9 313.4,286.3 313.8,285.7 314.1,285.2 314.4,284.7 314.7,284.3 314.9,284.0 315.2,283.7 315.3,283.5 315.5,283.3 315.7,283.2 315.9,283.2 316.1,283.2 316.3,283.2 316.5,283.3 316.7,283.5 316.9,283.8 317.2,284.2 317.5,284.8 317.8,285.5 318.2,286.3 318.6,287.2 319.0,288.1 319.3,289.0 319.7,289.9 320.0,290.9 320.4,292.0 320.7,293.0 321.0,294.0 321.4,295.0 321.7,295.9 322.0,296.9 322.3,297.8 322.6,298.7 322.9,299.6 323.2,300.4 323.6,301.2 323.9,302.0 324.3,302.8 324.8,303.6 325.2,304.3 325.6,305.0 326.0,305.7 326.4,306.4 326.9,307.1 327.3,307.7 327.7,308.3 328.2,308.8 328.7,309.3 329.1,309.7 329.6,310.0 330.1,310.3 330.6,310.7 331.1,311.0 331.6,311.3 332.2,311.7 332.7,312.0 333.3,312.4 333.9,312.7 334.5,313.0 335.2,313.3 335.9,313.6 336.7,313.9 337.5,314.1 338.3,314.4 339.1,314.6 340.0,314.8 341.1,315.0 342.1,315.2 343.1,315.3 344.0,315.4 344.6,315.5" stroke="rgb(30,80,160)" stroke-width="1.3"/>
<path d="M258.5,311.0 259.3,310.7 260.3,310.2 261.5,309.6 262.9,309.1 264.2,308.5 265.5,308.0 266.7,307.5 268.0,307.0 269.3,306.6 270.6,306.2 271.8,305.8 273.1,305.7 274.4,305.7 275.7,305.9 276.9,306.3 278.2,306.6 279.4,307.0 280.6,307.3 281.7,307.6 282.9,307.9 284.0,308.3 285.0,308.6 286.0,308.8 286.9,309.0 287.7,309.1 288.4,309.1 289.1,309.1 289.7,309.0 290.3,309.0 291.0,308.9 291.8,308.9 292.6,308.8 293.4,308.8 294.3,308.7 295.0,308.7 295.7,308.5 296.3,308.4 296.8,308.2 297.2,308.0 297.6,307.8 298.0,307.6 298.5,307.3 299.0,307.0 299.5,306.6 300.0,306.2 300.5,305.7 300.9,305.3 301.4,304.8 301.8,304.3 302.3,303.8 302.7,303.3 303.1,302.7 303.5,302.1 304.0,301.5 304.5,300.8 305.0,300.1 305.5,299.4 306.0,298.6 306.5,297.8 307.0,297.0 307.5,296.1 308.0,295.2 308.6,294.2 309.1,293.3 309.6,292.3 310.0,291.5 310.4,290.7 310.8,290.0 311.1,289.4 311.4,288.7 311.8,288.1 312.1,287.5 312.4,286.9 312.8,286.3 313.1,285.7 313.4,285.2 313.7,284.7 314.0,284.3 314.2,284.0 314.4,283.7 314.6,283.5 314.8,283.3 314.9,283.2 315.1,283.2 315.3,283.2 315.5,283.2 315.6,283.3 315.8,283.5 316.1,283.8 316.3,284.2 316.6,284.8 316.9,285.5 317.2,286.3 317.6,287.2 318.0,288.1 318.3,289.0 318.6,289.9 319.0,290.9 319.3,292.0 319.6,293.0 320.0,294.0 320.3,295.0 320.6,295.9 320.9,296.9 321.2,297.8 321.5,298.7 321.8,299.6 322.1,300.4 322.5,301.2 322.8,302.0 323.3,302.8 323.7,303.6 324.1,304.3 324.5,305.0 324.9,305.7 325.3,306.4 325.8,307.0 326.2,307.7 326.6,308.3 327.1,308.8 327.6,309.3 328.0,309.7 328.5,310.0 329.0,310.3 329.5,310.7 330.0,311.0 330.5,311.3 331.1,311.7 331.6,312.0 332.2,312.4 332.8,312.7 333.4,313.0 334.1,313.3 334.8,313.6 335.6,313.9 336.4,314.1 337.2,314.4 338.0,314.6 338.9,314.8 340.0,315.0 341.0,315.1 342.0,315.3 342.9,315.4 343.5,315.5" stroke="rgb(128,128,128)" stroke-width="1.3"/>
<path d="M258.8,341.4 259.2,341.2 259.7,341.0 260.3,340.7 261.0,340.4 261.7,340.1 262.3,339.8 262.9,339.5 263.4,339.3 264.0,339.0 264.6,338.7 265.2,338.4 265.8,338.2 266.5,338.0 267.2,337.7 267.9,337.5 268.6,337.3 269.4,337.1 270.3,337.0 271.3,336.9 272.4,336.7 273.5,336.6 274.6,336.6 275.7,336.6 276.6,336.6 277.4,336.7 278.0,336.8 278.6,337.0 279.2,337.2 279.7,337.5 280.3,337.8 280.9,338.1 281.4,338.4 282.0,338.8 282.5,339.2 283.1,339.7 283.7,340.3 284.4,341.1 285.1,342.0 285.9,343.0 286.7,344.0 287.4,345.0 288.0,345.9 288.5,346.8 288.9,347.5 289.2,348.3 289.5,349.1 289.8,349.8 290.1,350.7 290.4,351.5 290.7,352.5 290.9,353.4 291.1,354.3 291.4,355.2 291.6,356.0 291.8,356.6 292.0,357.2 292.2,357.8 292.4,358.3 292.6,358.8 292.8,359.3 293.0,359.8 293.1,360.4 293.3,360.9 293.4,361.4 293.5,361.9 293.7,362.4 293.9,362.8 294.0,363.2 294.2,363.5 294.4,363.9 294.5,364.2 294.7,364.5 294.8,364.8 295.0,365.1 295.1,365.3 295.2,365.5 295.3,365.6 295.4,365.6 295.5,365.6 295.6,365.6 295.8,365.4 295.9,365.3 296.0,365.1 296.2,364.8 296.4,364.5 296.5,364.1 296.7,363.7 296.9,363.2 297.1,362.7 297.3,362.2 297.5,361.7 297.7,361.2 298.0,360.6 298.2,360.0 298.4,359.3 298.7,358.4 299.0,357.4 299.2,356.3 299.5,355.0 299.8,353.7 300.1,352.4 300.4,351.3 300.7,350.3 301.0,349.5 301.3,348.7 301.6,348.0 301.9,347.2 302.3,346.5 302.7,345.7 303.2,344.9 303.7,344.2 304.2,343.4 304.7,342.7 305.2,342.1 305.7,341.5 306.2,341.0 306.7,340.5 307.2,340.1 307.7,339.6 308.3,339.2 308.9,338.8 309.6,338.3 310.2,337.9 310.9,337.5 311.6,337.2 312.3,336.8 313.0,336.5 313.6,336.2 314.2,335.9 314.9,335.6 315.6,335.3 316.3,335.0 317.1,334.7 317.8,334.4 318.6,334.0 319.4,333.7 320.3,333.4 321.2,333.1 322.1,332.8 323.1,332.6 324.2,332.4 325.2,332.2 326.3,332.0 327.3,331.8 328.4,331.6 329.5,331.4 330.6,331.2 331.7,330.9 332.7,330.8 333.7,330.6 334.6,330.5 335.3,330.4 336.1,330.3 336.8,330.2 337.5,330.2 338.3,330.1 339.2,330.0 340.3,330.0 341.3,329.9 342.3,329.9 343.2,329.8 343.8,329.8" stroke="rgb(112,184,48)" stroke-width="1.3"/>
<path d="M258.8,340.1 259.2,339.9 259.7,339.7 260.3,339.4 261.0,339.1 261.7,338.8 262.3,338.5 262.9,338.2 263.4,338.0 264.0,337.7 264.6,337.4 265.2,337.1 265.8,336.9 266.5,336.7 267.2,336.4 267.9,336.2 268.6,336.0 269.4,335.8 270.3,335.6 271.3,335.4 272.4,335.2 273.5,335.1 274.6,334.9 275.7,334.8 276.6,334.9 277.4,335.0 278.0,335.2 278.6,335.5 279.2,335.8 279.7,336.1 280.3,336.5 280.9,336.8 281.4,337.2 282.0,337.5 282.5,338.0 283.1,338.5 283.7,339.1 284.4,339.8 285.1,340.7 285.9,341.7 286.7,342.8 287.4,343.8 288.0,344.7 288.5,345.6 288.9,346.4 289.2,347.2 289.5,348.0 289.8,348.8 290.1,349.7 290.4,350.7 290.7,351.8 290.9,352.9 291.1,354.0 291.4,355.1 291.6,356.1 291.8,357.1 292.0,358.0 292.2,358.9 292.4,359.8 292.6,360.8 292.8,361.7 293.0,362.7 293.1,363.7 293.3,364.7 293.4,365.7 293.5,366.7 293.7,367.6 293.9,368.5 294.0,369.5 294.2,370.4 294.4,371.3 294.5,372.0 294.7,372.7 294.8,373.3 295.0,373.7 295.1,374.1 295.2,374.4 295.3,374.6 295.4,374.7 295.5,374.6 295.6,374.5 295.8,374.2 295.9,373.8 296.0,373.3 296.2,372.7 296.4,371.9 296.5,371.0 296.7,370.0 296.9,368.9 297.1,367.8 297.3,366.7 297.5,365.6 297.7,364.5 298.0,363.4 298.2,362.2 298.4,361.0 298.7,359.7 299.0,358.3 299.2,356.8 299.5,355.3 299.8,353.8 300.1,352.4 300.4,351.2 300.7,350.2 301.0,349.3 301.3,348.4 301.6,347.7 301.9,347.0 302.3,346.2 302.7,345.4 303.2,344.6 303.7,343.9 304.2,343.1 304.7,342.4 305.2,341.8 305.7,341.2 306.2,340.7 306.7,340.2 307.2,339.8 307.7,339.3 308.3,338.9 308.9,338.5 309.6,338.0 310.2,337.6 310.9,337.2 311.6,336.9 312.3,336.5 313.0,336.2 313.6,335.9 314.2,335.6 314.9,335.3 315.6,335.0 316.3,334.7 317.1,334.4 317.8,334.1 318.6,333.7 319.4,333.4 320.3,333.1 321.2,332.8 322.1,332.5 323.1,332.3 324.2,332.1 325.2,331.9 326.3,331.7 327.3,331.5 328.4,331.3 329.5,331.1 330.6,330.9 331.7,330.6 332.7,330.5 333.7,330.3 334.6,330.2 335.3,330.1 336.1,330.0 336.8,329.9 337.5,329.9 338.3,329.8 339.2,329.7 340.3,329.7 341.3,329.6 342.3,329.6 343.2,329.5 343.8,329.5" stroke="rgb(20,120,60)" stroke-width="1.3"/>
<path d="M258.7,340.9 259.1,340.7 259.6,340.5 260.2,340.2 260.9,339.9 261.6,339.6 262.2,339.3 262.8,339.0 263.3,338.8 263.9,338.5 264.5,338.2 265.1,337.9 265.7,337.7 266.4,337.5 267.1,337.2 267.8,337.0 268.5,336.8 269.3,336.6 270.2,336.5 271.2,336.4 272.3,336.2 273.4,336.1 274.5,336.1 275.6,336.1 276.5,336.1 277.3,336.2 277.9,336.3 278.5,336.5 279.1,336.7 279.6,337.0 280.2,337.3 280.8,337.6 281.3,337.9 281.9,338.3 282.4,338.7 283.0,339.2 283.6,339.8 284.3,340.6 285.0,341.5 285.8,342.5 286.6,343.5 287.3,344.5 287.9,345.5 288.4,346.3 288.8,347.1 289.1,347.9 289.4,348.7 289.7,349.5 290.0,350.4 290.3,351.4 290.6,352.4 290.8,353.5 291.0,354.6 291.3,355.7 291.5,356.7 291.7,357.7 291.9,358.6 292.1,359.5 292.3,360.4 292.5,361.3 292.7,362.2 292.9,363.2 293.0,364.2 293.2,365.2 293.3,366.1 293.4,367.1 293.6,368.0 293.8,369.0 293.9,369.9 294.1,370.8 294.3,371.7 294.4,372.4 294.6,373.1 294.7,373.6 294.9,374.1 295.0,374.5 295.1,374.8 295.2,375.0 295.3,375.1 295.4,375.0 295.5,374.8 295.7,374.5 295.8,374.2 295.9,373.6 296.1,373.0 296.3,372.3 296.4,371.4 296.6,370.3 296.8,369.2 297.0,368.1 297.2,367.0 297.4,365.9 297.6,364.8 297.9,363.7 298.1,362.5 298.3,361.3 298.6,360.0 298.9,358.6 299.1,357.2 299.4,355.6 299.7,354.1 300.0,352.7 300.3,351.5 300.6,350.5 300.9,349.6 301.2,348.7 301.5,348.0 301.8,347.3 302.2,346.5 302.6,345.7 303.1,344.9 303.6,344.2 304.1,343.4 304.6,342.7 305.1,342.1 305.6,341.5 306.1,341.0 306.6,340.5 307.1,340.1 307.6,339.6 308.2,339.2 308.8,338.8 309.5,338.3 310.1,337.9 310.8,337.5 311.5,337.2 312.2,336.8 312.9,336.5 313.5,336.2 314.1,335.9 314.8,335.6 315.5,335.3 316.2,335.0 317.0,334.7 317.7,334.4 318.5,334.0 319.3,333.7 320.2,333.4 321.1,333.1 322.0,332.8 323.0,332.6 324.1,332.4 325.1,332.2 326.2,332.0 327.2,331.8 328.3,331.6 329.4,331.4 330.5,331.2 331.6,330.9 332.6,330.8 333.6,330.6 334.5,330.5 335.2,330.4 336.0,330.3 336.7,330.2 337.4,330.2 338.2,330.1 339.1,330.0 340.2,330.0 341.2,329.9 342.2,329.9 343.1,329.8 343.7,329.8" stroke="rgb(40,160,220)" stroke-width="1.3"/>
<path d="M259.0,340.6 259.4,340.4 259.9,340.2 260.5,339.9 261.2,339.6 261.9,339.3 262.5,339.0 263.1,338.7 263.6,338.5 264.2,338.2 264.8,337.9 265.4,337.6 266.0,337.4 266.7,337.2 267.4,336.9 268.1,336.7 268.8,336.5 269.6,336.3 270.5,336.2 271.5,336.1 272.6,335.9 273.7,335.9 274.8,335.8 275.9,335.8 276.8,335.8 277.6,335.9 278.2,336.0 278.8,336.2 279.4,336.4 279.9,336.7 280.5,337.0 281.1,337.3 281.6,337.6 282.2,338.0 282.7,338.4 283.3,338.9 283.9,339.5 284.6,340.3 285.3,341.2 286.1,342.2 286.9,343.2 287.6,344.3 288.2,345.2 288.7,346.1 289.1,346.9 289.4,347.7 289.7,348.5 290.0,349.3 290.3,350.2 290.6,351.2 290.9,352.3 291.1,353.4 291.3,354.5 291.6,355.6 291.8,356.6 292.0,357.6 292.2,358.5 292.4,359.4 292.6,360.3 292.8,361.3 293.0,362.2 293.2,363.2 293.3,364.2 293.5,365.2 293.6,366.2 293.7,367.2 293.9,368.1 294.1,369.0 294.2,370.0 294.4,370.9 294.6,371.8 294.7,372.5 294.9,373.2 295.0,373.8 295.2,374.2 295.3,374.6 295.4,374.9 295.5,375.1 295.6,375.2 295.7,375.1 295.8,375.0 296.0,374.7 296.1,374.3 296.2,373.8 296.4,373.2 296.6,372.4 296.7,371.5 296.9,370.5 297.1,369.4 297.3,368.3 297.5,367.2 297.7,366.1 297.9,365.0 298.2,363.9 298.4,362.7 298.6,361.5 298.9,360.2 299.2,358.8 299.4,357.3 299.7,355.8 300.0,354.3 300.3,352.9 300.6,351.7 300.9,350.7 301.2,349.8 301.5,348.9 301.8,348.2 302.1,347.5 302.5,346.7 302.9,345.9 303.4,345.1 303.9,344.4 304.4,343.6 304.9,342.9 305.4,342.3 305.9,341.7 306.4,341.2 306.9,340.7 307.4,340.3 307.9,339.8 308.5,339.4 309.1,339.0 309.8,338.5 310.4,338.1 311.1,337.7 311.8,337.4 312.5,337.0 313.2,336.7 313.8,336.4 314.4,336.1 315.1,335.8 315.8,335.5 316.5,335.2 317.3,334.9 318.0,334.6 318.8,334.2 319.6,333.9 320.5,333.6 321.4,333.3 322.3,333.0 323.3,332.8 324.4,332.6 325.4,332.4 326.5,332.2 327.5,332.0 328.6,331.8 329.7,331.6 330.8,331.4 331.9,331.1 332.9,331.0 333.9,330.8 334.8,330.7 335.5,330.6 336.3,330.5 337.0,330.4 337.7,330.4 338.5,330.3 339.4,330.2 340.5,330.2 341.5,330.1 342.5,330.1 343.4,330.0 344.0,330.0" stroke="rgb(30,80,160)" stroke-width="1.3"/>
<path d="M258.3,339.8 258.7,339.6 259.2,339.4 259.8,339.1 260.5,338.8 261.2,338.5 261.8,338.2 262.4,337.9 262.9,337.7 263.5,337.4 264.1,337.1 264.7,336.8 265.3,336.6 266.0,336.4 266.7,336.1 267.4,335.9 268.1,335.7 268.9,335.5 269.8,335.4 270.8,335.3 271.9,335.1 273.0,335.1 274.1,335.0 275.2,335.0 276.1,335.0 276.9,335.1 277.5,335.2 278.1,335.4 278.7,335.6 279.2,335.9 279.8,336.2 280.4,336.5 280.9,336.8 281.5,337.2 282.0,337.6 282.6,338.1 283.2,338.7 283.9,339.5 284.6,340.4 285.4,341.4 286.2,342.4 286.9,343.5 287.5,344.4 288.0,345.3 288.4,346.1 288.7,346.9 289.0,347.7 289.3,348.6 289.6,349.5 289.9,350.5 290.2,351.6 290.4,352.7 290.6,353.9 290.9,355.0 291.1,356.0 291.3,357.0 291.5,358.0 291.7,358.9 291.9,359.9 292.1,360.8 292.3,361.7 292.5,362.7 292.6,363.8 292.8,364.8 292.9,365.8 293.0,366.8 293.2,367.7 293.4,368.7 293.5,369.6 293.7,370.6 293.9,371.4 294.0,372.2 294.2,372.9 294.3,373.5 294.5,374.0 294.6,374.4 294.7,374.7 294.8,374.9 294.9,374.9 295.0,374.9 295.1,374.7 295.3,374.4 295.4,374.1 295.5,373.6 295.7,373.0 295.9,372.2 296.0,371.3 296.2,370.3 296.4,369.2 296.6,368.1 296.8,367.0 297.0,365.9 297.2,364.8 297.5,363.6 297.7,362.5 297.9,361.3 298.2,360.0 298.5,358.6 298.7,357.1 299.0,355.6 299.3,354.1 299.6,352.7 299.9,351.5 300.2,350.5 300.5,349.6 300.8,348.7 301.1,348.0 301.4,347.3 301.8,346.5 302.2,345.7 302.7,344.9 303.2,344.2 303.7,343.4 304.2,342.7 304.7,342.1 305.2,341.5 305.7,341.0 306.2,340.5 306.7,340.1 307.2,339.6 307.8,339.2 308.4,338.8 309.1,338.3 309.7,337.9 310.4,337.5 311.1,337.2 311.8,336.8 312.5,336.5 313.1,336.2 313.7,335.9 314.4,335.6 315.1,335.3 315.8,335.0 316.6,334.7 317.3,334.4 318.1,334.0 318.9,333.7 319.8,333.4 320.7,333.1 321.6,332.8 322.6,332.6 323.7,332.4 324.7,332.2 325.8,332.0 326.8,331.8 327.9,331.6 329.0,331.4 330.1,331.1 331.2,330.9 332.2,330.8 333.2,330.6 334.1,330.5 334.8,330.4 335.6,330.3 336.3,330.2 337.0,330.2 337.8,330.1 338.7,330.0 339.8,330.0 340.8,329.9 341.8,329.9 342.7,329.8 343.3,329.8" stroke="rgb(128,128,128)" stroke-width="1.3"/>
</g>
<rect x="258.5" y="274.5" width="85.0" height="106.0" fill="none" stroke="#3a3a3a" stroke-width="1"/>
<line x1="301.00" y1="380.50" x2="301.00" y2="376.50" stroke="#3a3a3a" stroke-width="1"/>
<line x1="301.00" y1="274.50" x2="301.00" y2="278.50" stroke="#3a3a3a" stroke-width="1"/>
<line x1="279.75" y1="380.50" x2="279.75" y2="378.50" stroke="#3a3a3a" stroke-width="1"/>
<line x1="279.75" y1="274.50" x2="279.75" y2="276.50" stroke="#3a3a3a" stroke-width="1"/>
<line x1="322.25" y1="380.50" x2="322.25" y2="378.50" stroke="#3a3a3a" stroke-width="1"/>
<line x1="322.25" y1="274.50" x2="322.25" y2="276.50" stroke="#3a3a3a" stroke-width="1"/>
<line x1="258.50" y1="299.44" x2="262.50" y2="299.44" stroke="#3a3a3a" stroke-width="1"/>
<line x1="343.50" y1="299.44" x2="339.50" y2="299.44" stroke="#3a3a3a" stroke-width="1"/>
<line x1="258.50" y1="324.38" x2="262.50" y2="324.38" stroke="#3a3a3a" stroke-width="1"/>
<line x1="343.50" y1="324.38" x2="339.50" y2="324.38" stroke="#3a3a3a" stroke-width="1"/>
<line x1="258.50" y1="349.32" x2="262.50" y2="349.32" stroke="#3a3a3a" stroke-width="1"/>
<line x1="343.50" y1="349.32" x2="339.50" y2="349.32" stroke="#3a3a3a" stroke-width="1"/>
<line x1="258.50" y1="374.26" x2="262.50" y2="374.26" stroke="#3a3a3a" stroke-width="1"/>
<line x1="343.50" y1="374.26" x2="339.50" y2="374.26" stroke="#3a3a3a" stroke-width="1"/>
<line x1="258.50" y1="286.97" x2="260.50" y2="286.97" stroke="#3a3a3a" stroke-width="1"/>
<line x1="343.50" y1="286.97" x2="341.50" y2="286.97" stroke="#3a3a3a" stroke-width="1"/>
<line x1="258.50" y1="311.91" x2="260.50" y2="311.91" stroke="#3a3a3a" stroke-width="1"/>
<line x1="343.50" y1="311.91" x2="341.50" y2="311.91" stroke="#3a3a3a" stroke-width="1"/>
<line x1="258.50" y1="336.85" x2="260.50" y2="336.85" stroke="#3a3a3a" stroke-width="1"/>
<line x1="343.50" y1="336.85" x2="341.50" y2="336.85" stroke="#3a3a3a" stroke-width="1"/>
<line x1="258.50" y1="361.79" x2="260.50" y2="361.79" stroke="#3a3a3a" stroke-width="1"/>
<line x1="343.50" y1="361.79" x2="341.50" y2="361.79" stroke="#3a3a3a" stroke-width="1"/>
<text x="253.20" y="278.10" font-size="10" text-anchor="end" fill="#111" font-weight="normal" >0.8</text>
<text x="253.20" y="303.04" font-size="10" text-anchor="end" fill="#111" font-weight="normal" >0.4</text>
<text x="253.20" y="327.98" font-size="10" text-anchor="end" fill="#111" font-weight="normal" >0.0</text>
<text x="253.20" y="352.92" font-size="10" text-anchor="end" fill="#111" font-weight="normal" >-0.4</text>
<text x="253.20" y="377.86" font-size="10" text-anchor="end" fill="#111" font-weight="normal" >-0.8</text>
<text x="258.50" y="394.70" font-size="10" text-anchor="middle" fill="#111" font-weight="normal" >3.9</text>
<text x="301.00" y="394.70" font-size="10" text-anchor="middle" fill="#111" font-weight="normal" >4.0</text>
<text x="343.50" y="394.70" font-size="10" text-anchor="middle" fill="#111" font-weight="normal" >4.1</text>
<rect x="258.5" y="398" width="85" height="107" fill="rgb(252,229,215)"/>
<clipPath id="c2"><rect x="258.5" y="398" width="85" height="107"/></clipPath>
<g clip-path="url(#c2)" fill="none" stroke-linejoin="round">
<path d="M257.9,437.4 258.7,437.4 259.9,437.3 261.2,437.2 262.7,437.2 264.1,437.1 265.4,437.0 266.6,436.9 267.8,436.8 268.9,436.7 270.1,436.6 271.3,436.5 272.5,436.4 273.8,436.3 275.1,436.1 276.4,436.0 277.8,435.8 279.1,435.6 280.4,435.4 281.7,435.2 283.0,435.0 284.3,434.7 285.5,434.5 286.6,434.2 287.6,434.0 288.4,433.8 289.1,433.6 289.7,433.3 290.3,433.1 290.8,432.9 291.4,432.6 292.0,432.3 292.7,432.0 293.3,431.6 293.9,431.3 294.5,430.9 295.1,430.5 295.6,430.2 296.1,429.8 296.6,429.4 297.0,429.0 297.5,428.6 297.9,428.2 298.3,427.8 298.8,427.3 299.2,426.9 299.6,426.4 300.0,425.9 300.4,425.4 300.8,424.8 301.3,424.1 301.7,423.5 302.1,422.9 302.6,422.3 303.0,421.8 303.4,421.4 303.8,421.0 304.2,420.6 304.6,420.2 305.0,420.0 305.4,419.7 305.8,419.5 306.1,419.4 306.4,419.2 306.8,419.1 307.1,419.0 307.4,418.9 307.7,418.7 308.0,418.6 308.2,418.5 308.5,418.3 308.8,418.2 309.0,418.1 309.2,417.9 309.4,417.8 309.6,417.7 309.8,417.7 310.0,417.6 310.2,417.5 310.4,417.5 310.6,417.5 310.8,417.4 311.0,417.4 311.2,417.4 311.4,417.5 311.6,417.6 311.9,417.7 312.1,417.8 312.4,418.0 312.6,418.2 312.9,418.4 313.2,418.6 313.5,418.8 313.8,419.1 314.2,419.4 314.5,419.7 314.9,420.0 315.3,420.3 315.6,420.6 316.0,421.0 316.4,421.3 316.9,421.7 317.4,422.0 318.0,422.4 318.6,422.7 319.3,423.1 320.0,423.5 320.7,424.0 321.4,424.4 322.1,424.8 322.7,425.2 323.3,425.6 324.0,426.0 324.7,426.4 325.4,426.8 326.1,427.3 326.9,427.7 327.7,428.2 328.5,428.6 329.4,429.1 330.4,429.5 331.5,429.9 332.8,430.4 334.1,430.8 335.5,431.3 336.8,431.6 337.9,432.0 338.9,432.3 339.9,432.6 340.9,432.9 341.7,433.1 342.4,433.3 342.9,433.4" stroke="rgb(112,184,48)" stroke-width="1.3"/>
<path d="M254.1,437.4 254.9,437.4 256.1,437.3 257.4,437.2 258.9,437.2 260.3,437.1 261.6,437.0 262.8,436.9 264.0,436.8 265.1,436.7 266.3,436.6 267.5,436.5 268.7,436.4 270.0,436.3 271.3,436.1 272.6,436.0 274.0,435.8 275.3,435.6 276.6,435.4 277.9,435.2 279.2,435.0 280.5,434.7 281.7,434.5 282.8,434.2 283.8,434.0 284.6,433.8 285.3,433.6 285.9,433.3 286.5,433.1 287.0,432.9 287.6,432.6 288.2,432.3 288.9,432.0 289.5,431.6 290.1,431.3 290.7,430.9 291.3,430.5 291.8,430.2 292.3,429.8 292.8,429.4 293.2,429.0 293.7,428.6 294.1,428.2 294.5,427.7 295.0,427.3 295.4,426.8 295.8,426.2 296.2,425.7 296.6,425.0 297.0,424.3 297.5,423.6 297.9,422.8 298.3,421.9 298.8,421.1 299.2,420.3 299.6,419.5 300.0,418.7 300.4,417.9 300.8,417.1 301.2,416.4 301.6,415.7 302.0,415.0 302.3,414.4 302.7,413.7 303.0,413.1 303.3,412.6 303.6,412.1 303.9,411.5 304.2,411.1 304.4,410.6 304.7,410.2 305.0,409.8 305.2,409.5 305.4,409.2 305.6,409.0 305.8,408.8 306.0,408.7 306.2,408.6 306.4,408.6 306.6,408.5 306.8,408.6 307.0,408.6 307.2,408.7 307.4,408.9 307.6,409.2 307.8,409.5 308.1,409.9 308.3,410.4 308.6,410.9 308.8,411.4 309.1,412.0 309.4,412.7 309.7,413.4 310.0,414.1 310.4,414.9 310.7,415.7 311.1,416.4 311.5,417.2 311.8,417.9 312.2,418.6 312.6,419.3 313.1,420.0 313.6,420.6 314.2,421.3 314.8,421.9 315.5,422.5 316.2,423.1 316.9,423.7 317.6,424.2 318.3,424.7 318.9,425.1 319.5,425.6 320.2,426.0 320.9,426.4 321.6,426.8 322.3,427.2 323.1,427.7 323.9,428.2 324.7,428.6 325.6,429.1 326.6,429.5 327.7,429.9 329.0,430.4 330.4,430.8 331.7,431.3 333.0,431.6 334.1,432.0 335.1,432.3 336.1,432.6 337.1,432.9 337.9,433.1 338.6,433.3 339.1,433.4" stroke="rgb(20,120,60)" stroke-width="1.3"/>
<path d="M258.7,437.4 259.5,437.4 260.7,437.3 262.0,437.2 263.5,437.2 264.9,437.1 266.2,437.0 267.4,436.9 268.6,436.8 269.7,436.7 270.9,436.6 272.1,436.5 273.3,436.4 274.6,436.3 275.9,436.1 277.2,436.0 278.6,435.8 279.9,435.6 281.2,435.4 282.5,435.2 283.8,435.0 285.1,434.7 286.3,434.5 287.4,434.2 288.4,434.0 289.2,433.8 289.9,433.6 290.5,433.3 291.1,433.1 291.6,432.9 292.2,432.6 292.8,432.3 293.5,432.0 294.1,431.6 294.7,431.3 295.3,430.9 295.9,430.5 296.4,430.1 296.9,429.8 297.4,429.4 297.8,429.0 298.3,428.5 298.7,428.1 299.1,427.6 299.6,427.1 300.0,426.6 300.4,426.0 300.8,425.4 301.2,424.8 301.6,424.0 302.1,423.2 302.5,422.4 302.9,421.6 303.4,420.7 303.8,420.0 304.2,419.2 304.6,418.4 305.0,417.7 305.4,417.0 305.8,416.3 306.2,415.7 306.6,415.2 306.9,414.6 307.2,414.2 307.6,413.7 307.9,413.3 308.2,412.9 308.5,412.6 308.8,412.2 309.0,411.9 309.3,411.6 309.6,411.4 309.8,411.2 310.0,411.0 310.2,410.9 310.4,410.8 310.6,410.8 310.8,410.7 311.0,410.7 311.2,410.8 311.4,410.8 311.6,410.9 311.8,411.1 312.0,411.2 312.2,411.5 312.4,411.8 312.7,412.2 312.9,412.6 313.2,413.0 313.4,413.5 313.7,414.0 314.0,414.6 314.3,415.2 314.6,415.8 315.0,416.5 315.3,417.1 315.7,417.7 316.1,418.3 316.4,418.9 316.8,419.5 317.2,420.1 317.7,420.6 318.2,421.2 318.8,421.7 319.4,422.2 320.1,422.8 320.8,423.3 321.5,423.8 322.2,424.3 322.9,424.8 323.5,425.2 324.1,425.6 324.8,426.0 325.5,426.4 326.2,426.8 326.9,427.3 327.7,427.7 328.5,428.2 329.3,428.6 330.2,429.1 331.2,429.5 332.3,429.9 333.6,430.4 334.9,430.8 336.3,431.3 337.6,431.6 338.7,432.0 339.7,432.3 340.7,432.6 341.7,432.9 342.5,433.1 343.2,433.3 343.7,433.4" stroke="rgb(40,160,220)" stroke-width="1.3"/>
<path d="M257.9,437.4 258.7,437.4 259.9,437.3 261.2,437.2 262.7,437.2 264.1,437.1 265.4,437.0 266.6,436.9 267.8,436.8 268.9,436.7 270.1,436.6 271.3,436.5 272.5,436.4 273.8,436.3 275.1,436.1 276.4,436.0 277.8,435.8 279.1,435.6 280.4,435.4 281.7,435.2 283.0,435.0 284.3,434.7 285.5,434.5 286.6,434.2 287.6,434.0 288.4,433.8 289.1,433.6 289.7,433.3 290.3,433.1 290.8,432.9 291.4,432.6 292.0,432.3 292.7,432.0 293.3,431.6 293.9,431.3 294.5,430.9 295.1,430.5 295.6,430.2 296.1,429.8 296.6,429.4 297.0,429.0 297.5,428.6 297.9,428.2 298.3,427.7 298.8,427.3 299.2,426.8 299.6,426.3 300.0,425.7 300.4,425.2 300.8,424.5 301.3,423.8 301.7,423.1 302.1,422.4 302.6,421.8 303.0,421.2 303.4,420.6 303.8,420.1 304.2,419.6 304.6,419.1 305.0,418.7 305.4,418.3 305.8,418.0 306.1,417.7 306.4,417.4 306.8,417.2 307.1,416.9 307.4,416.7 307.7,416.5 308.0,416.3 308.2,416.1 308.5,415.9 308.8,415.7 309.0,415.5 309.2,415.4 309.4,415.2 309.6,415.1 309.8,415.1 310.0,415.0 310.2,415.0 310.4,415.0 310.6,414.9 310.9,415.0 311.1,415.0 311.3,415.1 311.6,415.2 311.9,415.3 312.1,415.5 312.4,415.8 312.7,416.1 313.0,416.4 313.4,416.7 313.7,417.0 314.1,417.4 314.5,417.8 314.9,418.2 315.3,418.7 315.7,419.1 316.2,419.5 316.6,419.9 317.1,420.4 317.6,420.8 318.1,421.2 318.7,421.7 319.4,421.9 320.1,422.1 320.8,422.4 321.5,422.7 322.2,423.0 322.9,423.3 323.6,423.7 324.2,424.0 324.8,424.3 325.5,424.6 326.2,424.9 326.9,425.3 327.6,425.7 328.4,426.1 329.2,426.6 330.0,427.2 330.9,427.8 331.9,428.3 333.0,428.9 334.3,429.5 335.6,430.1 337.0,430.6 338.3,431.1 339.4,431.6 340.4,432.0 341.4,432.4 342.4,432.7 343.2,433.0 343.9,433.2 344.4,433.4" stroke="rgb(30,80,160)" stroke-width="1.3"/>
<path d="M258.5,437.4 259.3,437.4 260.5,437.3 261.8,437.2 263.3,437.2 264.7,437.1 266.0,437.0 267.2,436.9 268.4,436.8 269.5,436.7 270.7,436.6 271.9,436.5 273.1,436.4 274.4,436.3 275.7,436.1 277.0,435.9 278.4,435.8 279.7,435.6 281.0,435.4 282.3,435.2 283.6,435.0 284.9,434.7 286.1,434.5 287.2,434.2 288.2,434.0 289.0,433.8 289.7,433.6 290.3,433.3 290.9,433.1 291.4,432.9 292.0,432.6 292.6,432.3 293.3,432.0 293.9,431.6 294.5,431.3 295.1,430.9 295.7,430.5 296.2,430.1 296.7,429.7 297.2,429.3 297.6,428.9 298.1,428.5 298.5,428.0 298.9,427.5 299.4,427.0 299.8,426.4 300.2,425.9 300.6,425.2 301.0,424.5 301.4,423.7 301.9,422.8 302.3,421.9 302.7,420.9 303.2,419.9 303.6,419.0 304.0,418.1 304.4,417.1 304.8,416.2 305.2,415.2 305.6,414.3 306.0,413.5 306.4,412.7 306.7,412.0 307.1,411.3 307.4,410.7 307.7,410.1 308.0,409.5 308.3,409.0 308.6,408.5 308.8,408.0 309.1,407.6 309.4,407.3 309.6,407.0 309.8,406.8 310.0,406.6 310.2,406.5 310.4,406.4 310.6,406.4 310.8,406.4 311.0,406.5 311.2,406.6 311.4,406.7 311.6,406.9 311.8,407.2 312.0,407.5 312.2,407.9 312.5,408.4 312.7,409.0 313.0,409.6 313.2,410.3 313.5,411.0 313.8,411.8 314.1,412.6 314.4,413.4 314.8,414.3 315.1,415.2 315.5,416.0 315.9,416.8 316.2,417.6 316.6,418.3 317.0,419.1 317.5,419.8 318.0,420.5 318.6,421.2 319.2,421.8 319.9,422.5 320.6,423.1 321.3,423.7 322.0,424.2 322.7,424.7 323.3,425.1 323.9,425.6 324.6,426.0 325.3,426.4 326.0,426.8 326.7,427.2 327.5,427.7 328.3,428.2 329.1,428.6 330.0,429.1 331.0,429.5 332.1,429.9 333.4,430.4 334.8,430.8 336.1,431.3 337.4,431.6 338.5,432.0 339.5,432.3 340.5,432.6 341.5,432.9 342.3,433.1 343.0,433.3 343.5,433.4" stroke="rgb(128,128,128)" stroke-width="1.3"/>
<path d="M258.2,442.0 258.6,442.1 259.1,442.3 259.8,442.5 260.4,442.7 261.1,442.9 261.7,443.2 262.2,443.5 262.7,443.8 263.2,444.2 263.7,444.6 264.2,445.0 264.7,445.5 265.2,446.1 265.7,446.7 266.2,447.3 266.7,448.0 267.2,448.7 267.7,449.5 268.1,450.3 268.6,451.2 269.0,452.1 269.4,453.0 269.8,454.0 270.2,455.0 270.6,456.1 271.0,457.2 271.3,458.3 271.7,459.5 272.0,460.8 272.4,462.0 272.8,463.3 273.1,464.6 273.5,465.9 273.8,467.2 274.2,468.6 274.5,470.0 274.8,471.4 275.2,472.9 275.5,474.5 275.9,476.0 276.2,477.5 276.5,479.0 276.8,480.5 277.1,482.0 277.4,483.4 277.7,484.9 278.0,486.2 278.3,487.5 278.6,488.7 278.8,489.8 279.0,490.8 279.2,491.8 279.4,492.7 279.6,493.5 279.8,494.2 279.9,494.9 280.0,495.4 280.1,495.9 280.3,496.2 280.4,496.4 280.5,496.4 280.7,496.3 280.8,496.0 281.0,495.6 281.1,495.1 281.3,494.5 281.5,493.8 281.7,493.1 281.9,492.2 282.2,491.3 282.4,490.2 282.7,489.0 283.0,487.6 283.3,486.1 283.7,484.5 284.0,482.8 284.3,481.1 284.7,479.5 285.1,477.9 285.5,476.3 285.8,474.7 286.2,473.1 286.6,471.6 286.9,470.0 287.2,468.4 287.4,466.9 287.6,465.3 287.8,463.8 288.0,462.4 288.2,461.0 288.4,459.7 288.6,458.4 288.8,457.2 289.0,456.1 289.3,455.0 289.5,454.0 289.8,453.0 290.0,452.1 290.3,451.2 290.6,450.4 290.9,449.7 291.2,449.0 291.6,448.4 292.0,447.8 292.4,447.3 292.8,446.8 293.2,446.4 293.7,446.0 294.2,445.6 294.6,445.3 295.1,445.0 295.6,444.8 296.1,444.5 296.7,444.3 297.3,444.1 297.8,443.9 298.4,443.7 299.1,443.5 299.8,443.4 300.7,443.2 301.7,443.0 302.8,442.9 303.9,442.7 305.2,442.6 306.4,442.4 307.7,442.3 309.0,442.2 310.2,442.0 311.5,441.9 312.9,441.8 314.2,441.6 315.7,441.5 317.2,441.4 318.9,441.2 320.6,441.1 322.3,441.0 324.0,440.8 325.6,440.7 327.2,440.6 328.7,440.4 330.2,440.2 331.7,440.1 333.2,439.9 334.7,439.8 336.2,439.7 337.9,439.6 339.5,439.4 341.0,439.3 342.3,439.3 343.2,439.2" stroke="rgb(128,128,128)" stroke-width="1.3"/>
<path d="M259.7,442.0 260.1,442.1 260.6,442.3 261.3,442.5 261.9,442.7 262.6,442.9 263.2,443.2 263.7,443.5 264.2,443.8 264.7,444.2 265.2,444.6 265.7,445.0 266.2,445.5 266.7,446.1 267.2,446.7 267.7,447.3 268.2,448.0 268.7,448.7 269.2,449.5 269.6,450.3 270.1,451.2 270.5,452.1 270.9,453.0 271.3,454.0 271.7,455.0 272.1,456.1 272.5,457.2 272.8,458.3 273.2,459.5 273.5,460.8 273.9,462.0 274.3,463.3 274.6,464.6 275.0,465.9 275.3,467.2 275.7,468.6 276.0,470.0 276.3,471.4 276.7,472.9 277.0,474.5 277.4,476.0 277.7,477.5 278.0,479.0 278.3,480.5 278.6,482.0 278.9,483.4 279.2,484.9 279.5,486.2 279.8,487.5 280.1,488.7 280.3,489.8 280.5,490.8 280.7,491.8 280.9,492.7 281.1,493.5 281.3,494.2 281.4,494.9 281.5,495.4 281.6,495.9 281.8,496.2 281.9,496.4 282.0,496.4 282.2,496.3 282.3,496.0 282.5,495.6 282.6,495.1 282.8,494.5 283.0,493.8 283.2,493.1 283.4,492.2 283.7,491.3 283.9,490.2 284.2,489.0 284.5,487.6 284.8,486.1 285.2,484.5 285.5,482.8 285.8,481.1 286.2,479.5 286.6,477.9 287.0,476.3 287.3,474.7 287.7,473.1 288.1,471.6 288.4,470.0 288.7,468.4 288.9,466.9 289.1,465.3 289.3,463.8 289.5,462.4 289.7,461.0 289.9,459.7 290.1,458.4 290.3,457.2 290.5,456.1 290.8,455.0 291.0,454.0 291.3,453.0 291.5,452.1 291.8,451.2 292.1,450.4 292.4,449.7 292.7,449.0 293.1,448.4 293.5,447.8 293.9,447.3 294.3,446.8 294.7,446.4 295.2,446.0 295.7,445.6 296.1,445.3 296.6,445.0 297.1,444.8 297.6,444.5 298.2,444.3 298.8,444.1 299.3,443.9 299.9,443.7 300.6,443.5 301.3,443.4 302.2,443.2 303.2,443.0 304.3,442.9 305.4,442.7 306.7,442.6 307.9,442.4 309.2,442.3 310.5,442.2 311.7,442.0 313.0,441.9 314.4,441.8 315.7,441.6 317.2,441.5 318.7,441.4 320.4,441.2 322.1,441.1 323.8,441.0 325.5,440.8 327.1,440.7 328.7,440.6 330.2,440.4 331.7,440.2 333.2,440.1 334.7,439.9 336.2,439.8 337.7,439.7 339.4,439.6 341.0,439.4 342.5,439.3 343.8,439.3 344.7,439.2" stroke="rgb(20,120,60)" stroke-width="1.3"/>
<path d="M261.1,442.0 261.5,442.1 262.0,442.3 262.7,442.5 263.3,442.7 264.0,442.9 264.6,443.2 265.1,443.5 265.6,443.8 266.1,444.2 266.6,444.6 267.1,445.0 267.6,445.5 268.1,446.1 268.6,446.7 269.1,447.3 269.6,448.0 270.1,448.7 270.6,449.5 271.0,450.3 271.5,451.2 271.9,452.1 272.3,453.1 272.7,454.1 273.1,455.1 273.5,456.2 273.9,457.4 274.2,458.6 274.6,459.8 274.9,461.0 275.3,462.3 275.7,463.7 276.0,465.0 276.4,466.4 276.7,467.8 277.1,469.3 277.4,470.8 277.7,472.3 278.1,473.9 278.4,475.5 278.8,477.2 279.1,478.8 279.4,480.4 279.7,482.0 280.0,483.6 280.3,485.2 280.6,486.8 280.9,488.2 281.2,489.6 281.5,490.9 281.7,492.1 281.9,493.2 282.1,494.2 282.3,495.2 282.5,496.0 282.7,496.8 282.8,497.5 282.9,498.1 283.0,498.6 283.2,498.9 283.3,499.1 283.4,499.1 283.6,499.0 283.7,498.7 283.9,498.3 284.0,497.7 284.2,497.1 284.4,496.4 284.6,495.6 284.8,494.7 285.1,493.7 285.3,492.5 285.6,491.2 285.9,489.8 286.2,488.1 286.6,486.4 286.9,484.6 287.2,482.7 287.6,481.0 288.0,479.3 288.4,477.5 288.7,475.8 289.1,474.1 289.5,472.4 289.8,470.8 290.1,469.2 290.3,467.5 290.5,465.9 290.7,464.3 290.9,462.8 291.1,461.4 291.3,460.1 291.5,458.8 291.7,457.5 291.9,456.4 292.2,455.2 292.4,454.2 292.7,453.2 292.9,452.3 293.2,451.4 293.5,450.5 293.8,449.8 294.1,449.1 294.5,448.4 294.9,447.8 295.3,447.3 295.7,446.9 296.1,446.4 296.6,446.0 297.1,445.6 297.5,445.3 298.0,445.0 298.5,444.8 299.0,444.5 299.6,444.3 300.2,444.1 300.7,443.9 301.4,443.7 302.0,443.5 302.7,443.4 303.6,443.2 304.6,443.0 305.7,442.9 306.9,442.7 308.1,442.6 309.3,442.4 310.6,442.3 311.9,442.2 313.1,442.0 314.4,441.9 315.8,441.8 317.1,441.6 318.6,441.5 320.1,441.4 321.8,441.2 323.5,441.1 325.2,441.0 326.9,440.8 328.5,440.7 330.1,440.6 331.6,440.4 333.1,440.2 334.6,440.1 336.1,439.9 337.6,439.8 339.1,439.7 340.8,439.6 342.4,439.4 343.9,439.3 345.2,439.3 346.1,439.2" stroke="rgb(30,80,160)" stroke-width="1.3"/>
<path d="M263.0,442.0 263.4,442.1 263.9,442.3 264.6,442.5 265.2,442.7 265.9,442.9 266.5,443.2 267.0,443.5 267.5,443.8 268.0,444.2 268.5,444.6 269.0,445.0 269.5,445.5 270.0,446.1 270.5,446.7 271.0,447.3 271.5,448.0 272.0,448.8 272.5,449.6 272.9,450.4 273.4,451.3 273.8,452.2 274.2,453.2 274.6,454.2 275.0,455.3 275.4,456.4 275.8,457.6 276.1,458.8 276.5,460.1 276.8,461.4 277.2,462.8 277.6,464.1 277.9,465.6 278.3,467.0 278.6,468.5 279.0,470.1 279.3,471.7 279.6,473.4 280.0,475.1 280.3,476.8 280.7,478.6 281.0,480.4 281.3,482.1 281.6,483.8 281.9,485.6 282.2,487.3 282.5,489.0 282.8,490.6 283.1,492.1 283.4,493.5 283.6,494.8 283.8,496.0 284.0,497.1 284.2,498.2 284.4,499.1 284.6,499.9 284.7,500.7 284.8,501.3 284.9,501.8 285.1,502.2 285.2,502.4 285.3,502.4 285.5,502.3 285.6,501.9 285.8,501.5 285.9,500.9 286.1,500.3 286.3,499.5 286.5,498.7 286.7,497.7 287.0,496.5 287.2,495.3 287.5,493.9 287.8,492.3 288.1,490.5 288.5,488.6 288.8,486.6 289.1,484.7 289.5,482.8 289.9,480.9 290.3,479.0 290.6,477.1 291.0,475.3 291.4,473.5 291.7,471.7 292.0,470.0 292.2,468.3 292.4,466.6 292.6,465.0 292.8,463.4 293.0,461.9 293.2,460.5 293.4,459.1 293.6,457.9 293.8,456.7 294.1,455.5 294.3,454.4 294.6,453.4 294.8,452.4 295.1,451.5 295.4,450.7 295.7,449.9 296.0,449.2 296.4,448.5 296.8,447.9 297.2,447.4 297.6,446.9 298.0,446.5 298.5,446.0 299.0,445.7 299.4,445.3 299.9,445.0 300.4,444.8 300.9,444.5 301.5,444.3 302.1,444.1 302.6,443.9 303.2,443.7 303.9,443.5 304.6,443.4 305.5,443.2 306.5,443.0 307.6,442.9 308.8,442.7 310.0,442.6 311.2,442.4 312.5,442.3 313.8,442.2 315.0,442.0 316.3,441.9 317.7,441.8 319.0,441.6 320.5,441.5 322.0,441.4 323.7,441.2 325.4,441.1 327.1,441.0 328.8,440.8 330.4,440.7 332.0,440.6 333.5,440.4 335.0,440.2 336.5,440.1 338.0,439.9 339.5,439.8 341.0,439.7 342.7,439.6 344.3,439.4 345.8,439.3 347.1,439.3 348.0,439.2" stroke="rgb(40,160,220)" stroke-width="1.3"/>
<path d="M261.9,442.0 262.3,442.1 262.8,442.3 263.5,442.5 264.1,442.7 264.8,442.9 265.4,443.2 265.9,443.5 266.4,443.8 266.9,444.2 267.4,444.6 267.9,445.0 268.4,445.5 268.9,446.0 269.4,446.6 269.9,447.2 270.4,447.9 270.9,448.6 271.4,449.3 271.8,450.0 272.3,450.8 272.7,451.6 273.1,452.5 273.5,453.3 273.9,454.2 274.3,455.1 274.7,456.0 275.0,457.0 275.4,457.9 275.7,458.9 276.1,459.8 276.5,460.7 276.8,461.6 277.2,462.6 277.5,463.5 277.9,464.4 278.2,465.3 278.5,466.2 278.9,467.1 279.2,468.0 279.6,468.8 279.9,469.7 280.2,470.5 280.5,471.3 280.8,472.0 281.1,472.8 281.4,473.5 281.7,474.2 282.0,474.8 282.3,475.4 282.5,475.9 282.7,476.5 282.9,477.0 283.1,477.4 283.3,477.8 283.5,478.2 283.6,478.5 283.7,478.8 283.8,479.1 284.0,479.2 284.1,479.3 284.2,479.2 284.4,479.0 284.5,478.8 284.7,478.4 284.8,478.1 285.0,477.6 285.2,477.1 285.4,476.6 285.6,476.0 285.9,475.4 286.1,474.7 286.4,474.0 286.8,473.2 287.3,472.3 287.8,471.4 288.3,470.4 288.8,469.5 289.2,468.6 289.7,467.8 290.3,466.9 290.8,466.1 291.3,465.3 291.8,464.4 292.1,463.5 292.3,462.5 292.5,461.4 292.7,460.4 292.9,459.3 293.1,458.3 293.2,457.3 293.4,456.3 293.6,455.4 293.8,454.5 294.0,453.7 294.2,452.9 294.4,452.1 294.6,451.3 294.9,450.6 295.1,450.0 295.4,449.3 295.6,448.7 295.9,448.2 296.3,447.7 296.6,447.2 297.0,446.8 297.4,446.4 297.8,446.1 298.2,445.7 298.6,445.4 299.0,445.1 299.5,444.9 299.9,444.7 300.4,444.4 300.9,444.2 301.4,444.0 301.9,443.8 302.5,443.7 303.1,443.5 303.7,443.4 304.5,443.2 305.4,443.0 306.5,442.9 307.6,442.7 308.9,442.6 310.1,442.4 311.4,442.3 312.7,442.2 313.9,442.0 315.2,441.9 316.6,441.8 317.9,441.6 319.4,441.5 320.9,441.4 322.6,441.2 324.3,441.1 326.0,441.0 327.7,440.8 329.3,440.7 330.9,440.6 332.4,440.4 333.9,440.2 335.4,440.1 336.9,439.9 338.4,439.8 339.9,439.7 341.6,439.6 343.2,439.4 344.7,439.3 346.0,439.3 346.9,439.2" stroke="rgb(112,184,48)" stroke-width="1.3"/>
</g>
<rect x="258.5" y="398" width="85.0" height="107" fill="none" stroke="#3a3a3a" stroke-width="1"/>
<line x1="279.75" y1="505.00" x2="279.75" y2="501.00" stroke="#3a3a3a" stroke-width="1"/>
<line x1="279.75" y1="398.00" x2="279.75" y2="402.00" stroke="#3a3a3a" stroke-width="1"/>
<line x1="322.25" y1="505.00" x2="322.25" y2="501.00" stroke="#3a3a3a" stroke-width="1"/>
<line x1="322.25" y1="398.00" x2="322.25" y2="402.00" stroke="#3a3a3a" stroke-width="1"/>
<line x1="301.00" y1="505.00" x2="301.00" y2="503.00" stroke="#3a3a3a" stroke-width="1"/>
<line x1="301.00" y1="398.00" x2="301.00" y2="400.00" stroke="#3a3a3a" stroke-width="1"/>
<line x1="258.50" y1="406.23" x2="262.50" y2="406.23" stroke="#3a3a3a" stroke-width="1"/>
<line x1="343.50" y1="406.23" x2="339.50" y2="406.23" stroke="#3a3a3a" stroke-width="1"/>
<line x1="258.50" y1="439.15" x2="262.50" y2="439.15" stroke="#3a3a3a" stroke-width="1"/>
<line x1="343.50" y1="439.15" x2="339.50" y2="439.15" stroke="#3a3a3a" stroke-width="1"/>
<line x1="258.50" y1="472.07" x2="262.50" y2="472.07" stroke="#3a3a3a" stroke-width="1"/>
<line x1="343.50" y1="472.07" x2="339.50" y2="472.07" stroke="#3a3a3a" stroke-width="1"/>
<line x1="258.50" y1="422.69" x2="260.50" y2="422.69" stroke="#3a3a3a" stroke-width="1"/>
<line x1="343.50" y1="422.69" x2="341.50" y2="422.69" stroke="#3a3a3a" stroke-width="1"/>
<line x1="258.50" y1="455.61" x2="260.50" y2="455.61" stroke="#3a3a3a" stroke-width="1"/>
<line x1="343.50" y1="455.61" x2="341.50" y2="455.61" stroke="#3a3a3a" stroke-width="1"/>
<line x1="258.50" y1="488.53" x2="260.50" y2="488.53" stroke="#3a3a3a" stroke-width="1"/>
<line x1="343.50" y1="488.53" x2="341.50" y2="488.53" stroke="#3a3a3a" stroke-width="1"/>
<text x="253.20" y="409.83" font-size="10" text-anchor="end" fill="#111" font-weight="normal" >2</text>
<text x="253.20" y="442.75" font-size="10" text-anchor="end" fill="#111" font-weight="normal" >0</text>
<text x="253.20" y="475.67" font-size="10" text-anchor="end" fill="#111" font-weight="normal" >-2</text>
<text x="253.20" y="508.59" font-size="10" text-anchor="end" fill="#111" font-weight="normal" >-4</text>
<text x="279.75" y="517.30" font-size="10" text-anchor="middle" fill="#111" font-weight="normal" >4.15</text>
<text x="322.25" y="517.30" font-size="10" text-anchor="middle" fill="#111" font-weight="normal" >4.20</text>
</svg>
</body></html>
